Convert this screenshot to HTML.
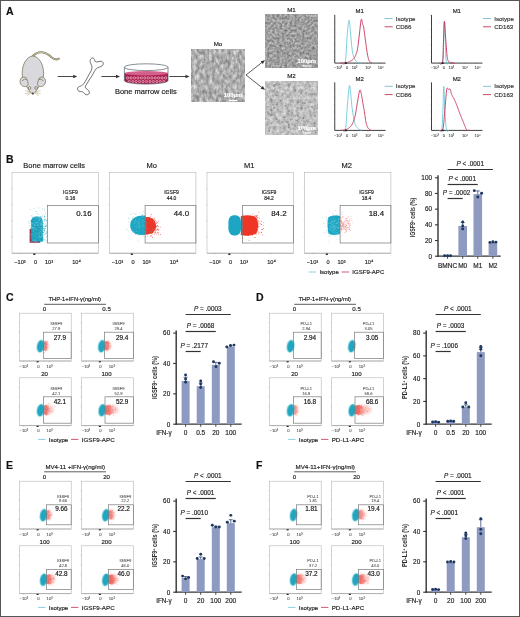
<!DOCTYPE html>
<html><head><meta charset="utf-8"><style>
html,body{margin:0;padding:0;background:#fff;width:520px;height:617px;overflow:hidden}
svg{display:block;will-change:transform}
text{font-family:"Liberation Sans", sans-serif}
</style></head><body>
<svg width="520" height="617" viewBox="0 0 520 617" font-family='"Liberation Sans", sans-serif'>
<defs>
<linearGradient id="rg" x1="0" x2="1" y1="0" y2="0"><stop offset="0" stop-color="#c02a34"/><stop offset="0.25" stop-color="#ec3c36"/><stop offset="0.6" stop-color="#f05a50" stop-opacity="0.8"/><stop offset="1" stop-color="#f5a098" stop-opacity="0.2"/></linearGradient>
<filter id="bl3" x="-50%" y="-50%" width="200%" height="200%"><feGaussianBlur stdDeviation="0.3"/></filter>
<filter id="bl4" x="-50%" y="-50%" width="200%" height="200%"><feGaussianBlur stdDeviation="0.4"/></filter>
<filter id="bl5" x="-50%" y="-50%" width="200%" height="200%"><feGaussianBlur stdDeviation="0.5"/></filter>
<filter id="bl8" x="-50%" y="-50%" width="200%" height="200%"><feGaussianBlur stdDeviation="0.8"/></filter>
<filter id="bl12" x="-50%" y="-50%" width="200%" height="200%"><feGaussianBlur stdDeviation="1.2"/></filter>
</defs>
<rect x="0" y="0" width="520" height="617" fill="#fff"/>
<text x="6.00" y="14.60" font-size="10.5" text-anchor="start" fill="#111" stroke="#111" stroke-width="0.16" font-weight="bold" font-style="normal" >A</text>
<g stroke="#857f66" stroke-width="0.85" fill="#d8d8dd">
<path d="M32.6,56.5 C35,53.5 38,52 42,52.3 C46,52.6 48.5,54.5 51.5,57.2 C54,59.3 56.5,60 58.8,58.6" fill="none" stroke="#857f66" stroke-width="2.1" stroke-linecap="round"/>
<path d="M32.6,56.5 C35,53.5 38,52 42,52.3 C46,52.6 48.5,54.5 51.5,57.2 C54,59.3 56.5,60 58.8,58.6" fill="none" stroke="#c9c3a6" stroke-width="1.0" stroke-linecap="round"/>
<path d="M32.8,56 C26.5,56.5 22.2,64.5 22.2,73.5 C22.2,79 23.5,82.5 25.5,85 L29.5,91 C30.8,93 31.8,93.8 32.8,93.8 C33.8,93.8 34.8,93 36.1,91 L40.1,85 C42.1,82.5 43.6,79 43.6,73.5 C43.6,64.5 39.1,56.5 32.8,56 Z"/>
<path d="M26.5,78.2 C23.5,75.8 19.8,77.5 20.1,81.8 C20.4,85.5 23.5,87.3 26.4,86.3 C27.8,85.8 28.3,84.5 28.2,83.2 Z"/>
<path d="M39.1,78.2 C42.1,75.8 45.8,77.5 45.5,81.8 C45.2,85.5 42.1,87.3 39.2,86.3 C37.8,85.8 37.3,84.5 37.4,83.2 Z"/>
<path d="M22.4,81 C23.2,79.2 25.2,78.7 26.8,79.6" fill="none" stroke="#857f66" stroke-width="0.9"/>
<path d="M43.2,81 C42.4,79.2 40.4,78.7 38.8,79.6" fill="none" stroke="#857f66" stroke-width="0.9"/>
<circle cx="29.5" cy="88" r="1.35" fill="#ececef" stroke="#6e6852" stroke-width="0.75"/>
<circle cx="36.1" cy="88" r="1.35" fill="#ececef" stroke="#6e6852" stroke-width="0.75"/>
<path d="M30.2,92 L25.2,90.6 M30.2,92.6 L25,93.6 M30.6,93.2 L26.8,95.6 M35.4,92 L40.4,90.6 M35.4,92.6 L40.6,93.6 M35,93.2 L38.8,95.6" fill="none" stroke="#b5aa7a" stroke-width="0.6"/>
<circle cx="32.8" cy="93.6" r="1.0" fill="#4a3c28" stroke="none"/>
</g>
<line x1="57.70" y1="76.50" x2="73.70" y2="76.50" stroke="#333" stroke-width="0.9" />
<path d="M77.20,76.50 L73.20,74.80 L73.20,78.20 Z" fill="#333"/>
<path d="M90.5,59.5 C91.5,57 94,57.5 94.5,60 C95,62 96.5,62.5 99,61.5 C102,60.5 104,62.5 103,64.8 C102,66.8 99.5,66.8 97.5,67.8 C95.5,69 94.5,71 93,74 L85.5,86 C84.8,87.3 85.6,88.4 87.2,89.3 C89.5,90.6 90,93 88.6,94.2 C87,95.4 84.8,94.6 84,93.2 C83.2,91.8 81.8,91.5 80.3,91.5 C78.3,91.6 77,89.8 77.6,88.1 C78.3,86.4 80.4,86.2 81.7,85.6 C83,85 84,83.5 85,81.8 L91.3,70.5 C92.4,68.4 92,66 91,64 C90,62.2 89.8,61 90.5,59.5 Z" fill="#fff" stroke="#3a3a3a" stroke-width="0.7"/>
<line x1="101.40" y1="76.50" x2="116.50" y2="76.50" stroke="#333" stroke-width="0.9" />
<path d="M120.00,76.50 L116.00,74.80 L116.00,78.20 Z" fill="#333"/>
<g>
<path d="M124.4,73 L124.4,80.5 A21.8,3.6 0 0 0 168,80.5 L168,73 Z" fill="#a81d4c"/>
<ellipse cx="146.2" cy="73.2" rx="21.8" ry="2.2" fill="#d4608c"/>
<g fill="#b82a5a" stroke="#f6dce6" stroke-width="0.55"><circle cx="127.60" cy="77.90" r="1.2"/><circle cx="131.05" cy="77.90" r="1.2"/><circle cx="134.50" cy="77.90" r="1.2"/><circle cx="137.95" cy="77.90" r="1.2"/><circle cx="141.40" cy="77.90" r="1.2"/><circle cx="144.85" cy="77.90" r="1.2"/><circle cx="148.30" cy="77.90" r="1.2"/><circle cx="151.75" cy="77.90" r="1.2"/><circle cx="155.20" cy="77.90" r="1.2"/><circle cx="158.65" cy="77.90" r="1.2"/><circle cx="162.10" cy="77.90" r="1.2"/><circle cx="165.55" cy="77.90" r="1.2"/><circle cx="129.30" cy="81.50" r="1.1"/><circle cx="132.75" cy="81.50" r="1.1"/><circle cx="136.20" cy="81.50" r="1.1"/><circle cx="139.65" cy="81.50" r="1.1"/><circle cx="143.10" cy="81.50" r="1.1"/><circle cx="146.55" cy="81.50" r="1.1"/><circle cx="150.00" cy="81.50" r="1.1"/><circle cx="153.45" cy="81.50" r="1.1"/><circle cx="156.90" cy="81.50" r="1.1"/><circle cx="160.35" cy="81.50" r="1.1"/><circle cx="163.80" cy="81.50" r="1.1"/></g>
<ellipse cx="146.2" cy="67.2" rx="21.8" ry="3.4" fill="none" stroke="#55606a" stroke-width="0.7"/>
<path d="M124.4,67.2 L124.4,80.5 A21.8,3.6 0 0 0 168,80.5 L168,67.2" fill="none" stroke="#55606a" stroke-width="0.7"/>
</g>
<text x="145.80" y="94.00" font-size="7.5" text-anchor="middle" fill="#1a1a1a" stroke="#1a1a1a" stroke-width="0.16" font-weight="normal" font-style="normal" >Bone marrow cells</text>
<line x1="169.30" y1="76.50" x2="186.00" y2="76.50" stroke="#333" stroke-width="0.9" />
<path d="M189.50,76.50 L185.50,74.80 L185.50,78.20 Z" fill="#333"/>
<filter id="tex3" x="0" y="0" width="100%" height="100%" filterUnits="objectBoundingBox" color-interpolation-filters="sRGB">
<feTurbulence type="fractalNoise" baseFrequency="0.32 0.2" numOctaves="3" seed="3" result="n"/>
<feColorMatrix in="n" type="matrix" values="0.55 0 0 0 0.405  0.55 0 0 0 0.405  0.55 0 0 0 0.405  0 0 0 0 1"/>
</filter>
<rect x="191.3" y="49.5" width="53" height="52.5" filter="url(#tex3)" fill="#888"/>
<text x="242.30" y="97.40" font-size="5.9" text-anchor="end" fill="#fff" stroke="#fff" stroke-width="0.16" font-weight="bold" font-style="normal" textLength="18.5" lengthAdjust="spacingAndGlyphs">100μm</text>
<line x1="229.30" y1="100.50" x2="237.30" y2="100.50" stroke="#fff" stroke-width="1.1" />
<text x="218.00" y="46.00" font-size="6.2" text-anchor="middle" fill="#222" stroke="#222" stroke-width="0.16" font-weight="normal" font-style="normal" >Mo</text>
<filter id="tex5" x="0" y="0" width="100%" height="100%" filterUnits="objectBoundingBox" color-interpolation-filters="sRGB">
<feTurbulence type="fractalNoise" baseFrequency="0.4" numOctaves="3" seed="5" result="n"/>
<feColorMatrix in="n" type="matrix" values="0.5 0 0 0 0.37  0.5 0 0 0 0.37  0.5 0 0 0 0.37  0 0 0 0 1"/>
</filter>
<rect x="265.3" y="14.8" width="52.7" height="52.7" filter="url(#tex5)" fill="#888"/>
<text x="316.00" y="62.90" font-size="5.9" text-anchor="end" fill="#fff" stroke="#fff" stroke-width="0.16" font-weight="bold" font-style="normal" textLength="18.5" lengthAdjust="spacingAndGlyphs">100μm</text>
<line x1="303.00" y1="66.00" x2="311.00" y2="66.00" stroke="#fff" stroke-width="1.1" />
<text x="291.50" y="11.50" font-size="6.2" text-anchor="middle" fill="#222" stroke="#222" stroke-width="0.16" font-weight="normal" font-style="normal" >M1</text>
<filter id="tex9" x="0" y="0" width="100%" height="100%" filterUnits="objectBoundingBox" color-interpolation-filters="sRGB">
<feTurbulence type="fractalNoise" baseFrequency="0.3" numOctaves="3" seed="9" result="n"/>
<feColorMatrix in="n" type="matrix" values="0.4 0 0 0 0.55  0.4 0 0 0 0.55  0.4 0 0 0 0.55  0 0 0 0 1"/>
</filter>
<rect x="265.3" y="81.8" width="52.7" height="52.7" filter="url(#tex9)" fill="#888"/>
<text x="316.00" y="129.90" font-size="5.9" text-anchor="end" fill="#fff" stroke="#fff" stroke-width="0.16" font-weight="bold" font-style="normal" textLength="18.5" lengthAdjust="spacingAndGlyphs">100μm</text>
<line x1="303.00" y1="133.00" x2="311.00" y2="133.00" stroke="#fff" stroke-width="1.1" />
<g fill="#6a6a6a" opacity="0.55"><ellipse cx="289.3" cy="111.1" rx="1.2" ry="0.8"/><ellipse cx="292.0" cy="112.4" rx="0.8" ry="0.8"/><ellipse cx="298.0" cy="122.4" rx="0.7" ry="0.7"/><ellipse cx="271.7" cy="123.2" rx="1.0" ry="0.6"/><ellipse cx="315.1" cy="130.8" rx="1.0" ry="0.8"/><ellipse cx="275.0" cy="84.5" rx="1.0" ry="0.6"/><ellipse cx="276.6" cy="95.6" rx="0.7" ry="0.8"/><ellipse cx="288.8" cy="124.8" rx="1.0" ry="0.9"/><ellipse cx="291.6" cy="116.1" rx="0.9" ry="0.7"/><ellipse cx="315.9" cy="132.3" rx="1.1" ry="0.9"/><ellipse cx="282.7" cy="95.0" rx="0.8" ry="0.6"/><ellipse cx="304.6" cy="103.3" rx="1.1" ry="0.8"/><ellipse cx="314.0" cy="125.1" rx="0.7" ry="0.7"/><ellipse cx="311.6" cy="106.7" rx="1.2" ry="0.8"/><ellipse cx="270.9" cy="114.5" rx="1.1" ry="0.7"/><ellipse cx="271.5" cy="100.0" rx="1.2" ry="0.9"/><ellipse cx="273.0" cy="95.8" rx="0.8" ry="0.6"/><ellipse cx="306.1" cy="92.5" rx="1.0" ry="0.8"/><ellipse cx="276.6" cy="119.4" rx="0.8" ry="0.9"/><ellipse cx="273.0" cy="104.3" rx="0.8" ry="0.7"/><ellipse cx="314.6" cy="122.9" rx="0.9" ry="1.0"/><ellipse cx="277.6" cy="103.0" rx="1.1" ry="0.9"/><ellipse cx="272.2" cy="132.0" rx="0.8" ry="0.7"/><ellipse cx="304.9" cy="99.8" rx="0.8" ry="0.6"/><ellipse cx="271.7" cy="112.2" rx="0.8" ry="0.8"/><ellipse cx="285.4" cy="105.9" rx="1.2" ry="0.8"/><ellipse cx="295.3" cy="126.0" rx="0.8" ry="0.7"/><ellipse cx="311.5" cy="123.6" rx="0.8" ry="0.7"/><ellipse cx="303.3" cy="129.6" rx="0.8" ry="1.0"/><ellipse cx="310.3" cy="113.2" rx="0.9" ry="0.6"/><ellipse cx="269.2" cy="130.7" rx="0.8" ry="0.9"/><ellipse cx="279.8" cy="123.9" rx="1.0" ry="0.7"/><ellipse cx="275.8" cy="118.9" rx="0.7" ry="0.7"/><ellipse cx="294.5" cy="125.3" rx="1.0" ry="0.7"/><ellipse cx="312.0" cy="93.7" rx="0.7" ry="0.7"/><ellipse cx="289.0" cy="86.7" rx="0.8" ry="0.7"/><ellipse cx="295.2" cy="90.2" rx="0.9" ry="1.0"/><ellipse cx="315.1" cy="115.8" rx="1.0" ry="0.8"/><ellipse cx="274.1" cy="85.5" rx="0.7" ry="1.0"/><ellipse cx="301.4" cy="130.7" rx="0.7" ry="0.9"/><ellipse cx="290.8" cy="119.4" rx="0.9" ry="1.0"/><ellipse cx="271.0" cy="110.4" rx="1.1" ry="1.0"/><ellipse cx="303.2" cy="118.1" rx="1.1" ry="1.0"/><ellipse cx="284.4" cy="117.2" rx="1.2" ry="0.9"/><ellipse cx="287.6" cy="122.3" rx="1.1" ry="0.8"/><ellipse cx="297.7" cy="102.4" rx="1.0" ry="0.8"/><ellipse cx="271.2" cy="114.9" rx="1.2" ry="1.0"/><ellipse cx="302.8" cy="102.7" rx="1.1" ry="0.8"/><ellipse cx="288.8" cy="124.6" rx="0.7" ry="0.9"/><ellipse cx="268.8" cy="113.1" rx="0.9" ry="0.7"/><ellipse cx="301.3" cy="108.0" rx="1.0" ry="1.0"/><ellipse cx="279.8" cy="84.4" rx="0.9" ry="0.9"/><ellipse cx="277.2" cy="92.1" rx="1.2" ry="0.9"/><ellipse cx="288.8" cy="127.2" rx="0.9" ry="0.9"/><ellipse cx="277.0" cy="104.8" rx="1.1" ry="1.0"/><ellipse cx="310.2" cy="102.5" rx="1.0" ry="0.7"/><ellipse cx="273.9" cy="108.0" rx="1.1" ry="0.9"/><ellipse cx="301.9" cy="130.1" rx="0.8" ry="0.7"/><ellipse cx="289.2" cy="97.2" rx="0.8" ry="0.8"/><ellipse cx="297.8" cy="107.9" rx="0.9" ry="0.9"/><ellipse cx="315.1" cy="105.8" rx="0.7" ry="0.6"/><ellipse cx="309.8" cy="85.8" rx="1.1" ry="0.8"/><ellipse cx="282.3" cy="122.3" rx="0.7" ry="0.7"/><ellipse cx="289.5" cy="85.0" rx="1.1" ry="0.7"/><ellipse cx="274.2" cy="86.1" rx="1.0" ry="0.8"/><ellipse cx="298.0" cy="115.7" rx="1.1" ry="1.0"/><ellipse cx="300.6" cy="93.5" rx="0.9" ry="0.7"/><ellipse cx="267.8" cy="106.8" rx="1.1" ry="0.7"/><ellipse cx="280.6" cy="100.6" rx="1.0" ry="0.8"/><ellipse cx="297.2" cy="120.6" rx="0.9" ry="0.9"/></g>
<text x="291.50" y="77.50" font-size="6.2" text-anchor="middle" fill="#222" stroke="#222" stroke-width="0.16" font-weight="normal" font-style="normal" >M2</text>
<line x1="246.00" y1="75.00" x2="262.50" y2="62.00" stroke="#333" stroke-width="0.8" />
<path d="M265,60.2 L260.6,61.2 L262.8,64 Z" fill="#333"/>
<line x1="246.00" y1="75.00" x2="262.50" y2="88.00" stroke="#333" stroke-width="0.8" />
<path d="M265,89.8 L262.8,86 L260.6,88.8 Z" fill="#333"/>
<line x1="334.75" y1="15.00" x2="334.75" y2="63.10" stroke="#2a2a2a" stroke-width="0.9" />
<line x1="334.75" y1="63.10" x2="385.60" y2="63.10" stroke="#2a2a2a" stroke-width="0.9" />
<line x1="333.75" y1="15.00" x2="334.75" y2="15.00" stroke="#555" stroke-width="0.4" />
<line x1="333.75" y1="22.40" x2="334.75" y2="22.40" stroke="#555" stroke-width="0.4" />
<line x1="333.75" y1="29.80" x2="334.75" y2="29.80" stroke="#555" stroke-width="0.4" />
<line x1="333.75" y1="37.20" x2="334.75" y2="37.20" stroke="#555" stroke-width="0.4" />
<line x1="333.75" y1="44.60" x2="334.75" y2="44.60" stroke="#555" stroke-width="0.4" />
<line x1="333.75" y1="52.00" x2="334.75" y2="52.00" stroke="#555" stroke-width="0.4" />
<line x1="333.75" y1="59.40" x2="334.75" y2="59.40" stroke="#555" stroke-width="0.4" />
<text x="359.70" y="13.10" font-size="6.0" text-anchor="middle" fill="#222" stroke="#222" stroke-width="0.16" font-weight="normal" font-style="normal" >M1</text>
<text x="337.95" y="69.40" font-size="4.0" text-anchor="middle" fill="#333" stroke="#333" stroke-width="0.05" font-weight="normal" font-style="normal" >−10³</text>
<text x="347.05" y="69.40" font-size="4.0" text-anchor="middle" fill="#333" stroke="#333" stroke-width="0.05" font-weight="normal" font-style="normal" >0</text>
<text x="354.55" y="69.40" font-size="4.0" text-anchor="middle" fill="#333" stroke="#333" stroke-width="0.05" font-weight="normal" font-style="normal" >10³</text>
<text x="368.25" y="69.40" font-size="4.0" text-anchor="middle" fill="#333" stroke="#333" stroke-width="0.05" font-weight="normal" font-style="normal" >10⁴</text>
<text x="380.75" y="69.40" font-size="4.0" text-anchor="middle" fill="#333" stroke="#333" stroke-width="0.05" font-weight="normal" font-style="normal" >10⁵</text>
<line x1="346.35" y1="63.10" x2="346.35" y2="63.90" stroke="#444" stroke-width="0.4" />
<line x1="354.45" y1="63.10" x2="354.45" y2="63.90" stroke="#444" stroke-width="0.4" />
<line x1="367.45" y1="63.10" x2="367.45" y2="63.90" stroke="#444" stroke-width="0.4" />
<line x1="380.05" y1="63.10" x2="380.05" y2="63.90" stroke="#444" stroke-width="0.4" />
<path d="M342.00,63.10 L342.26,63.20 L342.63,63.53 L343.06,63.95 L343.53,64.29 L344.02,64.43 L344.50,64.21 L344.93,63.48 L345.30,62.10 L345.61,59.88 L345.88,56.87 L346.12,53.31 L346.34,49.41 L346.56,45.41 L346.76,41.52 L346.98,37.98 L347.20,35.00 L347.43,32.37 L347.66,29.79 L347.90,27.34 L348.12,25.11 L348.35,23.19 L348.57,21.67 L348.79,20.65 L349.00,20.20 L349.20,20.44 L349.38,21.31 L349.56,22.71 L349.74,24.49 L349.91,26.53 L350.10,28.72 L350.29,30.91 L350.50,33.00 L350.72,35.16 L350.95,37.58 L351.19,40.18 L351.44,42.83 L351.69,45.44 L351.95,47.91 L352.22,50.13 L352.50,52.00 L352.79,53.52 L353.08,54.78 L353.38,55.84 L353.69,56.74 L354.00,57.51 L354.33,58.20 L354.66,58.85 L355.00,59.50 L355.34,60.12 L355.69,60.67 L356.04,61.14 L356.41,61.54 L356.78,61.89 L357.17,62.20 L357.57,62.46 L358.00,62.70 L358.48,62.89 L359.02,63.01 L359.60,63.07 L360.19,63.10 L360.75,63.10 L361.26,63.09 L361.68,63.09 L362.00,63.10" fill="none" stroke="#5cc4d6" stroke-width="0.8" stroke-linejoin="round"/>
<path d="M340.00,63.10 L340.47,63.09 L341.10,63.08 L341.85,63.08 L342.69,63.07 L343.56,63.04 L344.43,62.99 L345.26,62.92 L346.00,62.80 L346.68,62.65 L347.36,62.47 L348.01,62.27 L348.66,62.04 L349.28,61.79 L349.88,61.52 L350.45,61.22 L351.00,60.90 L351.51,60.57 L352.00,60.25 L352.45,59.92 L352.89,59.55 L353.30,59.14 L353.71,58.67 L354.11,58.13 L354.50,57.50 L354.89,56.81 L355.27,56.09 L355.64,55.32 L355.99,54.48 L356.34,53.54 L356.67,52.50 L356.99,51.32 L357.30,50.00 L357.59,48.49 L357.86,46.79 L358.11,44.95 L358.36,43.00 L358.59,40.99 L358.83,38.96 L359.06,36.95 L359.30,35.00 L359.55,32.95 L359.79,30.69 L360.04,28.35 L360.29,26.03 L360.53,23.87 L360.76,21.98 L360.99,20.48 L361.20,19.50 L361.40,19.12 L361.59,19.25 L361.78,19.79 L361.96,20.59 L362.13,21.54 L362.29,22.51 L362.45,23.37 L362.60,24.00 L362.74,24.38 L362.86,24.62 L362.97,24.80 L363.08,24.97 L363.18,25.21 L363.30,25.58 L363.44,26.16 L363.60,27.00 L363.79,28.14 L363.99,29.52 L364.21,31.10 L364.44,32.81 L364.68,34.61 L364.92,36.45 L365.16,38.26 L365.40,40.00 L365.64,41.75 L365.89,43.59 L366.14,45.48 L366.39,47.38 L366.65,49.22 L366.90,50.97 L367.15,52.58 L367.40,54.00 L367.64,55.24 L367.86,56.36 L368.08,57.35 L368.31,58.24 L368.53,59.04 L368.77,59.76 L369.02,60.41 L369.30,61.00 L369.62,61.51 L369.98,61.92 L370.37,62.24 L370.77,62.49 L371.15,62.68 L371.50,62.84 L371.79,62.97 L372.00,63.10" fill="none" stroke="#c8325a" stroke-width="0.9" stroke-linejoin="round"/>
<rect x="344.75" y="62.300000000000004" width="2.2" height="1.6" fill="#222"/>
<line x1="334.75" y1="82.50" x2="334.75" y2="130.40" stroke="#2a2a2a" stroke-width="0.9" />
<line x1="334.75" y1="130.40" x2="385.60" y2="130.40" stroke="#2a2a2a" stroke-width="0.9" />
<line x1="333.75" y1="82.50" x2="334.75" y2="82.50" stroke="#555" stroke-width="0.4" />
<line x1="333.75" y1="89.87" x2="334.75" y2="89.87" stroke="#555" stroke-width="0.4" />
<line x1="333.75" y1="97.24" x2="334.75" y2="97.24" stroke="#555" stroke-width="0.4" />
<line x1="333.75" y1="104.61" x2="334.75" y2="104.61" stroke="#555" stroke-width="0.4" />
<line x1="333.75" y1="111.98" x2="334.75" y2="111.98" stroke="#555" stroke-width="0.4" />
<line x1="333.75" y1="119.35" x2="334.75" y2="119.35" stroke="#555" stroke-width="0.4" />
<line x1="333.75" y1="126.72" x2="334.75" y2="126.72" stroke="#555" stroke-width="0.4" />
<text x="359.70" y="80.60" font-size="6.0" text-anchor="middle" fill="#222" stroke="#222" stroke-width="0.16" font-weight="normal" font-style="normal" >M2</text>
<text x="337.95" y="136.70" font-size="4.0" text-anchor="middle" fill="#333" stroke="#333" stroke-width="0.05" font-weight="normal" font-style="normal" >−10³</text>
<text x="347.05" y="136.70" font-size="4.0" text-anchor="middle" fill="#333" stroke="#333" stroke-width="0.05" font-weight="normal" font-style="normal" >0</text>
<text x="354.55" y="136.70" font-size="4.0" text-anchor="middle" fill="#333" stroke="#333" stroke-width="0.05" font-weight="normal" font-style="normal" >10³</text>
<text x="368.25" y="136.70" font-size="4.0" text-anchor="middle" fill="#333" stroke="#333" stroke-width="0.05" font-weight="normal" font-style="normal" >10⁴</text>
<text x="380.75" y="136.70" font-size="4.0" text-anchor="middle" fill="#333" stroke="#333" stroke-width="0.05" font-weight="normal" font-style="normal" >10⁵</text>
<line x1="346.35" y1="130.40" x2="346.35" y2="131.20" stroke="#444" stroke-width="0.4" />
<line x1="354.45" y1="130.40" x2="354.45" y2="131.20" stroke="#444" stroke-width="0.4" />
<line x1="367.45" y1="130.40" x2="367.45" y2="131.20" stroke="#444" stroke-width="0.4" />
<line x1="380.05" y1="130.40" x2="380.05" y2="131.20" stroke="#444" stroke-width="0.4" />
<path d="M342.00,130.40 L342.27,130.49 L342.64,130.79 L343.08,131.17 L343.57,131.49 L344.07,131.61 L344.56,131.39 L345.01,130.70 L345.40,129.40 L345.73,127.34 L346.02,124.60 L346.29,121.35 L346.54,117.79 L346.78,114.08 L347.02,110.43 L347.26,107.01 L347.50,104.00 L347.75,101.18 L348.00,98.26 L348.25,95.37 L348.49,92.62 L348.73,90.16 L348.96,88.08 L349.19,86.52 L349.40,85.60 L349.60,85.40 L349.78,85.84 L349.95,86.80 L350.11,88.15 L350.27,89.77 L350.44,91.53 L350.61,93.32 L350.80,95.00 L350.99,96.71 L351.19,98.61 L351.38,100.66 L351.58,102.79 L351.79,104.95 L352.01,107.08 L352.25,109.11 L352.50,111.00 L352.77,112.80 L353.06,114.59 L353.36,116.35 L353.67,118.05 L353.99,119.66 L354.32,121.16 L354.66,122.51 L355.00,123.70 L355.34,124.70 L355.69,125.52 L356.04,126.21 L356.41,126.77 L356.78,127.26 L357.17,127.69 L357.57,128.09 L358.00,128.50 L358.48,128.89 L359.02,129.22 L359.60,129.51 L360.19,129.75 L360.75,129.95 L361.26,130.13 L361.68,130.27 L362.00,130.40" fill="none" stroke="#5cc4d6" stroke-width="0.8" stroke-linejoin="round"/>
<path d="M340.00,130.40 L340.48,130.35 L341.12,130.30 L341.90,130.24 L342.75,130.16 L343.63,130.07 L344.50,129.95 L345.30,129.79 L346.00,129.60 L346.60,129.37 L347.16,129.12 L347.69,128.84 L348.19,128.53 L348.66,128.19 L349.12,127.83 L349.56,127.43 L350.00,127.00 L350.43,126.56 L350.83,126.10 L351.22,125.63 L351.59,125.12 L351.96,124.56 L352.31,123.95 L352.66,123.27 L353.00,122.50 L353.34,121.65 L353.67,120.74 L354.00,119.76 L354.31,118.72 L354.62,117.62 L354.92,116.46 L355.21,115.26 L355.50,114.00 L355.77,112.66 L356.03,111.24 L356.28,109.74 L356.52,108.19 L356.76,106.62 L357.00,105.05 L357.24,103.50 L357.50,102.00 L357.77,100.43 L358.05,98.73 L358.34,96.97 L358.63,95.26 L358.92,93.66 L359.19,92.26 L359.46,91.14 L359.70,90.40 L359.92,90.04 L360.12,89.98 L360.30,90.17 L360.48,90.59 L360.65,91.17 L360.82,91.88 L361.00,92.67 L361.20,93.50 L361.41,94.44 L361.63,95.57 L361.86,96.84 L362.09,98.21 L362.33,99.63 L362.56,101.05 L362.78,102.42 L363.00,103.70 L363.21,104.90 L363.42,106.08 L363.62,107.24 L363.83,108.39 L364.02,109.54 L364.22,110.68 L364.41,111.83 L364.60,113.00 L364.78,114.21 L364.95,115.45 L365.11,116.72 L365.28,117.99 L365.44,119.22 L365.61,120.40 L365.80,121.50 L366.00,122.50 L366.21,123.40 L366.43,124.23 L366.66,124.99 L366.90,125.69 L367.15,126.34 L367.42,126.94 L367.70,127.49 L368.00,128.00 L368.35,128.46 L368.75,128.87 L369.18,129.23 L369.62,129.54 L370.05,129.81 L370.44,130.04 L370.76,130.24 L371.00,130.40" fill="none" stroke="#c8325a" stroke-width="0.9" stroke-linejoin="round"/>
<rect x="344.75" y="129.6" width="2.2" height="1.6" fill="#222"/>
<line x1="431.50" y1="15.00" x2="431.50" y2="63.10" stroke="#2a2a2a" stroke-width="0.9" />
<line x1="431.50" y1="63.10" x2="482.50" y2="63.10" stroke="#2a2a2a" stroke-width="0.9" />
<line x1="430.50" y1="15.00" x2="431.50" y2="15.00" stroke="#555" stroke-width="0.4" />
<line x1="430.50" y1="22.40" x2="431.50" y2="22.40" stroke="#555" stroke-width="0.4" />
<line x1="430.50" y1="29.80" x2="431.50" y2="29.80" stroke="#555" stroke-width="0.4" />
<line x1="430.50" y1="37.20" x2="431.50" y2="37.20" stroke="#555" stroke-width="0.4" />
<line x1="430.50" y1="44.60" x2="431.50" y2="44.60" stroke="#555" stroke-width="0.4" />
<line x1="430.50" y1="52.00" x2="431.50" y2="52.00" stroke="#555" stroke-width="0.4" />
<line x1="430.50" y1="59.40" x2="431.50" y2="59.40" stroke="#555" stroke-width="0.4" />
<text x="456.80" y="13.10" font-size="6.0" text-anchor="middle" fill="#222" stroke="#222" stroke-width="0.16" font-weight="normal" font-style="normal" >M1</text>
<text x="434.70" y="69.40" font-size="4.0" text-anchor="middle" fill="#333" stroke="#333" stroke-width="0.05" font-weight="normal" font-style="normal" >−10³</text>
<text x="443.80" y="69.40" font-size="4.0" text-anchor="middle" fill="#333" stroke="#333" stroke-width="0.05" font-weight="normal" font-style="normal" >0</text>
<text x="451.30" y="69.40" font-size="4.0" text-anchor="middle" fill="#333" stroke="#333" stroke-width="0.05" font-weight="normal" font-style="normal" >10³</text>
<text x="465.00" y="69.40" font-size="4.0" text-anchor="middle" fill="#333" stroke="#333" stroke-width="0.05" font-weight="normal" font-style="normal" >10⁴</text>
<text x="477.50" y="69.40" font-size="4.0" text-anchor="middle" fill="#333" stroke="#333" stroke-width="0.05" font-weight="normal" font-style="normal" >10⁵</text>
<line x1="443.10" y1="63.10" x2="443.10" y2="63.90" stroke="#444" stroke-width="0.4" />
<line x1="451.20" y1="63.10" x2="451.20" y2="63.90" stroke="#444" stroke-width="0.4" />
<line x1="464.20" y1="63.10" x2="464.20" y2="63.90" stroke="#444" stroke-width="0.4" />
<line x1="476.80" y1="63.10" x2="476.80" y2="63.90" stroke="#444" stroke-width="0.4" />
<path d="M439.00,63.10 L439.29,63.15 L439.69,63.37 L440.17,63.64 L440.69,63.86 L441.22,63.92 L441.72,63.72 L442.16,63.15 L442.50,62.10 L442.75,60.50 L442.93,58.43 L443.07,55.98 L443.17,53.27 L443.25,50.41 L443.32,47.50 L443.40,44.66 L443.50,42.00 L443.61,39.18 L443.71,35.94 L443.81,32.54 L443.90,29.21 L443.99,26.20 L444.09,23.75 L444.19,22.10 L444.30,21.50 L444.42,22.10 L444.54,23.75 L444.66,26.20 L444.79,29.21 L444.92,32.54 L445.05,35.94 L445.17,39.18 L445.30,42.00 L445.41,44.66 L445.51,47.50 L445.60,50.41 L445.69,53.27 L445.80,55.98 L445.93,58.43 L446.09,60.50 L446.30,62.10 L446.57,63.15 L446.92,63.72 L447.31,63.92 L447.71,63.86 L448.11,63.64 L448.48,63.37 L448.78,63.15 L449.00,63.10" fill="none" stroke="#5cc4d6" stroke-width="0.8" stroke-linejoin="round"/>
<path d="M439.00,63.10 L439.30,63.15 L439.71,63.37 L440.20,63.64 L440.74,63.86 L441.29,63.92 L441.81,63.72 L442.25,63.15 L442.60,62.10 L442.84,60.51 L443.01,58.43 L443.14,55.99 L443.22,53.29 L443.28,50.43 L443.34,47.52 L443.41,44.68 L443.50,42.00 L443.61,39.18 L443.72,35.99 L443.82,32.64 L443.93,29.36 L444.04,26.35 L444.15,23.84 L444.27,22.05 L444.40,21.20 L444.53,21.41 L444.67,22.52 L444.82,24.35 L444.97,26.67 L445.12,29.31 L445.28,32.04 L445.44,34.67 L445.60,37.00 L445.76,39.22 L445.93,41.61 L446.11,44.09 L446.28,46.58 L446.46,49.00 L446.64,51.26 L446.82,53.29 L447.00,55.00 L447.17,56.40 L447.32,57.56 L447.47,58.51 L447.62,59.29 L447.79,59.95 L447.98,60.51 L448.22,61.01 L448.50,61.50 L448.85,61.92 L449.25,62.21 L449.69,62.41 L450.16,62.54 L450.64,62.61 L451.11,62.67 L451.57,62.72 L452.00,62.80 L452.42,62.89 L452.86,62.95 L453.29,63.00 L453.72,63.03 L454.12,63.05 L454.47,63.07 L454.77,63.08 L455.00,63.10" fill="none" stroke="#c8325a" stroke-width="0.9" stroke-linejoin="round"/>
<rect x="441.5" y="62.300000000000004" width="2.2" height="1.6" fill="#222"/>
<line x1="431.50" y1="82.50" x2="431.50" y2="130.40" stroke="#2a2a2a" stroke-width="0.9" />
<line x1="431.50" y1="130.40" x2="482.50" y2="130.40" stroke="#2a2a2a" stroke-width="0.9" />
<line x1="430.50" y1="82.50" x2="431.50" y2="82.50" stroke="#555" stroke-width="0.4" />
<line x1="430.50" y1="89.87" x2="431.50" y2="89.87" stroke="#555" stroke-width="0.4" />
<line x1="430.50" y1="97.24" x2="431.50" y2="97.24" stroke="#555" stroke-width="0.4" />
<line x1="430.50" y1="104.61" x2="431.50" y2="104.61" stroke="#555" stroke-width="0.4" />
<line x1="430.50" y1="111.98" x2="431.50" y2="111.98" stroke="#555" stroke-width="0.4" />
<line x1="430.50" y1="119.35" x2="431.50" y2="119.35" stroke="#555" stroke-width="0.4" />
<line x1="430.50" y1="126.72" x2="431.50" y2="126.72" stroke="#555" stroke-width="0.4" />
<text x="456.80" y="80.60" font-size="6.0" text-anchor="middle" fill="#222" stroke="#222" stroke-width="0.16" font-weight="normal" font-style="normal" >M2</text>
<text x="434.70" y="136.70" font-size="4.0" text-anchor="middle" fill="#333" stroke="#333" stroke-width="0.05" font-weight="normal" font-style="normal" >−10³</text>
<text x="443.80" y="136.70" font-size="4.0" text-anchor="middle" fill="#333" stroke="#333" stroke-width="0.05" font-weight="normal" font-style="normal" >0</text>
<text x="451.30" y="136.70" font-size="4.0" text-anchor="middle" fill="#333" stroke="#333" stroke-width="0.05" font-weight="normal" font-style="normal" >10³</text>
<text x="465.00" y="136.70" font-size="4.0" text-anchor="middle" fill="#333" stroke="#333" stroke-width="0.05" font-weight="normal" font-style="normal" >10⁴</text>
<text x="477.50" y="136.70" font-size="4.0" text-anchor="middle" fill="#333" stroke="#333" stroke-width="0.05" font-weight="normal" font-style="normal" >10⁵</text>
<line x1="443.10" y1="130.40" x2="443.10" y2="131.20" stroke="#444" stroke-width="0.4" />
<line x1="451.20" y1="130.40" x2="451.20" y2="131.20" stroke="#444" stroke-width="0.4" />
<line x1="464.20" y1="130.40" x2="464.20" y2="131.20" stroke="#444" stroke-width="0.4" />
<line x1="476.80" y1="130.40" x2="476.80" y2="131.20" stroke="#444" stroke-width="0.4" />
<path d="M439.00,130.40 L439.23,130.46 L439.54,130.70 L439.92,130.99 L440.33,131.24 L440.74,131.31 L441.15,131.11 L441.51,130.51 L441.80,129.40 L442.03,127.70 L442.22,125.49 L442.38,122.88 L442.52,119.99 L442.65,116.94 L442.77,113.85 L442.88,110.83 L443.00,108.00 L443.12,105.01 L443.22,101.58 L443.32,97.98 L443.41,94.46 L443.50,91.27 L443.60,88.68 L443.69,86.94 L443.80,86.30 L443.91,86.94 L444.02,88.68 L444.13,91.27 L444.25,94.46 L444.37,97.98 L444.50,101.58 L444.64,105.01 L444.80,108.00 L444.96,110.83 L445.13,113.85 L445.31,116.94 L445.50,119.99 L445.70,122.88 L445.92,125.49 L446.15,127.70 L446.40,129.40 L446.69,130.51 L447.04,131.11 L447.42,131.31 L447.80,131.24 L448.17,130.99 L448.51,130.70 L448.79,130.46 L449.00,130.40" fill="none" stroke="#5cc4d6" stroke-width="0.8" stroke-linejoin="round"/>
<path d="M440.00,130.40 L440.24,130.42 L440.56,130.59 L440.95,130.80 L441.38,130.96 L441.82,130.95 L442.25,130.67 L442.65,130.03 L443.00,128.90 L443.30,127.19 L443.58,124.95 L443.85,122.31 L444.09,119.42 L444.33,116.40 L444.56,113.41 L444.78,110.56 L445.00,108.00 L445.22,105.59 L445.43,103.15 L445.63,100.72 L445.82,98.38 L446.01,96.17 L446.19,94.17 L446.35,92.42 L446.50,91.00 L446.63,89.93 L446.74,89.18 L446.83,88.69 L446.91,88.40 L446.99,88.25 L447.08,88.19 L447.18,88.16 L447.30,88.10 L447.44,88.08 L447.58,88.19 L447.73,88.38 L447.89,88.64 L448.06,88.91 L448.24,89.17 L448.41,89.38 L448.60,89.50 L448.80,89.51 L449.01,89.44 L449.24,89.31 L449.47,89.17 L449.70,89.05 L449.91,88.99 L450.12,89.03 L450.30,89.20 L450.46,89.53 L450.60,90.00 L450.73,90.56 L450.84,91.19 L450.96,91.83 L451.07,92.46 L451.18,93.03 L451.30,93.50 L451.43,93.89 L451.55,94.23 L451.68,94.54 L451.80,94.81 L451.93,95.07 L452.05,95.31 L452.18,95.55 L452.30,95.80 L452.42,96.04 L452.55,96.26 L452.67,96.47 L452.79,96.67 L452.92,96.87 L453.04,97.07 L453.17,97.28 L453.30,97.50 L453.43,97.72 L453.54,97.91 L453.66,98.10 L453.78,98.29 L453.91,98.52 L454.05,98.78 L454.21,99.10 L454.40,99.50 L454.61,99.97 L454.85,100.52 L455.11,101.11 L455.38,101.75 L455.66,102.42 L455.94,103.11 L456.23,103.81 L456.50,104.50 L456.77,105.20 L457.04,105.93 L457.31,106.68 L457.59,107.44 L457.86,108.21 L458.14,108.98 L458.42,109.74 L458.70,110.50 L458.98,111.25 L459.26,112.00 L459.55,112.75 L459.83,113.50 L460.12,114.25 L460.41,115.00 L460.70,115.75 L461.00,116.50 L461.31,117.26 L461.62,118.02 L461.94,118.79 L462.27,119.56 L462.59,120.32 L462.91,121.07 L463.21,121.80 L463.50,122.50 L463.78,123.19 L464.05,123.88 L464.31,124.55 L464.56,125.21 L464.81,125.84 L465.05,126.44 L465.28,127.00 L465.50,127.50 L465.71,127.96 L465.90,128.37 L466.08,128.75 L466.25,129.09 L466.42,129.40 L466.60,129.67 L466.79,129.90 L467.00,130.10 L467.24,130.25 L467.51,130.34 L467.80,130.39 L468.09,130.41 L468.37,130.41 L468.63,130.40 L468.84,130.39 L469.00,130.40" fill="none" stroke="#c8325a" stroke-width="0.9" stroke-linejoin="round"/>
<rect x="441.5" y="129.6" width="2.2" height="1.6" fill="#222"/>
<line x1="384.60" y1="18.50" x2="392.60" y2="18.50" stroke="#80c6dc" stroke-width="1.0" />
<text x="395.80" y="20.60" font-size="6.1" text-anchor="start" fill="#333" stroke="#333" stroke-width="0.16" font-weight="normal" font-style="normal" >Isotype</text>
<line x1="384.60" y1="26.80" x2="392.60" y2="26.80" stroke="#cc4a62" stroke-width="1.0" />
<text x="395.80" y="28.90" font-size="6.1" text-anchor="start" fill="#333" stroke="#333" stroke-width="0.16" font-weight="normal" font-style="normal" >CD86</text>
<line x1="483.00" y1="18.50" x2="491.00" y2="18.50" stroke="#80c6dc" stroke-width="1.0" />
<text x="494.20" y="20.60" font-size="6.1" text-anchor="start" fill="#333" stroke="#333" stroke-width="0.16" font-weight="normal" font-style="normal" >Isotype</text>
<line x1="483.00" y1="26.80" x2="491.00" y2="26.80" stroke="#cc4a62" stroke-width="1.0" />
<text x="494.20" y="28.90" font-size="6.1" text-anchor="start" fill="#333" stroke="#333" stroke-width="0.16" font-weight="normal" font-style="normal" >CD163</text>
<line x1="384.60" y1="86.30" x2="392.60" y2="86.30" stroke="#80c6dc" stroke-width="1.0" />
<text x="395.80" y="88.40" font-size="6.1" text-anchor="start" fill="#333" stroke="#333" stroke-width="0.16" font-weight="normal" font-style="normal" >Isotype</text>
<line x1="384.60" y1="94.60" x2="392.60" y2="94.60" stroke="#cc4a62" stroke-width="1.0" />
<text x="395.80" y="96.70" font-size="6.1" text-anchor="start" fill="#333" stroke="#333" stroke-width="0.16" font-weight="normal" font-style="normal" >CD86</text>
<line x1="483.00" y1="86.30" x2="491.00" y2="86.30" stroke="#80c6dc" stroke-width="1.0" />
<text x="494.20" y="88.40" font-size="6.1" text-anchor="start" fill="#333" stroke="#333" stroke-width="0.16" font-weight="normal" font-style="normal" >Isotype</text>
<line x1="483.00" y1="94.60" x2="491.00" y2="94.60" stroke="#cc4a62" stroke-width="1.0" />
<text x="494.20" y="96.70" font-size="6.1" text-anchor="start" fill="#333" stroke="#333" stroke-width="0.16" font-weight="normal" font-style="normal" >CD163</text>
<text x="6.00" y="162.50" font-size="10.5" text-anchor="start" fill="#111" stroke="#111" stroke-width="0.16" font-weight="bold" font-style="normal" >B</text>
<text x="54.20" y="167.60" font-size="7.5" text-anchor="middle" fill="#222" stroke="#222" stroke-width="0.16" font-weight="normal" font-style="normal" >Bone marrow cells</text>
<path d="M29.6,229 h2.4 v11.6 h8 v2.2 h-10.4 z" fill="#9a3448" filter="url(#bl4)"/>
<path d="M31.0,222 C31.0,217.5 34,216.3 37,216.5 C40.5,216.5 42.8,218 42.8,222 L43.2,241.6 L31.5,241.6 Z" fill="#1ba6c4" filter="url(#bl5)"/>
<path d="M37.8,231.8h0.7v0.7h-0.7zM37.9,225.6h0.7v0.7h-0.7zM34.5,226.4h0.7v0.7h-0.7zM44.3,231.2h0.7v0.7h-0.7zM44.0,229.9h0.7v0.7h-0.7zM40.9,229.4h0.7v0.7h-0.7zM31.0,234.4h0.7v0.7h-0.7zM41.4,231.7h0.7v0.7h-0.7zM30.9,214.9h0.7v0.7h-0.7zM34.7,224.5h0.7v0.7h-0.7zM40.5,227.7h0.7v0.7h-0.7zM41.5,223.2h0.7v0.7h-0.7zM40.5,231.0h0.7v0.7h-0.7zM35.8,240.9h0.7v0.7h-0.7zM41.7,237.0h0.7v0.7h-0.7zM36.0,222.5h0.7v0.7h-0.7zM37.3,227.2h0.7v0.7h-0.7zM42.0,229.9h0.7v0.7h-0.7zM36.9,220.8h0.7v0.7h-0.7zM36.5,237.2h0.7v0.7h-0.7zM35.1,229.8h0.7v0.7h-0.7zM41.0,216.8h0.7v0.7h-0.7zM39.2,237.8h0.7v0.7h-0.7zM29.3,225.6h0.7v0.7h-0.7zM38.5,221.9h0.7v0.7h-0.7zM41.4,227.5h0.7v0.7h-0.7zM32.0,234.2h0.7v0.7h-0.7zM42.2,235.1h0.7v0.7h-0.7zM45.9,230.7h0.7v0.7h-0.7zM39.6,218.3h0.7v0.7h-0.7zM42.0,223.4h0.7v0.7h-0.7zM36.8,218.5h0.7v0.7h-0.7zM34.4,224.0h0.7v0.7h-0.7zM45.2,212.8h0.7v0.7h-0.7zM32.0,229.8h0.7v0.7h-0.7zM45.9,232.3h0.7v0.7h-0.7zM29.9,209.1h0.7v0.7h-0.7zM40.7,222.5h0.7v0.7h-0.7zM33.6,235.3h0.7v0.7h-0.7zM44.3,229.2h0.7v0.7h-0.7zM40.2,231.3h0.7v0.7h-0.7zM46.7,232.6h0.7v0.7h-0.7zM41.5,232.1h0.7v0.7h-0.7zM31.5,237.6h0.7v0.7h-0.7zM43.6,232.0h0.7v0.7h-0.7zM29.5,223.2h0.7v0.7h-0.7zM43.0,214.4h0.7v0.7h-0.7zM38.1,235.6h0.7v0.7h-0.7zM32.7,240.1h0.7v0.7h-0.7zM41.6,226.9h0.7v0.7h-0.7zM40.6,232.9h0.7v0.7h-0.7zM39.6,236.6h0.7v0.7h-0.7zM35.8,224.9h0.7v0.7h-0.7zM44.0,228.2h0.7v0.7h-0.7zM34.8,235.1h0.7v0.7h-0.7zM46.0,224.7h0.7v0.7h-0.7zM32.4,227.0h0.7v0.7h-0.7zM38.3,225.8h0.7v0.7h-0.7zM45.7,220.3h0.7v0.7h-0.7zM45.1,218.5h0.7v0.7h-0.7zM35.2,232.7h0.7v0.7h-0.7zM44.4,234.4h0.7v0.7h-0.7zM40.7,229.1h0.7v0.7h-0.7zM39.7,232.3h0.7v0.7h-0.7zM38.2,230.1h0.7v0.7h-0.7zM41.7,228.0h0.7v0.7h-0.7zM42.7,232.2h0.7v0.7h-0.7zM36.9,225.2h0.7v0.7h-0.7zM38.9,234.9h0.7v0.7h-0.7zM37.4,230.9h0.7v0.7h-0.7zM33.6,229.8h0.7v0.7h-0.7zM40.9,229.8h0.7v0.7h-0.7zM36.9,232.9h0.7v0.7h-0.7zM40.4,224.1h0.7v0.7h-0.7zM36.3,227.3h0.7v0.7h-0.7zM37.9,227.5h0.7v0.7h-0.7zM43.8,219.2h0.7v0.7h-0.7zM38.7,235.2h0.7v0.7h-0.7zM43.1,239.2h0.7v0.7h-0.7zM30.8,225.3h0.7v0.7h-0.7zM37.4,232.7h0.7v0.7h-0.7zM44.2,207.9h0.7v0.7h-0.7zM44.2,217.1h0.7v0.7h-0.7zM42.3,216.8h0.7v0.7h-0.7zM39.8,237.0h0.7v0.7h-0.7zM38.3,229.4h0.7v0.7h-0.7zM42.8,229.1h0.7v0.7h-0.7zM38.6,239.5h0.7v0.7h-0.7zM44.0,225.8h0.7v0.7h-0.7zM43.4,226.0h0.7v0.7h-0.7zM39.6,233.3h0.7v0.7h-0.7zM40.1,232.8h0.7v0.7h-0.7zM31.7,216.7h0.7v0.7h-0.7zM42.0,220.8h0.7v0.7h-0.7zM34.1,217.0h0.7v0.7h-0.7zM45.1,233.6h0.7v0.7h-0.7zM46.1,221.0h0.7v0.7h-0.7zM39.0,219.4h0.7v0.7h-0.7zM42.7,239.9h0.7v0.7h-0.7zM34.7,239.7h0.7v0.7h-0.7zM43.7,226.7h0.7v0.7h-0.7zM29.5,238.5h0.7v0.7h-0.7zM38.5,223.5h0.7v0.7h-0.7zM40.9,231.1h0.7v0.7h-0.7zM46.2,220.3h0.7v0.7h-0.7zM44.5,239.2h0.7v0.7h-0.7zM46.0,226.6h0.7v0.7h-0.7zM35.4,235.6h0.7v0.7h-0.7zM39.6,228.9h0.7v0.7h-0.7zM45.8,226.0h0.7v0.7h-0.7zM30.1,234.1h0.7v0.7h-0.7zM40.5,223.4h0.7v0.7h-0.7zM39.0,234.2h0.7v0.7h-0.7zM39.4,237.9h0.7v0.7h-0.7zM38.7,235.8h0.7v0.7h-0.7zM46.2,240.1h0.7v0.7h-0.7zM35.8,234.6h0.7v0.7h-0.7zM30.0,219.9h0.7v0.7h-0.7zM29.6,236.0h0.7v0.7h-0.7zM33.1,227.9h0.7v0.7h-0.7zM38.1,227.8h0.7v0.7h-0.7zM36.2,229.8h0.7v0.7h-0.7zM41.5,235.5h0.7v0.7h-0.7zM38.0,218.6h0.7v0.7h-0.7zM36.3,236.1h0.7v0.7h-0.7zM31.1,223.5h0.7v0.7h-0.7zM43.8,233.9h0.7v0.7h-0.7zM39.0,234.0h0.7v0.7h-0.7zM39.8,219.2h0.7v0.7h-0.7zM31.5,223.2h0.7v0.7h-0.7zM43.4,223.8h0.7v0.7h-0.7zM34.7,222.2h0.7v0.7h-0.7zM31.6,227.1h0.7v0.7h-0.7zM33.3,230.7h0.7v0.7h-0.7zM35.9,213.4h0.7v0.7h-0.7zM42.5,225.9h0.7v0.7h-0.7zM28.3,221.4h0.7v0.7h-0.7zM40.4,224.6h0.7v0.7h-0.7zM42.7,233.6h0.7v0.7h-0.7zM42.2,230.4h0.7v0.7h-0.7zM45.4,232.9h0.7v0.7h-0.7zM41.2,212.4h0.7v0.7h-0.7zM43.3,237.8h0.7v0.7h-0.7zM37.6,224.5h0.7v0.7h-0.7zM41.3,246.2h0.7v0.7h-0.7zM34.5,233.2h0.7v0.7h-0.7zM41.7,234.8h0.7v0.7h-0.7zM34.7,227.3h0.7v0.7h-0.7zM40.4,234.2h0.7v0.7h-0.7zM38.8,226.5h0.7v0.7h-0.7zM34.1,225.3h0.7v0.7h-0.7zM43.3,228.8h0.7v0.7h-0.7zM34.9,221.7h0.7v0.7h-0.7zM42.1,208.6h0.7v0.7h-0.7zM42.0,231.6h0.7v0.7h-0.7zM47.1,231.2h0.7v0.7h-0.7zM38.7,231.9h0.7v0.7h-0.7zM29.7,235.7h0.7v0.7h-0.7zM40.6,222.7h0.7v0.7h-0.7zM45.4,241.6h0.7v0.7h-0.7zM32.3,223.0h0.7v0.7h-0.7zM40.4,229.4h0.7v0.7h-0.7zM37.1,220.7h0.7v0.7h-0.7zM33.3,217.9h0.7v0.7h-0.7zM47.2,235.4h0.7v0.7h-0.7zM34.8,230.0h0.7v0.7h-0.7zM28.6,222.4h0.7v0.7h-0.7zM38.7,231.9h0.7v0.7h-0.7zM35.5,227.1h0.7v0.7h-0.7zM41.2,230.8h0.7v0.7h-0.7zM42.1,229.6h0.7v0.7h-0.7zM37.4,233.9h0.7v0.7h-0.7zM39.2,221.8h0.7v0.7h-0.7zM36.0,228.0h0.7v0.7h-0.7zM38.5,229.2h0.7v0.7h-0.7zM39.0,229.3h0.7v0.7h-0.7zM38.4,218.6h0.7v0.7h-0.7zM41.0,235.9h0.7v0.7h-0.7zM41.1,226.6h0.7v0.7h-0.7zM41.1,220.8h0.7v0.7h-0.7zM29.9,228.4h0.7v0.7h-0.7zM34.5,233.5h0.7v0.7h-0.7zM33.8,208.3h0.7v0.7h-0.7zM34.0,239.8h0.7v0.7h-0.7zM37.2,217.7h0.7v0.7h-0.7zM35.3,231.9h0.7v0.7h-0.7zM41.4,229.3h0.7v0.7h-0.7zM46.1,233.3h0.7v0.7h-0.7zM38.9,232.5h0.7v0.7h-0.7zM46.9,235.3h0.7v0.7h-0.7zM43.9,219.9h0.7v0.7h-0.7zM38.3,233.5h0.7v0.7h-0.7zM37.6,236.0h0.7v0.7h-0.7zM41.9,234.8h0.7v0.7h-0.7zM38.0,247.1h0.7v0.7h-0.7zM45.0,226.4h0.7v0.7h-0.7zM39.4,247.5h0.7v0.7h-0.7zM37.4,234.6h0.7v0.7h-0.7zM43.7,228.0h0.7v0.7h-0.7zM33.4,229.4h0.7v0.7h-0.7zM40.7,236.5h0.7v0.7h-0.7zM42.8,228.2h0.7v0.7h-0.7zM43.1,232.0h0.7v0.7h-0.7zM40.0,228.4h0.7v0.7h-0.7zM37.8,233.1h0.7v0.7h-0.7zM33.9,223.3h0.7v0.7h-0.7zM39.0,217.0h0.7v0.7h-0.7zM36.9,212.9h0.7v0.7h-0.7zM35.7,232.3h0.7v0.7h-0.7zM41.7,227.6h0.7v0.7h-0.7zM37.9,217.4h0.7v0.7h-0.7zM44.2,221.4h0.7v0.7h-0.7zM38.1,214.4h0.7v0.7h-0.7zM42.7,235.0h0.7v0.7h-0.7zM29.9,227.6h0.7v0.7h-0.7zM42.0,214.8h0.7v0.7h-0.7zM30.2,220.0h0.7v0.7h-0.7zM36.0,217.5h0.7v0.7h-0.7zM39.2,229.9h0.7v0.7h-0.7zM42.0,233.3h0.7v0.7h-0.7zM46.2,236.7h0.7v0.7h-0.7zM32.7,224.2h0.7v0.7h-0.7zM33.9,219.9h0.7v0.7h-0.7zM38.6,228.0h0.7v0.7h-0.7zM41.4,216.1h0.7v0.7h-0.7zM33.1,227.8h0.7v0.7h-0.7zM38.0,225.7h0.7v0.7h-0.7zM38.7,222.3h0.7v0.7h-0.7zM42.4,230.7h0.7v0.7h-0.7zM38.6,223.0h0.7v0.7h-0.7zM38.2,207.6h0.7v0.7h-0.7zM34.3,228.3h0.7v0.7h-0.7zM31.8,229.5h0.7v0.7h-0.7zM39.7,217.7h0.7v0.7h-0.7zM37.8,225.6h0.7v0.7h-0.7zM41.2,232.6h0.7v0.7h-0.7zM38.8,221.6h0.7v0.7h-0.7zM38.3,227.5h0.7v0.7h-0.7zM42.5,230.2h0.7v0.7h-0.7zM35.5,217.8h0.7v0.7h-0.7zM37.2,222.4h0.7v0.7h-0.7zM33.7,227.1h0.7v0.7h-0.7zM36.6,228.8h0.7v0.7h-0.7zM41.5,224.9h0.7v0.7h-0.7zM44.3,228.9h0.7v0.7h-0.7zM44.4,210.2h0.7v0.7h-0.7zM35.4,229.9h0.7v0.7h-0.7zM41.9,245.5h0.7v0.7h-0.7zM40.5,237.6h0.7v0.7h-0.7zM42.7,235.1h0.7v0.7h-0.7zM41.4,226.8h0.7v0.7h-0.7zM41.4,219.9h0.7v0.7h-0.7zM44.7,220.4h0.7v0.7h-0.7zM40.2,243.9h0.7v0.7h-0.7zM37.9,228.1h0.7v0.7h-0.7zM44.6,228.2h0.7v0.7h-0.7zM35.1,229.9h0.7v0.7h-0.7zM41.8,233.3h0.7v0.7h-0.7zM35.3,241.1h0.7v0.7h-0.7zM47.0,228.1h0.7v0.7h-0.7zM40.3,224.8h0.7v0.7h-0.7zM45.8,222.7h0.7v0.7h-0.7zM42.2,224.4h0.7v0.7h-0.7zM35.7,233.4h0.7v0.7h-0.7zM45.4,227.9h0.7v0.7h-0.7zM35.7,234.1h0.7v0.7h-0.7zM38.8,230.3h0.7v0.7h-0.7zM46.3,236.5h0.7v0.7h-0.7zM36.5,245.1h0.7v0.7h-0.7zM39.0,233.9h0.7v0.7h-0.7zM35.9,227.7h0.7v0.7h-0.7zM30.6,241.4h0.7v0.7h-0.7zM45.6,218.9h0.7v0.7h-0.7zM31.8,215.8h0.7v0.7h-0.7zM44.6,224.6h0.7v0.7h-0.7zM38.7,225.7h0.7v0.7h-0.7zM38.4,219.8h0.7v0.7h-0.7zM39.1,217.2h0.7v0.7h-0.7zM38.7,230.3h0.7v0.7h-0.7zM41.2,226.3h0.7v0.7h-0.7zM34.7,229.2h0.7v0.7h-0.7zM36.7,239.7h0.7v0.7h-0.7zM42.7,227.1h0.7v0.7h-0.7zM36.7,222.7h0.7v0.7h-0.7zM34.5,225.4h0.7v0.7h-0.7zM40.4,231.9h0.7v0.7h-0.7zM41.7,243.7h0.7v0.7h-0.7zM35.6,228.1h0.7v0.7h-0.7zM36.5,229.3h0.7v0.7h-0.7zM39.7,231.1h0.7v0.7h-0.7zM37.9,230.7h0.7v0.7h-0.7zM39.3,233.8h0.7v0.7h-0.7zM29.9,221.4h0.7v0.7h-0.7zM39.0,220.3h0.7v0.7h-0.7zM34.0,232.7h0.7v0.7h-0.7zM35.9,232.8h0.7v0.7h-0.7zM42.6,230.3h0.7v0.7h-0.7zM41.4,227.2h0.7v0.7h-0.7zM32.2,227.8h0.7v0.7h-0.7zM41.2,224.0h0.7v0.7h-0.7zM38.5,233.6h0.7v0.7h-0.7zM34.8,232.8h0.7v0.7h-0.7zM39.7,226.9h0.7v0.7h-0.7z" fill="#6fc8d8" opacity="1.0"/>
<path d="M42.2,231.7h0.7v0.7h-0.7zM40.1,226.2h0.7v0.7h-0.7zM36.9,229.9h0.7v0.7h-0.7zM40.1,220.4h0.7v0.7h-0.7zM39.5,229.3h0.7v0.7h-0.7zM38.5,232.0h0.7v0.7h-0.7zM31.9,228.8h0.7v0.7h-0.7zM42.1,226.8h0.7v0.7h-0.7zM33.5,222.5h0.7v0.7h-0.7zM32.8,231.8h0.7v0.7h-0.7zM42.8,232.4h0.7v0.7h-0.7zM37.8,242.3h0.7v0.7h-0.7zM35.2,226.3h0.7v0.7h-0.7zM38.8,233.0h0.7v0.7h-0.7zM33.5,223.6h0.7v0.7h-0.7zM38.0,231.4h0.7v0.7h-0.7zM32.6,228.9h0.7v0.7h-0.7zM35.2,232.5h0.7v0.7h-0.7zM36.6,229.5h0.7v0.7h-0.7zM35.8,235.8h0.7v0.7h-0.7zM41.7,228.0h0.7v0.7h-0.7zM39.9,225.8h0.7v0.7h-0.7zM37.2,234.1h0.7v0.7h-0.7zM42.1,227.9h0.7v0.7h-0.7zM36.7,231.1h0.7v0.7h-0.7zM31.9,230.1h0.7v0.7h-0.7zM34.7,232.0h0.7v0.7h-0.7zM33.2,219.1h0.7v0.7h-0.7zM37.1,231.4h0.7v0.7h-0.7zM35.1,234.9h0.7v0.7h-0.7zM36.1,226.7h0.7v0.7h-0.7zM38.6,221.4h0.7v0.7h-0.7zM34.7,229.9h0.7v0.7h-0.7zM39.9,229.1h0.7v0.7h-0.7zM38.0,226.4h0.7v0.7h-0.7zM38.0,239.1h0.7v0.7h-0.7zM34.7,243.0h0.7v0.7h-0.7zM34.8,230.1h0.7v0.7h-0.7zM37.6,235.6h0.7v0.7h-0.7zM32.8,218.4h0.7v0.7h-0.7zM39.1,234.4h0.7v0.7h-0.7zM39.1,244.5h0.7v0.7h-0.7zM37.7,231.4h0.7v0.7h-0.7zM40.2,232.0h0.7v0.7h-0.7zM42.7,223.2h0.7v0.7h-0.7zM35.7,211.1h0.7v0.7h-0.7zM39.8,228.0h0.7v0.7h-0.7zM40.1,241.8h0.7v0.7h-0.7zM37.0,228.6h0.7v0.7h-0.7zM35.3,225.4h0.7v0.7h-0.7zM34.9,233.5h0.7v0.7h-0.7zM37.1,230.4h0.7v0.7h-0.7zM36.4,235.0h0.7v0.7h-0.7zM38.7,229.2h0.7v0.7h-0.7zM39.3,229.2h0.7v0.7h-0.7zM33.1,238.0h0.7v0.7h-0.7zM38.6,224.7h0.7v0.7h-0.7zM40.7,231.9h0.7v0.7h-0.7zM31.7,238.9h0.7v0.7h-0.7zM38.1,234.9h0.7v0.7h-0.7zM37.7,229.2h0.7v0.7h-0.7zM31.7,235.3h0.7v0.7h-0.7zM37.1,228.4h0.7v0.7h-0.7zM38.2,230.4h0.7v0.7h-0.7zM39.3,228.0h0.7v0.7h-0.7zM36.9,218.2h0.7v0.7h-0.7zM35.6,233.7h0.7v0.7h-0.7zM41.5,228.0h0.7v0.7h-0.7zM36.6,238.7h0.7v0.7h-0.7zM35.9,234.0h0.7v0.7h-0.7zM42.7,230.2h0.7v0.7h-0.7zM41.2,226.1h0.7v0.7h-0.7zM37.7,229.6h0.7v0.7h-0.7zM37.4,236.2h0.7v0.7h-0.7zM45.1,226.3h0.7v0.7h-0.7zM35.0,232.7h0.7v0.7h-0.7zM33.4,232.7h0.7v0.7h-0.7zM38.9,228.5h0.7v0.7h-0.7zM38.8,221.5h0.7v0.7h-0.7zM39.6,221.5h0.7v0.7h-0.7zM34.6,226.9h0.7v0.7h-0.7zM35.6,234.7h0.7v0.7h-0.7zM37.3,227.8h0.7v0.7h-0.7zM38.8,238.7h0.7v0.7h-0.7zM37.0,232.0h0.7v0.7h-0.7zM41.2,231.5h0.7v0.7h-0.7zM32.6,243.7h0.7v0.7h-0.7zM44.5,219.1h0.7v0.7h-0.7zM36.9,232.3h0.7v0.7h-0.7zM40.3,233.7h0.7v0.7h-0.7zM36.1,224.2h0.7v0.7h-0.7zM37.4,235.7h0.7v0.7h-0.7zM33.3,224.4h0.7v0.7h-0.7zM36.9,219.3h0.7v0.7h-0.7zM36.1,227.6h0.7v0.7h-0.7zM38.5,226.1h0.7v0.7h-0.7zM34.0,227.8h0.7v0.7h-0.7zM36.8,226.3h0.7v0.7h-0.7zM37.0,234.1h0.7v0.7h-0.7zM41.0,239.4h0.7v0.7h-0.7zM34.3,227.7h0.7v0.7h-0.7zM34.5,229.8h0.7v0.7h-0.7zM38.8,222.5h0.7v0.7h-0.7zM38.6,229.9h0.7v0.7h-0.7zM41.1,219.7h0.7v0.7h-0.7zM39.7,231.2h0.7v0.7h-0.7zM38.6,232.4h0.7v0.7h-0.7zM41.4,228.8h0.7v0.7h-0.7zM40.0,227.7h0.7v0.7h-0.7zM39.5,225.5h0.7v0.7h-0.7zM36.6,239.5h0.7v0.7h-0.7zM38.5,229.1h0.7v0.7h-0.7zM33.1,225.7h0.7v0.7h-0.7zM37.7,235.2h0.7v0.7h-0.7zM38.4,232.9h0.7v0.7h-0.7zM36.9,237.4h0.7v0.7h-0.7zM35.7,227.0h0.7v0.7h-0.7zM40.0,230.3h0.7v0.7h-0.7zM36.1,226.8h0.7v0.7h-0.7zM36.1,233.4h0.7v0.7h-0.7zM38.2,223.3h0.7v0.7h-0.7zM38.4,231.0h0.7v0.7h-0.7zM33.6,234.3h0.7v0.7h-0.7zM36.0,228.2h0.7v0.7h-0.7zM39.7,237.3h0.7v0.7h-0.7zM34.7,232.4h0.7v0.7h-0.7zM34.0,242.7h0.7v0.7h-0.7zM35.3,236.6h0.7v0.7h-0.7zM34.8,234.5h0.7v0.7h-0.7zM44.5,216.0h0.7v0.7h-0.7zM35.5,232.8h0.7v0.7h-0.7zM36.7,226.3h0.7v0.7h-0.7zM44.3,230.4h0.7v0.7h-0.7zM31.4,234.7h0.7v0.7h-0.7zM31.1,236.3h0.7v0.7h-0.7zM35.0,230.8h0.7v0.7h-0.7zM41.3,230.6h0.7v0.7h-0.7zM32.3,220.7h0.7v0.7h-0.7zM41.0,234.1h0.7v0.7h-0.7zM34.2,234.7h0.7v0.7h-0.7zM38.7,233.6h0.7v0.7h-0.7zM40.1,234.0h0.7v0.7h-0.7zM40.0,216.5h0.7v0.7h-0.7zM37.6,232.7h0.7v0.7h-0.7zM45.7,224.8h0.7v0.7h-0.7zM35.9,230.2h0.7v0.7h-0.7zM40.0,227.6h0.7v0.7h-0.7zM40.9,225.7h0.7v0.7h-0.7zM37.9,227.1h0.7v0.7h-0.7zM37.5,226.2h0.7v0.7h-0.7zM31.6,236.0h0.7v0.7h-0.7zM38.0,226.9h0.7v0.7h-0.7zM37.7,235.4h0.7v0.7h-0.7zM33.7,229.4h0.7v0.7h-0.7zM38.8,232.9h0.7v0.7h-0.7zM35.9,218.4h0.7v0.7h-0.7zM41.2,231.8h0.7v0.7h-0.7zM37.0,228.5h0.7v0.7h-0.7zM37.9,227.7h0.7v0.7h-0.7zM33.5,225.9h0.7v0.7h-0.7zM35.0,226.6h0.7v0.7h-0.7zM33.1,233.5h0.7v0.7h-0.7zM32.5,233.6h0.7v0.7h-0.7zM33.6,231.9h0.7v0.7h-0.7zM41.7,231.1h0.7v0.7h-0.7zM34.5,230.3h0.7v0.7h-0.7zM37.5,220.5h0.7v0.7h-0.7zM34.9,230.9h0.7v0.7h-0.7zM35.4,230.4h0.7v0.7h-0.7zM39.5,234.2h0.7v0.7h-0.7zM40.1,233.2h0.7v0.7h-0.7zM36.0,229.9h0.7v0.7h-0.7zM36.1,228.3h0.7v0.7h-0.7zM36.4,220.5h0.7v0.7h-0.7zM35.9,229.9h0.7v0.7h-0.7zM33.7,229.9h0.7v0.7h-0.7zM38.8,229.1h0.7v0.7h-0.7zM44.1,215.7h0.7v0.7h-0.7zM36.3,220.0h0.7v0.7h-0.7zM40.3,244.6h0.7v0.7h-0.7zM38.8,228.3h0.7v0.7h-0.7zM38.9,217.7h0.7v0.7h-0.7zM39.9,232.0h0.7v0.7h-0.7zM37.1,226.8h0.7v0.7h-0.7zM39.2,227.3h0.7v0.7h-0.7zM37.8,227.2h0.7v0.7h-0.7zM37.7,234.1h0.7v0.7h-0.7zM34.0,229.8h0.7v0.7h-0.7zM39.1,230.8h0.7v0.7h-0.7zM41.2,241.0h0.7v0.7h-0.7zM33.9,219.4h0.7v0.7h-0.7zM39.9,238.4h0.7v0.7h-0.7zM40.1,234.5h0.7v0.7h-0.7zM34.9,226.1h0.7v0.7h-0.7z" fill="#1598b4" opacity="1.0"/>
<rect x="26" y="243.2" width="24" height="5" fill="#fff"/>
<rect x="12.00" y="172.60" width="86.40" height="80.60" fill="none" stroke="#b5b5b5" stroke-width="0.6"/>
<line x1="12.00" y1="253.20" x2="98.40" y2="253.20" stroke="#999" stroke-width="0.6" />
<line x1="11.00" y1="188.72" x2="12.00" y2="188.72" stroke="#aaa" stroke-width="0.5" />
<line x1="11.00" y1="204.84" x2="12.00" y2="204.84" stroke="#aaa" stroke-width="0.5" />
<line x1="11.00" y1="220.96" x2="12.00" y2="220.96" stroke="#aaa" stroke-width="0.5" />
<line x1="11.00" y1="237.08" x2="12.00" y2="237.08" stroke="#aaa" stroke-width="0.5" />
<rect x="47.60" y="205.50" width="50.80" height="37.50" fill="none" stroke="#777" stroke-width="0.7"/>
<text x="20.00" y="263.90" font-size="5.6" text-anchor="middle" fill="#2a2a2a" stroke="#2a2a2a" stroke-width="0.16" font-weight="normal" font-style="normal" >−10³</text>
<line x1="20.00" y1="253.20" x2="20.00" y2="254.10" stroke="#888" stroke-width="0.4" />
<text x="35.50" y="263.90" font-size="5.6" text-anchor="middle" fill="#2a2a2a" stroke="#2a2a2a" stroke-width="0.16" font-weight="normal" font-style="normal" >0</text>
<line x1="35.50" y1="253.20" x2="35.50" y2="254.10" stroke="#888" stroke-width="0.4" />
<text x="49.00" y="263.90" font-size="5.6" text-anchor="middle" fill="#2a2a2a" stroke="#2a2a2a" stroke-width="0.16" font-weight="normal" font-style="normal" >10³</text>
<line x1="49.00" y1="253.20" x2="49.00" y2="254.10" stroke="#888" stroke-width="0.4" />
<text x="76.50" y="263.90" font-size="5.6" text-anchor="middle" fill="#2a2a2a" stroke="#2a2a2a" stroke-width="0.16" font-weight="normal" font-style="normal" >10⁴</text>
<line x1="76.50" y1="253.20" x2="76.50" y2="254.10" stroke="#888" stroke-width="0.4" />
<line x1="15.00" y1="253.20" x2="15.00" y2="253.70" stroke="#bbb" stroke-width="0.3" />
<line x1="22.31" y1="253.20" x2="22.31" y2="253.70" stroke="#bbb" stroke-width="0.3" />
<line x1="29.62" y1="253.20" x2="29.62" y2="253.70" stroke="#bbb" stroke-width="0.3" />
<line x1="36.93" y1="253.20" x2="36.93" y2="253.70" stroke="#bbb" stroke-width="0.3" />
<line x1="44.24" y1="253.20" x2="44.24" y2="253.70" stroke="#bbb" stroke-width="0.3" />
<line x1="51.55" y1="253.20" x2="51.55" y2="253.70" stroke="#bbb" stroke-width="0.3" />
<line x1="58.85" y1="253.20" x2="58.85" y2="253.70" stroke="#bbb" stroke-width="0.3" />
<line x1="66.16" y1="253.20" x2="66.16" y2="253.70" stroke="#bbb" stroke-width="0.3" />
<line x1="73.47" y1="253.20" x2="73.47" y2="253.70" stroke="#bbb" stroke-width="0.3" />
<line x1="80.78" y1="253.20" x2="80.78" y2="253.70" stroke="#bbb" stroke-width="0.3" />
<line x1="88.09" y1="253.20" x2="88.09" y2="253.70" stroke="#bbb" stroke-width="0.3" />
<line x1="95.40" y1="253.20" x2="95.40" y2="253.70" stroke="#bbb" stroke-width="0.3" />
<rect x="33.30" y="253.50" width="2" height="1.5" fill="#222"/>
<text x="91.60" y="215.80" font-size="7.9" text-anchor="end" fill="#111" stroke="#111" stroke-width="0.16" font-weight="normal" font-style="normal" >0.16</text>
<text x="70.40" y="193.70" font-size="5.0" text-anchor="middle" fill="#222" stroke="#222" stroke-width="0.16" font-weight="normal" font-style="normal" textLength="14.6" lengthAdjust="spacingAndGlyphs">IGSF9</text>
<text x="70.40" y="199.70" font-size="5.0" text-anchor="middle" fill="#222" stroke="#222" stroke-width="0.16" font-weight="normal" font-style="normal" >0.16</text>
<text x="151.70" y="167.60" font-size="7.5" text-anchor="middle" fill="#222" stroke="#222" stroke-width="0.16" font-weight="normal" font-style="normal" >Mo</text>
<path d="M153.9,222.1h0.7v0.7h-0.7zM143.6,221.7h0.7v0.7h-0.7zM160.0,234.3h0.7v0.7h-0.7zM147.9,222.9h0.7v0.7h-0.7zM151.4,222.8h0.7v0.7h-0.7zM155.5,225.7h0.7v0.7h-0.7zM146.4,231.6h0.7v0.7h-0.7zM148.3,227.0h0.7v0.7h-0.7zM150.5,224.6h0.7v0.7h-0.7zM151.7,223.0h0.7v0.7h-0.7zM143.5,216.5h0.7v0.7h-0.7zM145.7,222.7h0.7v0.7h-0.7zM150.4,226.2h0.7v0.7h-0.7zM152.6,226.5h0.7v0.7h-0.7zM147.5,223.0h0.7v0.7h-0.7zM142.4,225.3h0.7v0.7h-0.7zM152.3,228.3h0.7v0.7h-0.7zM150.0,225.3h0.7v0.7h-0.7zM154.1,226.1h0.7v0.7h-0.7zM153.3,228.5h0.7v0.7h-0.7zM151.3,231.6h0.7v0.7h-0.7zM148.3,224.5h0.7v0.7h-0.7zM147.4,222.6h0.7v0.7h-0.7zM156.4,233.6h0.7v0.7h-0.7zM150.6,228.4h0.7v0.7h-0.7zM155.0,229.5h0.7v0.7h-0.7zM155.1,220.6h0.7v0.7h-0.7zM148.1,227.9h0.7v0.7h-0.7zM156.0,226.4h0.7v0.7h-0.7zM147.2,224.5h0.7v0.7h-0.7zM148.0,222.3h0.7v0.7h-0.7zM156.2,223.3h0.7v0.7h-0.7zM150.6,235.3h0.7v0.7h-0.7zM155.0,227.4h0.7v0.7h-0.7zM148.2,227.8h0.7v0.7h-0.7zM156.7,228.7h0.7v0.7h-0.7zM155.3,226.4h0.7v0.7h-0.7zM152.5,225.1h0.7v0.7h-0.7zM152.1,231.6h0.7v0.7h-0.7zM145.1,225.7h0.7v0.7h-0.7zM151.4,223.5h0.7v0.7h-0.7zM149.3,229.4h0.7v0.7h-0.7zM158.1,228.7h0.7v0.7h-0.7zM151.7,219.3h0.7v0.7h-0.7zM157.8,226.3h0.7v0.7h-0.7zM150.4,221.2h0.7v0.7h-0.7zM150.3,221.3h0.7v0.7h-0.7zM150.8,228.0h0.7v0.7h-0.7zM150.6,227.2h0.7v0.7h-0.7zM147.3,232.1h0.7v0.7h-0.7zM148.0,218.2h0.7v0.7h-0.7zM149.8,222.7h0.7v0.7h-0.7zM146.7,224.5h0.7v0.7h-0.7zM151.6,220.9h0.7v0.7h-0.7zM150.0,232.1h0.7v0.7h-0.7zM153.1,225.3h0.7v0.7h-0.7zM151.0,225.5h0.7v0.7h-0.7zM150.3,229.1h0.7v0.7h-0.7zM150.1,215.7h0.7v0.7h-0.7zM150.4,222.2h0.7v0.7h-0.7zM153.0,223.4h0.7v0.7h-0.7zM151.1,235.4h0.7v0.7h-0.7zM146.5,221.2h0.7v0.7h-0.7zM145.1,215.7h0.7v0.7h-0.7zM143.4,227.6h0.7v0.7h-0.7zM148.1,218.0h0.7v0.7h-0.7zM144.9,228.7h0.7v0.7h-0.7zM147.6,224.4h0.7v0.7h-0.7zM151.8,231.8h0.7v0.7h-0.7zM157.9,230.4h0.7v0.7h-0.7zM151.0,226.8h0.7v0.7h-0.7zM157.3,232.1h0.7v0.7h-0.7zM149.3,228.0h0.7v0.7h-0.7zM151.6,226.2h0.7v0.7h-0.7zM148.6,220.3h0.7v0.7h-0.7zM148.5,219.4h0.7v0.7h-0.7zM155.2,228.3h0.7v0.7h-0.7zM145.9,232.0h0.7v0.7h-0.7zM153.9,217.8h0.7v0.7h-0.7zM157.5,229.5h0.7v0.7h-0.7zM158.3,220.7h0.7v0.7h-0.7zM152.5,227.8h0.7v0.7h-0.7zM151.3,226.7h0.7v0.7h-0.7zM154.5,219.6h0.7v0.7h-0.7zM145.8,220.0h0.7v0.7h-0.7zM148.4,223.4h0.7v0.7h-0.7zM151.9,227.1h0.7v0.7h-0.7zM150.6,223.1h0.7v0.7h-0.7zM148.8,230.1h0.7v0.7h-0.7zM153.4,226.4h0.7v0.7h-0.7zM149.3,232.7h0.7v0.7h-0.7zM148.2,228.8h0.7v0.7h-0.7zM154.9,224.9h0.7v0.7h-0.7zM153.6,221.2h0.7v0.7h-0.7zM154.3,226.9h0.7v0.7h-0.7zM144.5,228.9h0.7v0.7h-0.7zM147.1,231.5h0.7v0.7h-0.7zM147.9,225.3h0.7v0.7h-0.7zM151.6,224.6h0.7v0.7h-0.7zM151.5,223.6h0.7v0.7h-0.7zM153.1,226.0h0.7v0.7h-0.7zM151.3,214.2h0.7v0.7h-0.7zM154.9,226.1h0.7v0.7h-0.7zM143.7,226.4h0.7v0.7h-0.7zM152.3,230.6h0.7v0.7h-0.7zM146.4,232.7h0.7v0.7h-0.7zM149.9,236.3h0.7v0.7h-0.7zM149.9,228.9h0.7v0.7h-0.7zM149.1,221.2h0.7v0.7h-0.7zM154.7,229.9h0.7v0.7h-0.7zM156.3,229.7h0.7v0.7h-0.7zM148.3,218.9h0.7v0.7h-0.7zM148.0,223.1h0.7v0.7h-0.7zM147.4,228.5h0.7v0.7h-0.7zM151.7,224.8h0.7v0.7h-0.7zM151.2,225.4h0.7v0.7h-0.7zM151.3,229.2h0.7v0.7h-0.7zM154.1,223.1h0.7v0.7h-0.7zM144.8,232.1h0.7v0.7h-0.7zM150.9,230.8h0.7v0.7h-0.7zM144.3,224.6h0.7v0.7h-0.7zM150.6,219.8h0.7v0.7h-0.7zM148.5,229.1h0.7v0.7h-0.7zM154.6,232.9h0.7v0.7h-0.7zM147.2,220.0h0.7v0.7h-0.7zM152.5,230.0h0.7v0.7h-0.7zM151.2,220.4h0.7v0.7h-0.7zM153.5,229.4h0.7v0.7h-0.7zM152.6,223.9h0.7v0.7h-0.7zM151.7,229.4h0.7v0.7h-0.7zM148.4,218.1h0.7v0.7h-0.7zM151.7,228.1h0.7v0.7h-0.7zM150.6,229.8h0.7v0.7h-0.7zM148.3,225.6h0.7v0.7h-0.7zM149.3,228.5h0.7v0.7h-0.7zM156.6,224.9h0.7v0.7h-0.7zM158.3,232.6h0.7v0.7h-0.7zM153.5,228.5h0.7v0.7h-0.7zM157.2,225.2h0.7v0.7h-0.7zM150.1,221.4h0.7v0.7h-0.7zM152.3,231.8h0.7v0.7h-0.7zM152.5,227.8h0.7v0.7h-0.7zM149.7,226.7h0.7v0.7h-0.7zM145.1,230.5h0.7v0.7h-0.7zM148.9,221.3h0.7v0.7h-0.7zM147.6,222.5h0.7v0.7h-0.7zM153.8,230.6h0.7v0.7h-0.7zM145.3,230.0h0.7v0.7h-0.7zM153.9,223.5h0.7v0.7h-0.7zM144.9,222.8h0.7v0.7h-0.7zM148.1,227.5h0.7v0.7h-0.7zM149.1,217.3h0.7v0.7h-0.7zM151.4,219.4h0.7v0.7h-0.7zM153.9,220.8h0.7v0.7h-0.7zM147.9,222.3h0.7v0.7h-0.7zM148.4,231.6h0.7v0.7h-0.7zM153.7,228.6h0.7v0.7h-0.7zM151.7,219.3h0.7v0.7h-0.7zM148.5,223.6h0.7v0.7h-0.7zM146.8,228.2h0.7v0.7h-0.7zM147.7,222.9h0.7v0.7h-0.7zM146.5,217.2h0.7v0.7h-0.7zM152.8,231.7h0.7v0.7h-0.7zM151.2,221.8h0.7v0.7h-0.7zM140.2,226.7h0.7v0.7h-0.7zM155.1,227.3h0.7v0.7h-0.7zM154.0,232.4h0.7v0.7h-0.7zM154.8,224.1h0.7v0.7h-0.7zM154.5,229.3h0.7v0.7h-0.7zM144.7,224.3h0.7v0.7h-0.7zM145.1,225.5h0.7v0.7h-0.7zM152.7,221.4h0.7v0.7h-0.7zM142.7,231.6h0.7v0.7h-0.7zM151.9,232.3h0.7v0.7h-0.7zM145.5,230.6h0.7v0.7h-0.7zM158.4,234.6h0.7v0.7h-0.7zM149.7,227.2h0.7v0.7h-0.7zM149.9,230.3h0.7v0.7h-0.7zM154.4,226.4h0.7v0.7h-0.7zM145.3,229.2h0.7v0.7h-0.7zM148.7,228.7h0.7v0.7h-0.7zM151.5,233.0h0.7v0.7h-0.7zM154.8,224.1h0.7v0.7h-0.7zM151.8,233.6h0.7v0.7h-0.7zM148.5,227.9h0.7v0.7h-0.7zM155.0,231.4h0.7v0.7h-0.7zM152.5,220.3h0.7v0.7h-0.7zM145.7,227.1h0.7v0.7h-0.7zM152.0,237.0h0.7v0.7h-0.7zM147.2,230.9h0.7v0.7h-0.7zM153.4,218.8h0.7v0.7h-0.7zM147.4,226.7h0.7v0.7h-0.7zM148.6,225.3h0.7v0.7h-0.7zM152.3,222.5h0.7v0.7h-0.7zM152.3,223.3h0.7v0.7h-0.7zM148.4,228.3h0.7v0.7h-0.7zM148.3,227.2h0.7v0.7h-0.7zM156.6,226.1h0.7v0.7h-0.7zM149.9,229.2h0.7v0.7h-0.7zM149.1,230.7h0.7v0.7h-0.7zM145.6,228.7h0.7v0.7h-0.7zM148.6,222.6h0.7v0.7h-0.7zM157.2,222.3h0.7v0.7h-0.7zM157.2,228.8h0.7v0.7h-0.7zM156.0,221.8h0.7v0.7h-0.7zM155.1,232.3h0.7v0.7h-0.7zM150.1,225.4h0.7v0.7h-0.7zM159.8,226.8h0.7v0.7h-0.7zM148.9,223.3h0.7v0.7h-0.7zM152.2,227.4h0.7v0.7h-0.7zM151.2,233.4h0.7v0.7h-0.7zM149.3,228.0h0.7v0.7h-0.7zM156.0,221.7h0.7v0.7h-0.7zM154.4,233.9h0.7v0.7h-0.7zM145.4,221.3h0.7v0.7h-0.7zM146.6,218.1h0.7v0.7h-0.7zM152.2,218.0h0.7v0.7h-0.7zM152.4,232.2h0.7v0.7h-0.7zM144.4,224.6h0.7v0.7h-0.7zM143.2,229.4h0.7v0.7h-0.7zM147.7,224.9h0.7v0.7h-0.7zM150.7,228.3h0.7v0.7h-0.7zM149.2,226.1h0.7v0.7h-0.7zM148.4,226.5h0.7v0.7h-0.7zM146.0,226.3h0.7v0.7h-0.7zM143.2,223.9h0.7v0.7h-0.7zM157.8,226.3h0.7v0.7h-0.7zM145.7,227.1h0.7v0.7h-0.7zM146.8,218.9h0.7v0.7h-0.7zM147.7,229.2h0.7v0.7h-0.7zM152.0,225.6h0.7v0.7h-0.7zM147.0,221.4h0.7v0.7h-0.7zM155.6,227.1h0.7v0.7h-0.7zM146.9,216.9h0.7v0.7h-0.7zM145.3,236.6h0.7v0.7h-0.7zM146.1,225.7h0.7v0.7h-0.7zM151.3,225.3h0.7v0.7h-0.7zM149.4,220.1h0.7v0.7h-0.7zM146.5,233.3h0.7v0.7h-0.7zM147.6,229.6h0.7v0.7h-0.7zM144.1,224.8h0.7v0.7h-0.7zM151.5,230.5h0.7v0.7h-0.7zM146.2,228.6h0.7v0.7h-0.7zM152.0,222.8h0.7v0.7h-0.7zM152.3,222.1h0.7v0.7h-0.7zM147.5,225.9h0.7v0.7h-0.7zM140.2,225.5h0.7v0.7h-0.7zM146.7,219.7h0.7v0.7h-0.7zM148.9,229.3h0.7v0.7h-0.7zM149.0,231.4h0.7v0.7h-0.7z" fill="#e8392c" opacity="1.0"/>
<path d="M145.1,217.2 C149.5,216.5 155.5,218.5 156.0,225.5 C156.0,232 150.5,234.8 145.1,234.6 Z" fill="#e8392c" filter="url(#bl5)"/>
<path d="M145.3,215.8 C139.5,214.8 130.2,217 130.2,225.4 C130.2,233.5 138.5,235.8 145.3,234.8 Z" fill="#1ba6c4" filter="url(#bl4)"/>
<path d="M132.2,217.4h0.6v0.6h-0.6zM145.8,227.7h0.6v0.6h-0.6zM142.7,220.3h0.6v0.6h-0.6zM142.0,226.9h0.6v0.6h-0.6zM141.2,225.5h0.6v0.6h-0.6zM144.0,221.4h0.6v0.6h-0.6zM133.2,216.4h0.6v0.6h-0.6zM143.8,220.9h0.6v0.6h-0.6zM132.8,219.7h0.6v0.6h-0.6zM135.8,217.7h0.6v0.6h-0.6zM136.5,221.5h0.6v0.6h-0.6zM135.2,219.5h0.6v0.6h-0.6zM138.2,222.5h0.6v0.6h-0.6zM138.6,226.8h0.6v0.6h-0.6zM139.7,212.2h0.6v0.6h-0.6zM135.3,220.5h0.6v0.6h-0.6zM141.9,215.8h0.6v0.6h-0.6zM134.4,223.5h0.6v0.6h-0.6zM136.3,231.2h0.6v0.6h-0.6zM135.8,231.1h0.6v0.6h-0.6zM130.7,214.4h0.6v0.6h-0.6zM144.1,227.9h0.6v0.6h-0.6zM140.4,226.0h0.6v0.6h-0.6zM140.4,218.0h0.6v0.6h-0.6zM142.7,222.1h0.6v0.6h-0.6zM142.9,225.8h0.6v0.6h-0.6zM128.1,217.6h0.6v0.6h-0.6zM143.6,224.5h0.6v0.6h-0.6zM136.0,226.8h0.6v0.6h-0.6zM135.9,222.0h0.6v0.6h-0.6zM138.5,226.2h0.6v0.6h-0.6zM145.6,225.6h0.6v0.6h-0.6zM147.4,236.1h0.6v0.6h-0.6zM146.6,231.7h0.6v0.6h-0.6zM138.7,226.1h0.6v0.6h-0.6zM137.3,220.9h0.6v0.6h-0.6zM137.7,221.5h0.6v0.6h-0.6zM146.2,228.5h0.6v0.6h-0.6zM135.8,213.8h0.6v0.6h-0.6zM137.7,222.8h0.6v0.6h-0.6zM132.6,218.5h0.6v0.6h-0.6zM126.7,228.7h0.6v0.6h-0.6zM137.7,240.8h0.6v0.6h-0.6zM137.8,224.4h0.6v0.6h-0.6zM145.2,226.1h0.6v0.6h-0.6zM138.8,223.1h0.6v0.6h-0.6zM135.0,234.3h0.6v0.6h-0.6zM143.0,235.6h0.6v0.6h-0.6zM136.3,225.5h0.6v0.6h-0.6zM133.6,231.1h0.6v0.6h-0.6zM131.0,228.7h0.6v0.6h-0.6zM143.5,233.8h0.6v0.6h-0.6zM133.3,231.8h0.6v0.6h-0.6zM134.4,220.8h0.6v0.6h-0.6zM131.4,232.2h0.6v0.6h-0.6zM146.2,221.7h0.6v0.6h-0.6zM134.2,223.3h0.6v0.6h-0.6zM150.5,231.3h0.6v0.6h-0.6zM135.3,214.5h0.6v0.6h-0.6zM134.6,232.4h0.6v0.6h-0.6zM147.3,223.7h0.6v0.6h-0.6zM134.5,222.2h0.6v0.6h-0.6zM128.6,230.7h0.6v0.6h-0.6zM132.6,231.7h0.6v0.6h-0.6zM129.5,217.7h0.6v0.6h-0.6zM139.4,220.7h0.6v0.6h-0.6zM141.9,225.3h0.6v0.6h-0.6zM132.1,229.0h0.6v0.6h-0.6zM142.2,213.8h0.6v0.6h-0.6zM147.1,228.3h0.6v0.6h-0.6zM141.8,214.1h0.6v0.6h-0.6zM134.4,223.2h0.6v0.6h-0.6zM143.4,216.5h0.6v0.6h-0.6zM133.6,213.1h0.6v0.6h-0.6zM136.8,227.4h0.6v0.6h-0.6zM129.6,221.8h0.6v0.6h-0.6zM140.6,234.8h0.6v0.6h-0.6zM141.3,223.5h0.6v0.6h-0.6zM132.1,219.7h0.6v0.6h-0.6zM134.7,226.2h0.6v0.6h-0.6zM137.8,235.3h0.6v0.6h-0.6zM139.4,218.9h0.6v0.6h-0.6zM145.7,231.0h0.6v0.6h-0.6zM138.5,221.0h0.6v0.6h-0.6zM128.6,219.2h0.6v0.6h-0.6zM142.6,220.5h0.6v0.6h-0.6zM131.4,226.5h0.6v0.6h-0.6zM139.2,228.9h0.6v0.6h-0.6zM141.3,233.8h0.6v0.6h-0.6zM133.8,231.2h0.6v0.6h-0.6zM133.1,229.5h0.6v0.6h-0.6zM138.9,226.8h0.6v0.6h-0.6zM142.8,225.2h0.6v0.6h-0.6zM143.6,230.6h0.6v0.6h-0.6zM138.7,221.9h0.6v0.6h-0.6zM134.2,222.1h0.6v0.6h-0.6zM137.0,225.2h0.6v0.6h-0.6zM152.9,229.1h0.6v0.6h-0.6zM141.8,220.1h0.6v0.6h-0.6zM134.4,223.4h0.6v0.6h-0.6zM139.0,219.1h0.6v0.6h-0.6zM146.1,221.9h0.6v0.6h-0.6zM143.4,211.3h0.6v0.6h-0.6zM138.0,227.0h0.6v0.6h-0.6zM139.0,228.9h0.6v0.6h-0.6zM139.4,226.3h0.6v0.6h-0.6zM128.5,221.0h0.6v0.6h-0.6zM126.3,229.1h0.6v0.6h-0.6zM139.5,224.1h0.6v0.6h-0.6zM133.9,221.8h0.6v0.6h-0.6zM147.2,235.7h0.6v0.6h-0.6zM137.7,233.0h0.6v0.6h-0.6zM130.1,213.7h0.6v0.6h-0.6zM135.6,220.1h0.6v0.6h-0.6zM135.2,226.4h0.6v0.6h-0.6zM153.1,221.3h0.6v0.6h-0.6zM138.2,227.0h0.6v0.6h-0.6zM137.8,230.9h0.6v0.6h-0.6zM146.9,217.8h0.6v0.6h-0.6zM138.8,223.7h0.6v0.6h-0.6z" fill="#5ec3d4" opacity="1.0"/>
<rect x="109.50" y="172.60" width="86.40" height="80.60" fill="none" stroke="#b5b5b5" stroke-width="0.6"/>
<line x1="109.50" y1="253.20" x2="195.90" y2="253.20" stroke="#999" stroke-width="0.6" />
<line x1="108.50" y1="188.72" x2="109.50" y2="188.72" stroke="#aaa" stroke-width="0.5" />
<line x1="108.50" y1="204.84" x2="109.50" y2="204.84" stroke="#aaa" stroke-width="0.5" />
<line x1="108.50" y1="220.96" x2="109.50" y2="220.96" stroke="#aaa" stroke-width="0.5" />
<line x1="108.50" y1="237.08" x2="109.50" y2="237.08" stroke="#aaa" stroke-width="0.5" />
<rect x="145.10" y="205.50" width="50.80" height="37.50" fill="none" stroke="#777" stroke-width="0.7"/>
<text x="117.50" y="263.90" font-size="5.6" text-anchor="middle" fill="#2a2a2a" stroke="#2a2a2a" stroke-width="0.16" font-weight="normal" font-style="normal" >−10³</text>
<line x1="117.50" y1="253.20" x2="117.50" y2="254.10" stroke="#888" stroke-width="0.4" />
<text x="133.00" y="263.90" font-size="5.6" text-anchor="middle" fill="#2a2a2a" stroke="#2a2a2a" stroke-width="0.16" font-weight="normal" font-style="normal" >0</text>
<line x1="133.00" y1="253.20" x2="133.00" y2="254.10" stroke="#888" stroke-width="0.4" />
<text x="146.50" y="263.90" font-size="5.6" text-anchor="middle" fill="#2a2a2a" stroke="#2a2a2a" stroke-width="0.16" font-weight="normal" font-style="normal" >10³</text>
<line x1="146.50" y1="253.20" x2="146.50" y2="254.10" stroke="#888" stroke-width="0.4" />
<text x="174.00" y="263.90" font-size="5.6" text-anchor="middle" fill="#2a2a2a" stroke="#2a2a2a" stroke-width="0.16" font-weight="normal" font-style="normal" >10⁴</text>
<line x1="174.00" y1="253.20" x2="174.00" y2="254.10" stroke="#888" stroke-width="0.4" />
<line x1="112.50" y1="253.20" x2="112.50" y2="253.70" stroke="#bbb" stroke-width="0.3" />
<line x1="119.81" y1="253.20" x2="119.81" y2="253.70" stroke="#bbb" stroke-width="0.3" />
<line x1="127.12" y1="253.20" x2="127.12" y2="253.70" stroke="#bbb" stroke-width="0.3" />
<line x1="134.43" y1="253.20" x2="134.43" y2="253.70" stroke="#bbb" stroke-width="0.3" />
<line x1="141.74" y1="253.20" x2="141.74" y2="253.70" stroke="#bbb" stroke-width="0.3" />
<line x1="149.05" y1="253.20" x2="149.05" y2="253.70" stroke="#bbb" stroke-width="0.3" />
<line x1="156.35" y1="253.20" x2="156.35" y2="253.70" stroke="#bbb" stroke-width="0.3" />
<line x1="163.66" y1="253.20" x2="163.66" y2="253.70" stroke="#bbb" stroke-width="0.3" />
<line x1="170.97" y1="253.20" x2="170.97" y2="253.70" stroke="#bbb" stroke-width="0.3" />
<line x1="178.28" y1="253.20" x2="178.28" y2="253.70" stroke="#bbb" stroke-width="0.3" />
<line x1="185.59" y1="253.20" x2="185.59" y2="253.70" stroke="#bbb" stroke-width="0.3" />
<line x1="192.90" y1="253.20" x2="192.90" y2="253.70" stroke="#bbb" stroke-width="0.3" />
<rect x="130.80" y="253.50" width="2" height="1.5" fill="#222"/>
<text x="189.10" y="215.80" font-size="7.9" text-anchor="end" fill="#111" stroke="#111" stroke-width="0.16" font-weight="normal" font-style="normal" >44.0</text>
<text x="171.50" y="193.70" font-size="5.0" text-anchor="middle" fill="#222" stroke="#222" stroke-width="0.16" font-weight="normal" font-style="normal" textLength="14.6" lengthAdjust="spacingAndGlyphs">IGSF9</text>
<text x="171.50" y="199.70" font-size="5.0" text-anchor="middle" fill="#222" stroke="#222" stroke-width="0.16" font-weight="normal" font-style="normal" >44.0</text>
<text x="249.20" y="167.60" font-size="7.5" text-anchor="middle" fill="#222" stroke="#222" stroke-width="0.16" font-weight="normal" font-style="normal" >M1</text>
<path d="M253.8,217.8h0.7v0.7h-0.7zM243.2,213.9h0.7v0.7h-0.7zM254.6,226.5h0.7v0.7h-0.7zM252.4,213.7h0.7v0.7h-0.7zM250.1,221.7h0.7v0.7h-0.7zM244.9,220.9h0.7v0.7h-0.7zM255.5,228.2h0.7v0.7h-0.7zM251.9,228.1h0.7v0.7h-0.7zM249.0,225.9h0.7v0.7h-0.7zM252.2,228.3h0.7v0.7h-0.7zM251.7,224.8h0.7v0.7h-0.7zM251.3,222.3h0.7v0.7h-0.7zM263.2,228.1h0.7v0.7h-0.7zM254.1,237.0h0.7v0.7h-0.7zM259.0,217.7h0.7v0.7h-0.7zM255.5,229.7h0.7v0.7h-0.7zM261.4,232.1h0.7v0.7h-0.7zM255.9,219.6h0.7v0.7h-0.7zM247.6,226.8h0.7v0.7h-0.7zM254.5,220.4h0.7v0.7h-0.7zM250.1,223.5h0.7v0.7h-0.7zM252.3,227.2h0.7v0.7h-0.7zM250.6,219.3h0.7v0.7h-0.7zM258.2,233.5h0.7v0.7h-0.7zM251.5,230.6h0.7v0.7h-0.7zM254.2,228.8h0.7v0.7h-0.7zM254.4,221.7h0.7v0.7h-0.7zM254.9,230.6h0.7v0.7h-0.7zM247.5,235.3h0.7v0.7h-0.7zM262.4,234.6h0.7v0.7h-0.7zM261.9,229.2h0.7v0.7h-0.7zM250.3,222.5h0.7v0.7h-0.7zM247.9,226.1h0.7v0.7h-0.7zM251.8,228.9h0.7v0.7h-0.7zM241.9,237.1h0.7v0.7h-0.7zM263.4,225.4h0.7v0.7h-0.7zM255.4,227.9h0.7v0.7h-0.7zM253.4,224.5h0.7v0.7h-0.7zM251.4,221.4h0.7v0.7h-0.7zM252.9,225.4h0.7v0.7h-0.7zM253.6,221.2h0.7v0.7h-0.7zM252.2,225.7h0.7v0.7h-0.7zM255.0,220.2h0.7v0.7h-0.7zM254.1,230.4h0.7v0.7h-0.7zM255.0,223.7h0.7v0.7h-0.7zM249.5,224.3h0.7v0.7h-0.7zM255.6,233.3h0.7v0.7h-0.7zM251.2,222.3h0.7v0.7h-0.7zM253.9,226.5h0.7v0.7h-0.7zM247.5,221.8h0.7v0.7h-0.7zM251.5,228.9h0.7v0.7h-0.7zM246.0,220.4h0.7v0.7h-0.7zM254.5,219.4h0.7v0.7h-0.7zM252.5,227.3h0.7v0.7h-0.7zM251.4,220.4h0.7v0.7h-0.7zM251.7,223.8h0.7v0.7h-0.7zM253.7,221.3h0.7v0.7h-0.7zM257.5,217.1h0.7v0.7h-0.7zM251.1,225.5h0.7v0.7h-0.7zM256.8,222.5h0.7v0.7h-0.7zM254.7,222.7h0.7v0.7h-0.7zM255.7,234.2h0.7v0.7h-0.7zM250.0,227.7h0.7v0.7h-0.7zM247.4,230.4h0.7v0.7h-0.7zM258.1,225.7h0.7v0.7h-0.7zM246.3,227.5h0.7v0.7h-0.7zM257.7,230.9h0.7v0.7h-0.7zM256.1,216.3h0.7v0.7h-0.7zM248.6,232.6h0.7v0.7h-0.7zM245.9,231.2h0.7v0.7h-0.7zM261.4,229.3h0.7v0.7h-0.7zM257.6,223.8h0.7v0.7h-0.7zM245.9,225.0h0.7v0.7h-0.7zM251.0,225.3h0.7v0.7h-0.7zM255.5,224.8h0.7v0.7h-0.7zM253.0,227.6h0.7v0.7h-0.7zM252.0,234.7h0.7v0.7h-0.7zM254.2,225.9h0.7v0.7h-0.7zM251.0,222.4h0.7v0.7h-0.7zM258.7,226.3h0.7v0.7h-0.7zM246.6,222.7h0.7v0.7h-0.7zM251.3,223.3h0.7v0.7h-0.7zM257.4,219.7h0.7v0.7h-0.7zM254.5,226.2h0.7v0.7h-0.7zM246.1,225.7h0.7v0.7h-0.7zM251.5,228.0h0.7v0.7h-0.7zM249.7,227.0h0.7v0.7h-0.7zM243.7,220.1h0.7v0.7h-0.7zM255.9,230.7h0.7v0.7h-0.7zM251.9,222.5h0.7v0.7h-0.7zM257.4,215.0h0.7v0.7h-0.7zM248.0,228.9h0.7v0.7h-0.7zM255.3,220.3h0.7v0.7h-0.7zM242.6,232.8h0.7v0.7h-0.7zM252.8,221.0h0.7v0.7h-0.7zM252.3,230.0h0.7v0.7h-0.7zM239.0,231.1h0.7v0.7h-0.7zM255.7,215.1h0.7v0.7h-0.7zM255.9,216.6h0.7v0.7h-0.7zM257.7,227.5h0.7v0.7h-0.7zM263.3,222.4h0.7v0.7h-0.7zM252.0,230.7h0.7v0.7h-0.7zM248.8,222.0h0.7v0.7h-0.7zM250.1,225.1h0.7v0.7h-0.7zM246.6,227.9h0.7v0.7h-0.7zM254.7,225.9h0.7v0.7h-0.7zM260.5,223.9h0.7v0.7h-0.7zM258.5,222.8h0.7v0.7h-0.7zM255.8,215.8h0.7v0.7h-0.7zM253.0,224.6h0.7v0.7h-0.7zM249.5,222.4h0.7v0.7h-0.7zM250.3,221.9h0.7v0.7h-0.7zM241.0,222.5h0.7v0.7h-0.7zM249.3,222.9h0.7v0.7h-0.7zM246.7,224.8h0.7v0.7h-0.7zM255.9,224.2h0.7v0.7h-0.7zM249.5,232.3h0.7v0.7h-0.7zM256.9,230.1h0.7v0.7h-0.7zM257.8,223.9h0.7v0.7h-0.7zM251.4,231.1h0.7v0.7h-0.7zM249.2,224.9h0.7v0.7h-0.7zM253.9,227.4h0.7v0.7h-0.7zM250.6,230.4h0.7v0.7h-0.7zM251.1,229.1h0.7v0.7h-0.7zM257.4,228.8h0.7v0.7h-0.7zM255.7,219.7h0.7v0.7h-0.7zM245.4,222.4h0.7v0.7h-0.7zM254.4,233.0h0.7v0.7h-0.7zM245.9,227.0h0.7v0.7h-0.7zM247.7,221.8h0.7v0.7h-0.7zM250.6,229.0h0.7v0.7h-0.7zM253.1,231.4h0.7v0.7h-0.7zM247.1,229.9h0.7v0.7h-0.7zM256.7,225.8h0.7v0.7h-0.7zM254.4,222.7h0.7v0.7h-0.7zM246.6,223.5h0.7v0.7h-0.7zM248.8,240.0h0.7v0.7h-0.7zM249.6,233.8h0.7v0.7h-0.7zM253.0,227.1h0.7v0.7h-0.7zM255.7,221.6h0.7v0.7h-0.7zM256.6,227.4h0.7v0.7h-0.7zM244.4,228.5h0.7v0.7h-0.7zM254.8,227.8h0.7v0.7h-0.7zM259.9,223.4h0.7v0.7h-0.7zM254.6,229.2h0.7v0.7h-0.7zM247.5,231.5h0.7v0.7h-0.7zM244.7,219.0h0.7v0.7h-0.7zM254.6,220.1h0.7v0.7h-0.7zM251.4,217.3h0.7v0.7h-0.7zM252.3,219.8h0.7v0.7h-0.7zM253.7,217.8h0.7v0.7h-0.7zM254.2,224.2h0.7v0.7h-0.7zM252.3,225.2h0.7v0.7h-0.7zM252.7,218.9h0.7v0.7h-0.7zM239.2,225.7h0.7v0.7h-0.7zM247.3,223.2h0.7v0.7h-0.7zM254.1,215.6h0.7v0.7h-0.7zM248.2,222.4h0.7v0.7h-0.7zM246.7,227.1h0.7v0.7h-0.7zM251.3,221.4h0.7v0.7h-0.7zM247.1,229.5h0.7v0.7h-0.7zM248.7,228.4h0.7v0.7h-0.7zM254.2,216.0h0.7v0.7h-0.7zM246.6,225.5h0.7v0.7h-0.7zM253.7,229.4h0.7v0.7h-0.7zM256.0,230.7h0.7v0.7h-0.7zM250.1,224.4h0.7v0.7h-0.7zM255.9,223.4h0.7v0.7h-0.7zM257.3,217.6h0.7v0.7h-0.7zM255.3,224.6h0.7v0.7h-0.7zM242.2,230.4h0.7v0.7h-0.7zM253.6,225.6h0.7v0.7h-0.7zM246.6,223.2h0.7v0.7h-0.7zM259.6,221.4h0.7v0.7h-0.7zM234.6,221.2h0.7v0.7h-0.7zM246.0,224.8h0.7v0.7h-0.7zM250.0,220.9h0.7v0.7h-0.7zM247.8,230.7h0.7v0.7h-0.7zM244.8,235.3h0.7v0.7h-0.7zM249.3,220.0h0.7v0.7h-0.7zM255.9,228.3h0.7v0.7h-0.7zM246.8,229.2h0.7v0.7h-0.7zM242.8,220.9h0.7v0.7h-0.7zM257.6,224.2h0.7v0.7h-0.7zM245.5,228.1h0.7v0.7h-0.7zM256.6,225.4h0.7v0.7h-0.7zM243.0,223.8h0.7v0.7h-0.7zM254.1,229.3h0.7v0.7h-0.7zM261.3,224.2h0.7v0.7h-0.7zM249.6,225.3h0.7v0.7h-0.7zM258.0,220.8h0.7v0.7h-0.7zM258.5,211.8h0.7v0.7h-0.7zM256.0,222.1h0.7v0.7h-0.7zM254.3,228.9h0.7v0.7h-0.7zM246.1,225.1h0.7v0.7h-0.7zM253.2,228.4h0.7v0.7h-0.7zM247.3,220.5h0.7v0.7h-0.7zM242.4,238.2h0.7v0.7h-0.7zM251.0,224.4h0.7v0.7h-0.7zM244.5,230.1h0.7v0.7h-0.7zM249.3,232.7h0.7v0.7h-0.7zM256.3,225.6h0.7v0.7h-0.7zM255.6,219.9h0.7v0.7h-0.7zM250.4,222.6h0.7v0.7h-0.7zM245.7,225.6h0.7v0.7h-0.7zM251.3,232.7h0.7v0.7h-0.7zM235.2,222.1h0.7v0.7h-0.7zM247.4,223.2h0.7v0.7h-0.7zM254.1,227.5h0.7v0.7h-0.7zM252.1,223.1h0.7v0.7h-0.7zM254.5,227.3h0.7v0.7h-0.7zM242.8,224.2h0.7v0.7h-0.7zM245.1,219.6h0.7v0.7h-0.7zM252.7,225.8h0.7v0.7h-0.7zM252.6,221.1h0.7v0.7h-0.7zM251.0,220.9h0.7v0.7h-0.7zM253.9,228.9h0.7v0.7h-0.7zM260.8,231.8h0.7v0.7h-0.7zM248.0,223.2h0.7v0.7h-0.7zM247.3,227.0h0.7v0.7h-0.7zM261.9,229.0h0.7v0.7h-0.7zM241.0,219.2h0.7v0.7h-0.7zM245.5,228.1h0.7v0.7h-0.7zM252.0,227.0h0.7v0.7h-0.7zM260.9,221.4h0.7v0.7h-0.7zM247.8,235.3h0.7v0.7h-0.7zM253.7,221.6h0.7v0.7h-0.7zM241.9,217.9h0.7v0.7h-0.7zM239.8,225.8h0.7v0.7h-0.7zM252.2,230.5h0.7v0.7h-0.7zM251.3,222.0h0.7v0.7h-0.7zM248.3,235.0h0.7v0.7h-0.7zM243.2,226.4h0.7v0.7h-0.7zM252.1,228.6h0.7v0.7h-0.7zM250.0,228.0h0.7v0.7h-0.7zM256.1,224.8h0.7v0.7h-0.7zM249.7,224.6h0.7v0.7h-0.7zM247.2,224.5h0.7v0.7h-0.7zM250.5,226.6h0.7v0.7h-0.7zM258.7,232.0h0.7v0.7h-0.7zM249.8,228.5h0.7v0.7h-0.7zM253.5,229.3h0.7v0.7h-0.7zM252.1,226.8h0.7v0.7h-0.7zM249.7,221.6h0.7v0.7h-0.7zM256.4,232.0h0.7v0.7h-0.7zM255.3,227.7h0.7v0.7h-0.7zM253.3,223.2h0.7v0.7h-0.7zM243.1,228.8h0.7v0.7h-0.7zM253.0,222.7h0.7v0.7h-0.7zM247.2,231.9h0.7v0.7h-0.7zM243.0,234.3h0.7v0.7h-0.7zM255.2,237.4h0.7v0.7h-0.7zM248.4,225.4h0.7v0.7h-0.7zM249.5,226.3h0.7v0.7h-0.7zM251.0,221.8h0.7v0.7h-0.7zM257.4,221.6h0.7v0.7h-0.7zM249.5,228.3h0.7v0.7h-0.7zM249.3,223.3h0.7v0.7h-0.7zM253.8,223.7h0.7v0.7h-0.7zM245.8,225.0h0.7v0.7h-0.7z" fill="#ee3426" opacity="1.0"/>
<path d="M240.8,216 C247,214.8 254,215 256.5,218 C258.5,222 258.5,229 256.5,233 C253.5,236.2 245,236 240.8,235 Z" fill="#ee3426" filter="url(#bl5)"/>
<rect x="228.4" y="215.2" width="12.6" height="20.3" rx="5.2" ry="6.5" fill="#1ba6c4" filter="url(#bl4)"/>
<rect x="207.00" y="172.60" width="86.40" height="80.60" fill="none" stroke="#b5b5b5" stroke-width="0.6"/>
<line x1="207.00" y1="253.20" x2="293.40" y2="253.20" stroke="#999" stroke-width="0.6" />
<line x1="206.00" y1="188.72" x2="207.00" y2="188.72" stroke="#aaa" stroke-width="0.5" />
<line x1="206.00" y1="204.84" x2="207.00" y2="204.84" stroke="#aaa" stroke-width="0.5" />
<line x1="206.00" y1="220.96" x2="207.00" y2="220.96" stroke="#aaa" stroke-width="0.5" />
<line x1="206.00" y1="237.08" x2="207.00" y2="237.08" stroke="#aaa" stroke-width="0.5" />
<rect x="242.60" y="205.50" width="50.80" height="37.50" fill="none" stroke="#777" stroke-width="0.7"/>
<text x="215.00" y="263.90" font-size="5.6" text-anchor="middle" fill="#2a2a2a" stroke="#2a2a2a" stroke-width="0.16" font-weight="normal" font-style="normal" >−10³</text>
<line x1="215.00" y1="253.20" x2="215.00" y2="254.10" stroke="#888" stroke-width="0.4" />
<text x="230.50" y="263.90" font-size="5.6" text-anchor="middle" fill="#2a2a2a" stroke="#2a2a2a" stroke-width="0.16" font-weight="normal" font-style="normal" >0</text>
<line x1="230.50" y1="253.20" x2="230.50" y2="254.10" stroke="#888" stroke-width="0.4" />
<text x="244.00" y="263.90" font-size="5.6" text-anchor="middle" fill="#2a2a2a" stroke="#2a2a2a" stroke-width="0.16" font-weight="normal" font-style="normal" >10³</text>
<line x1="244.00" y1="253.20" x2="244.00" y2="254.10" stroke="#888" stroke-width="0.4" />
<text x="271.50" y="263.90" font-size="5.6" text-anchor="middle" fill="#2a2a2a" stroke="#2a2a2a" stroke-width="0.16" font-weight="normal" font-style="normal" >10⁴</text>
<line x1="271.50" y1="253.20" x2="271.50" y2="254.10" stroke="#888" stroke-width="0.4" />
<line x1="210.00" y1="253.20" x2="210.00" y2="253.70" stroke="#bbb" stroke-width="0.3" />
<line x1="217.31" y1="253.20" x2="217.31" y2="253.70" stroke="#bbb" stroke-width="0.3" />
<line x1="224.62" y1="253.20" x2="224.62" y2="253.70" stroke="#bbb" stroke-width="0.3" />
<line x1="231.93" y1="253.20" x2="231.93" y2="253.70" stroke="#bbb" stroke-width="0.3" />
<line x1="239.24" y1="253.20" x2="239.24" y2="253.70" stroke="#bbb" stroke-width="0.3" />
<line x1="246.55" y1="253.20" x2="246.55" y2="253.70" stroke="#bbb" stroke-width="0.3" />
<line x1="253.85" y1="253.20" x2="253.85" y2="253.70" stroke="#bbb" stroke-width="0.3" />
<line x1="261.16" y1="253.20" x2="261.16" y2="253.70" stroke="#bbb" stroke-width="0.3" />
<line x1="268.47" y1="253.20" x2="268.47" y2="253.70" stroke="#bbb" stroke-width="0.3" />
<line x1="275.78" y1="253.20" x2="275.78" y2="253.70" stroke="#bbb" stroke-width="0.3" />
<line x1="283.09" y1="253.20" x2="283.09" y2="253.70" stroke="#bbb" stroke-width="0.3" />
<line x1="290.40" y1="253.20" x2="290.40" y2="253.70" stroke="#bbb" stroke-width="0.3" />
<rect x="228.30" y="253.50" width="2" height="1.5" fill="#222"/>
<text x="286.60" y="215.80" font-size="7.9" text-anchor="end" fill="#111" stroke="#111" stroke-width="0.16" font-weight="normal" font-style="normal" >84.2</text>
<text x="269.00" y="193.70" font-size="5.0" text-anchor="middle" fill="#222" stroke="#222" stroke-width="0.16" font-weight="normal" font-style="normal" textLength="14.6" lengthAdjust="spacingAndGlyphs">IGSF9</text>
<text x="269.00" y="199.70" font-size="5.0" text-anchor="middle" fill="#222" stroke="#222" stroke-width="0.16" font-weight="normal" font-style="normal" >84.2</text>
<text x="346.70" y="167.60" font-size="7.5" text-anchor="middle" fill="#222" stroke="#222" stroke-width="0.16" font-weight="normal" font-style="normal" >M2</text>
<path d="M341.5,230.8h0.7v0.7h-0.7zM337.6,227.9h0.7v0.7h-0.7zM339.0,222.6h0.7v0.7h-0.7zM341.0,225.1h0.7v0.7h-0.7zM346.4,231.0h0.7v0.7h-0.7zM339.6,229.3h0.7v0.7h-0.7zM347.0,227.3h0.7v0.7h-0.7zM339.1,227.6h0.7v0.7h-0.7zM342.0,225.4h0.7v0.7h-0.7zM341.3,226.7h0.7v0.7h-0.7zM347.5,228.5h0.7v0.7h-0.7zM341.6,228.0h0.7v0.7h-0.7zM349.0,220.3h0.7v0.7h-0.7zM349.1,218.7h0.7v0.7h-0.7zM344.9,226.4h0.7v0.7h-0.7zM349.2,225.1h0.7v0.7h-0.7zM340.3,220.8h0.7v0.7h-0.7zM336.9,227.1h0.7v0.7h-0.7zM341.4,221.1h0.7v0.7h-0.7zM344.9,220.9h0.7v0.7h-0.7zM340.5,222.2h0.7v0.7h-0.7zM349.9,229.9h0.7v0.7h-0.7zM341.8,217.7h0.7v0.7h-0.7zM343.7,224.3h0.7v0.7h-0.7zM344.1,226.3h0.7v0.7h-0.7zM341.1,227.7h0.7v0.7h-0.7zM346.3,224.8h0.7v0.7h-0.7zM340.7,222.1h0.7v0.7h-0.7zM345.6,219.6h0.7v0.7h-0.7zM341.8,221.0h0.7v0.7h-0.7zM336.2,226.4h0.7v0.7h-0.7zM342.4,224.1h0.7v0.7h-0.7zM346.4,218.0h0.7v0.7h-0.7zM342.2,225.2h0.7v0.7h-0.7zM346.2,219.7h0.7v0.7h-0.7zM345.7,224.9h0.7v0.7h-0.7zM348.6,228.6h0.7v0.7h-0.7zM345.0,232.6h0.7v0.7h-0.7zM342.5,222.3h0.7v0.7h-0.7zM341.0,220.2h0.7v0.7h-0.7zM342.4,216.5h0.7v0.7h-0.7zM342.1,225.7h0.7v0.7h-0.7zM347.0,222.6h0.7v0.7h-0.7zM348.7,221.4h0.7v0.7h-0.7zM341.9,216.5h0.7v0.7h-0.7zM339.1,220.8h0.7v0.7h-0.7zM349.1,226.1h0.7v0.7h-0.7zM337.6,226.1h0.7v0.7h-0.7zM344.6,223.1h0.7v0.7h-0.7zM342.6,222.8h0.7v0.7h-0.7zM340.1,217.1h0.7v0.7h-0.7zM342.1,229.0h0.7v0.7h-0.7zM348.8,222.9h0.7v0.7h-0.7zM339.2,223.2h0.7v0.7h-0.7zM346.4,225.4h0.7v0.7h-0.7zM339.9,225.4h0.7v0.7h-0.7zM341.6,226.0h0.7v0.7h-0.7zM340.7,218.3h0.7v0.7h-0.7zM342.8,227.0h0.7v0.7h-0.7zM337.6,223.6h0.7v0.7h-0.7zM346.4,222.5h0.7v0.7h-0.7zM339.6,231.9h0.7v0.7h-0.7zM346.1,228.0h0.7v0.7h-0.7zM338.4,230.4h0.7v0.7h-0.7zM335.2,222.0h0.7v0.7h-0.7zM345.7,229.2h0.7v0.7h-0.7zM338.4,221.4h0.7v0.7h-0.7zM343.4,216.5h0.7v0.7h-0.7zM345.3,226.2h0.7v0.7h-0.7zM340.5,226.1h0.7v0.7h-0.7zM345.9,225.2h0.7v0.7h-0.7zM344.8,229.9h0.7v0.7h-0.7zM340.4,224.6h0.7v0.7h-0.7zM340.2,228.0h0.7v0.7h-0.7zM340.7,225.8h0.7v0.7h-0.7zM343.1,224.3h0.7v0.7h-0.7zM350.0,223.7h0.7v0.7h-0.7zM348.7,227.2h0.7v0.7h-0.7zM348.3,223.4h0.7v0.7h-0.7zM346.5,226.9h0.7v0.7h-0.7zM339.8,225.0h0.7v0.7h-0.7zM341.9,223.9h0.7v0.7h-0.7zM348.2,221.2h0.7v0.7h-0.7zM335.2,217.3h0.7v0.7h-0.7zM340.5,221.5h0.7v0.7h-0.7zM342.6,226.2h0.7v0.7h-0.7zM350.1,225.2h0.7v0.7h-0.7zM344.5,221.2h0.7v0.7h-0.7zM345.0,229.2h0.7v0.7h-0.7zM348.3,216.5h0.7v0.7h-0.7zM346.4,230.1h0.7v0.7h-0.7zM346.1,218.2h0.7v0.7h-0.7zM341.2,226.3h0.7v0.7h-0.7zM344.3,220.9h0.7v0.7h-0.7zM338.6,227.7h0.7v0.7h-0.7zM336.7,229.5h0.7v0.7h-0.7zM342.6,225.2h0.7v0.7h-0.7zM336.7,221.7h0.7v0.7h-0.7zM345.5,218.3h0.7v0.7h-0.7zM351.5,218.6h0.7v0.7h-0.7zM337.2,224.2h0.7v0.7h-0.7zM344.6,226.8h0.7v0.7h-0.7zM340.9,223.2h0.7v0.7h-0.7zM341.5,221.8h0.7v0.7h-0.7zM331.3,227.7h0.7v0.7h-0.7zM343.6,224.6h0.7v0.7h-0.7zM339.8,225.0h0.7v0.7h-0.7zM342.4,223.7h0.7v0.7h-0.7zM347.3,217.4h0.7v0.7h-0.7zM343.6,219.9h0.7v0.7h-0.7zM341.1,229.8h0.7v0.7h-0.7zM337.8,223.6h0.7v0.7h-0.7zM339.9,227.6h0.7v0.7h-0.7zM338.3,217.5h0.7v0.7h-0.7zM344.7,222.6h0.7v0.7h-0.7zM341.1,228.2h0.7v0.7h-0.7zM338.7,222.6h0.7v0.7h-0.7zM343.1,225.6h0.7v0.7h-0.7zM340.3,228.0h0.7v0.7h-0.7zM352.2,222.4h0.7v0.7h-0.7zM350.6,215.9h0.7v0.7h-0.7zM348.6,222.7h0.7v0.7h-0.7zM343.1,222.7h0.7v0.7h-0.7zM339.7,219.1h0.7v0.7h-0.7zM340.8,229.0h0.7v0.7h-0.7zM347.4,222.7h0.7v0.7h-0.7zM340.2,221.3h0.7v0.7h-0.7zM337.3,230.9h0.7v0.7h-0.7zM345.4,224.5h0.7v0.7h-0.7zM340.4,220.1h0.7v0.7h-0.7zM348.2,227.0h0.7v0.7h-0.7zM338.4,227.8h0.7v0.7h-0.7zM337.7,226.5h0.7v0.7h-0.7zM338.3,222.4h0.7v0.7h-0.7zM344.6,225.7h0.7v0.7h-0.7zM346.9,220.8h0.7v0.7h-0.7zM349.3,229.2h0.7v0.7h-0.7zM342.5,225.8h0.7v0.7h-0.7zM339.1,223.4h0.7v0.7h-0.7zM336.8,224.3h0.7v0.7h-0.7zM343.4,229.2h0.7v0.7h-0.7zM346.6,227.1h0.7v0.7h-0.7zM340.9,223.1h0.7v0.7h-0.7zM341.0,224.9h0.7v0.7h-0.7zM334.2,227.0h0.7v0.7h-0.7zM335.7,222.0h0.7v0.7h-0.7zM342.6,222.0h0.7v0.7h-0.7zM349.7,223.6h0.7v0.7h-0.7zM349.3,228.5h0.7v0.7h-0.7zM340.4,225.5h0.7v0.7h-0.7zM348.1,222.7h0.7v0.7h-0.7zM342.9,221.9h0.7v0.7h-0.7zM342.8,222.6h0.7v0.7h-0.7zM342.9,227.8h0.7v0.7h-0.7zM348.5,224.5h0.7v0.7h-0.7zM343.4,227.3h0.7v0.7h-0.7zM341.2,219.9h0.7v0.7h-0.7zM347.3,220.4h0.7v0.7h-0.7zM346.5,220.3h0.7v0.7h-0.7zM350.4,220.0h0.7v0.7h-0.7zM346.2,229.8h0.7v0.7h-0.7zM338.3,229.7h0.7v0.7h-0.7zM338.9,217.2h0.7v0.7h-0.7zM345.6,226.7h0.7v0.7h-0.7zM341.6,214.3h0.7v0.7h-0.7zM342.3,222.8h0.7v0.7h-0.7zM340.9,222.9h0.7v0.7h-0.7zM334.8,221.8h0.7v0.7h-0.7zM350.3,229.9h0.7v0.7h-0.7zM340.9,221.3h0.7v0.7h-0.7zM344.2,228.1h0.7v0.7h-0.7zM345.6,219.5h0.7v0.7h-0.7zM343.2,224.5h0.7v0.7h-0.7zM348.7,228.6h0.7v0.7h-0.7zM344.8,228.7h0.7v0.7h-0.7zM340.8,229.9h0.7v0.7h-0.7zM340.7,225.5h0.7v0.7h-0.7zM346.5,220.5h0.7v0.7h-0.7zM339.5,217.2h0.7v0.7h-0.7zM343.2,223.8h0.7v0.7h-0.7zM341.1,225.9h0.7v0.7h-0.7zM333.4,223.9h0.7v0.7h-0.7zM342.9,223.0h0.7v0.7h-0.7zM345.9,230.7h0.7v0.7h-0.7zM340.6,220.4h0.7v0.7h-0.7zM339.9,224.4h0.7v0.7h-0.7zM345.0,220.7h0.7v0.7h-0.7zM346.8,220.1h0.7v0.7h-0.7zM346.1,225.6h0.7v0.7h-0.7zM344.5,232.3h0.7v0.7h-0.7zM341.4,223.4h0.7v0.7h-0.7zM344.6,227.3h0.7v0.7h-0.7zM336.7,225.1h0.7v0.7h-0.7zM339.3,226.4h0.7v0.7h-0.7zM348.4,224.2h0.7v0.7h-0.7zM342.0,224.7h0.7v0.7h-0.7zM329.7,227.0h0.7v0.7h-0.7zM344.9,224.6h0.7v0.7h-0.7zM340.8,221.2h0.7v0.7h-0.7zM341.7,228.7h0.7v0.7h-0.7z" fill="#ee7a70" opacity="0.75"/>
<path d="M340.0,216 C334.5,215 328.5,215.5 327.8,219 C327.3,224 327.5,230 328.5,233.5 C330.5,235.5 336.5,235 340.0,234 Z" fill="#1ba6c4" filter="url(#bl5)"/>
<path d="M333.1,232.4h0.6v0.6h-0.6zM323.1,222.9h0.6v0.6h-0.6zM334.6,225.2h0.6v0.6h-0.6zM326.8,221.8h0.6v0.6h-0.6zM338.5,218.5h0.6v0.6h-0.6zM329.5,219.5h0.6v0.6h-0.6zM331.3,228.7h0.6v0.6h-0.6zM335.9,214.6h0.6v0.6h-0.6zM339.4,222.2h0.6v0.6h-0.6zM331.1,234.1h0.6v0.6h-0.6zM333.2,218.8h0.6v0.6h-0.6zM330.9,221.5h0.6v0.6h-0.6zM329.4,223.5h0.6v0.6h-0.6zM337.0,227.1h0.6v0.6h-0.6zM327.9,240.0h0.6v0.6h-0.6zM329.5,225.9h0.6v0.6h-0.6zM333.6,229.3h0.6v0.6h-0.6zM332.2,227.7h0.6v0.6h-0.6zM342.0,225.8h0.6v0.6h-0.6zM329.1,227.0h0.6v0.6h-0.6zM330.3,223.3h0.6v0.6h-0.6zM334.3,227.1h0.6v0.6h-0.6zM332.4,229.8h0.6v0.6h-0.6zM332.7,218.4h0.6v0.6h-0.6zM337.0,223.4h0.6v0.6h-0.6zM338.4,221.8h0.6v0.6h-0.6zM335.8,227.0h0.6v0.6h-0.6zM322.6,217.4h0.6v0.6h-0.6zM329.0,232.7h0.6v0.6h-0.6zM325.9,230.1h0.6v0.6h-0.6zM337.9,227.9h0.6v0.6h-0.6zM336.2,222.7h0.6v0.6h-0.6zM333.5,226.5h0.6v0.6h-0.6zM335.2,229.0h0.6v0.6h-0.6zM332.7,221.6h0.6v0.6h-0.6zM331.2,227.5h0.6v0.6h-0.6zM326.8,218.7h0.6v0.6h-0.6zM331.8,222.4h0.6v0.6h-0.6zM332.4,211.2h0.6v0.6h-0.6zM332.1,224.0h0.6v0.6h-0.6zM336.6,214.8h0.6v0.6h-0.6zM332.3,227.8h0.6v0.6h-0.6zM335.5,231.6h0.6v0.6h-0.6zM337.8,219.8h0.6v0.6h-0.6zM336.1,223.5h0.6v0.6h-0.6zM330.3,233.4h0.6v0.6h-0.6zM331.0,220.8h0.6v0.6h-0.6zM331.9,220.8h0.6v0.6h-0.6zM337.6,227.3h0.6v0.6h-0.6zM339.2,227.5h0.6v0.6h-0.6zM331.0,230.8h0.6v0.6h-0.6zM330.9,222.9h0.6v0.6h-0.6zM332.8,225.5h0.6v0.6h-0.6zM338.3,222.1h0.6v0.6h-0.6zM334.9,225.2h0.6v0.6h-0.6zM328.4,219.5h0.6v0.6h-0.6zM332.6,227.4h0.6v0.6h-0.6zM334.8,227.8h0.6v0.6h-0.6zM333.7,222.9h0.6v0.6h-0.6zM335.2,220.0h0.6v0.6h-0.6zM328.1,223.5h0.6v0.6h-0.6zM327.7,222.6h0.6v0.6h-0.6zM330.5,222.4h0.6v0.6h-0.6zM333.3,221.1h0.6v0.6h-0.6zM331.8,216.2h0.6v0.6h-0.6zM334.1,220.6h0.6v0.6h-0.6zM335.1,210.3h0.6v0.6h-0.6zM330.3,226.6h0.6v0.6h-0.6zM323.6,223.4h0.6v0.6h-0.6zM333.9,225.8h0.6v0.6h-0.6zM327.4,226.5h0.6v0.6h-0.6zM334.1,220.1h0.6v0.6h-0.6zM336.5,225.0h0.6v0.6h-0.6zM333.6,222.9h0.6v0.6h-0.6zM335.7,225.8h0.6v0.6h-0.6zM338.1,227.7h0.6v0.6h-0.6zM331.0,224.1h0.6v0.6h-0.6zM337.2,223.4h0.6v0.6h-0.6zM335.1,228.1h0.6v0.6h-0.6zM332.8,212.9h0.6v0.6h-0.6zM334.0,226.4h0.6v0.6h-0.6zM334.1,221.3h0.6v0.6h-0.6zM338.4,224.6h0.6v0.6h-0.6zM331.0,221.5h0.6v0.6h-0.6zM335.0,219.5h0.6v0.6h-0.6zM329.4,235.9h0.6v0.6h-0.6zM338.8,230.9h0.6v0.6h-0.6zM339.0,228.5h0.6v0.6h-0.6zM326.7,231.7h0.6v0.6h-0.6zM338.5,227.9h0.6v0.6h-0.6zM325.5,231.9h0.6v0.6h-0.6zM339.1,222.7h0.6v0.6h-0.6zM334.0,229.4h0.6v0.6h-0.6zM333.2,231.1h0.6v0.6h-0.6zM333.8,229.0h0.6v0.6h-0.6zM333.8,217.4h0.6v0.6h-0.6zM329.5,242.2h0.6v0.6h-0.6zM334.6,232.3h0.6v0.6h-0.6zM338.1,234.4h0.6v0.6h-0.6zM335.8,222.1h0.6v0.6h-0.6zM333.6,215.1h0.6v0.6h-0.6zM332.7,230.1h0.6v0.6h-0.6zM324.7,226.3h0.6v0.6h-0.6zM336.9,232.4h0.6v0.6h-0.6zM329.7,221.8h0.6v0.6h-0.6zM325.9,219.9h0.6v0.6h-0.6zM335.7,236.3h0.6v0.6h-0.6zM328.8,232.7h0.6v0.6h-0.6zM335.2,222.7h0.6v0.6h-0.6zM342.4,211.8h0.6v0.6h-0.6zM333.2,226.5h0.6v0.6h-0.6zM342.2,234.9h0.6v0.6h-0.6zM342.7,226.0h0.6v0.6h-0.6zM337.5,232.6h0.6v0.6h-0.6zM335.6,227.2h0.6v0.6h-0.6zM332.8,223.1h0.6v0.6h-0.6zM328.5,235.7h0.6v0.6h-0.6zM331.7,214.2h0.6v0.6h-0.6zM334.6,225.1h0.6v0.6h-0.6zM334.2,235.0h0.6v0.6h-0.6zM333.1,223.9h0.6v0.6h-0.6zM330.5,225.2h0.6v0.6h-0.6zM331.7,226.4h0.6v0.6h-0.6zM346.3,227.4h0.6v0.6h-0.6zM330.0,235.6h0.6v0.6h-0.6zM337.0,229.7h0.6v0.6h-0.6zM336.4,229.7h0.6v0.6h-0.6zM336.3,232.8h0.6v0.6h-0.6zM337.6,232.5h0.6v0.6h-0.6zM331.4,225.3h0.6v0.6h-0.6zM330.5,230.4h0.6v0.6h-0.6zM336.9,222.8h0.6v0.6h-0.6zM335.9,239.4h0.6v0.6h-0.6zM338.6,219.3h0.6v0.6h-0.6zM333.1,228.7h0.6v0.6h-0.6zM333.4,227.4h0.6v0.6h-0.6zM338.3,227.1h0.6v0.6h-0.6zM329.0,229.1h0.6v0.6h-0.6zM333.1,225.9h0.6v0.6h-0.6zM331.2,217.9h0.6v0.6h-0.6zM328.4,223.4h0.6v0.6h-0.6zM329.1,210.8h0.6v0.6h-0.6zM338.2,219.1h0.6v0.6h-0.6zM330.5,228.1h0.6v0.6h-0.6zM323.6,232.5h0.6v0.6h-0.6zM330.4,228.8h0.6v0.6h-0.6zM331.5,226.9h0.6v0.6h-0.6zM333.9,225.3h0.6v0.6h-0.6zM326.0,217.4h0.6v0.6h-0.6zM333.3,232.9h0.6v0.6h-0.6z" fill="#6fc8d8" opacity="1.0"/>
<rect x="304.50" y="172.60" width="86.40" height="80.60" fill="none" stroke="#b5b5b5" stroke-width="0.6"/>
<line x1="304.50" y1="253.20" x2="390.90" y2="253.20" stroke="#999" stroke-width="0.6" />
<line x1="303.50" y1="188.72" x2="304.50" y2="188.72" stroke="#aaa" stroke-width="0.5" />
<line x1="303.50" y1="204.84" x2="304.50" y2="204.84" stroke="#aaa" stroke-width="0.5" />
<line x1="303.50" y1="220.96" x2="304.50" y2="220.96" stroke="#aaa" stroke-width="0.5" />
<line x1="303.50" y1="237.08" x2="304.50" y2="237.08" stroke="#aaa" stroke-width="0.5" />
<rect x="340.10" y="205.50" width="50.80" height="37.50" fill="none" stroke="#777" stroke-width="0.7"/>
<text x="312.50" y="263.90" font-size="5.6" text-anchor="middle" fill="#2a2a2a" stroke="#2a2a2a" stroke-width="0.16" font-weight="normal" font-style="normal" >−10³</text>
<line x1="312.50" y1="253.20" x2="312.50" y2="254.10" stroke="#888" stroke-width="0.4" />
<text x="328.00" y="263.90" font-size="5.6" text-anchor="middle" fill="#2a2a2a" stroke="#2a2a2a" stroke-width="0.16" font-weight="normal" font-style="normal" >0</text>
<line x1="328.00" y1="253.20" x2="328.00" y2="254.10" stroke="#888" stroke-width="0.4" />
<text x="341.50" y="263.90" font-size="5.6" text-anchor="middle" fill="#2a2a2a" stroke="#2a2a2a" stroke-width="0.16" font-weight="normal" font-style="normal" >10³</text>
<line x1="341.50" y1="253.20" x2="341.50" y2="254.10" stroke="#888" stroke-width="0.4" />
<text x="369.00" y="263.90" font-size="5.6" text-anchor="middle" fill="#2a2a2a" stroke="#2a2a2a" stroke-width="0.16" font-weight="normal" font-style="normal" >10⁴</text>
<line x1="369.00" y1="253.20" x2="369.00" y2="254.10" stroke="#888" stroke-width="0.4" />
<line x1="307.50" y1="253.20" x2="307.50" y2="253.70" stroke="#bbb" stroke-width="0.3" />
<line x1="314.81" y1="253.20" x2="314.81" y2="253.70" stroke="#bbb" stroke-width="0.3" />
<line x1="322.12" y1="253.20" x2="322.12" y2="253.70" stroke="#bbb" stroke-width="0.3" />
<line x1="329.43" y1="253.20" x2="329.43" y2="253.70" stroke="#bbb" stroke-width="0.3" />
<line x1="336.74" y1="253.20" x2="336.74" y2="253.70" stroke="#bbb" stroke-width="0.3" />
<line x1="344.05" y1="253.20" x2="344.05" y2="253.70" stroke="#bbb" stroke-width="0.3" />
<line x1="351.35" y1="253.20" x2="351.35" y2="253.70" stroke="#bbb" stroke-width="0.3" />
<line x1="358.66" y1="253.20" x2="358.66" y2="253.70" stroke="#bbb" stroke-width="0.3" />
<line x1="365.97" y1="253.20" x2="365.97" y2="253.70" stroke="#bbb" stroke-width="0.3" />
<line x1="373.28" y1="253.20" x2="373.28" y2="253.70" stroke="#bbb" stroke-width="0.3" />
<line x1="380.59" y1="253.20" x2="380.59" y2="253.70" stroke="#bbb" stroke-width="0.3" />
<line x1="387.90" y1="253.20" x2="387.90" y2="253.70" stroke="#bbb" stroke-width="0.3" />
<rect x="325.80" y="253.50" width="2" height="1.5" fill="#222"/>
<text x="384.10" y="215.80" font-size="7.9" text-anchor="end" fill="#111" stroke="#111" stroke-width="0.16" font-weight="normal" font-style="normal" >18.4</text>
<text x="366.50" y="193.70" font-size="5.0" text-anchor="middle" fill="#222" stroke="#222" stroke-width="0.16" font-weight="normal" font-style="normal" textLength="14.6" lengthAdjust="spacingAndGlyphs">IGSF9</text>
<text x="366.50" y="199.70" font-size="5.0" text-anchor="middle" fill="#222" stroke="#222" stroke-width="0.16" font-weight="normal" font-style="normal" >18.4</text>
<line x1="308.70" y1="272.00" x2="316.10" y2="272.00" stroke="#80c6dc" stroke-width="0.9" />
<text x="319.40" y="274.10" font-size="6.0" text-anchor="start" fill="#222" stroke="#222" stroke-width="0.16" font-weight="normal" font-style="normal" >Isotype</text>
<line x1="341.60" y1="272.00" x2="349.00" y2="272.00" stroke="#cc4a62" stroke-width="0.9" />
<text x="352.30" y="274.10" font-size="6.0" text-anchor="start" fill="#222" stroke="#222" stroke-width="0.16" font-weight="normal" font-style="normal" textLength="32" lengthAdjust="spacingAndGlyphs">IGSF9-APC</text>
<line x1="438.00" y1="175.20" x2="438.00" y2="256.80" stroke="#333" stroke-width="1.4" />
<line x1="437.30" y1="256.20" x2="500.70" y2="256.20" stroke="#333" stroke-width="1.3" />
<line x1="435.00" y1="256.20" x2="438.00" y2="256.20" stroke="#333" stroke-width="1.1" />
<text x="432.00" y="258.50" font-size="6.4" text-anchor="end" fill="#222" stroke="#222" stroke-width="0.16" font-weight="normal" font-style="normal" >0</text>
<line x1="435.00" y1="240.52" x2="438.00" y2="240.52" stroke="#333" stroke-width="1.1" />
<text x="432.00" y="242.82" font-size="6.4" text-anchor="end" fill="#222" stroke="#222" stroke-width="0.16" font-weight="normal" font-style="normal" >20</text>
<line x1="435.00" y1="224.84" x2="438.00" y2="224.84" stroke="#333" stroke-width="1.1" />
<text x="432.00" y="227.14" font-size="6.4" text-anchor="end" fill="#222" stroke="#222" stroke-width="0.16" font-weight="normal" font-style="normal" >40</text>
<line x1="435.00" y1="209.16" x2="438.00" y2="209.16" stroke="#333" stroke-width="1.1" />
<text x="432.00" y="211.46" font-size="6.4" text-anchor="end" fill="#222" stroke="#222" stroke-width="0.16" font-weight="normal" font-style="normal" >60</text>
<line x1="435.00" y1="193.48" x2="438.00" y2="193.48" stroke="#333" stroke-width="1.1" />
<text x="432.00" y="195.78" font-size="6.4" text-anchor="end" fill="#222" stroke="#222" stroke-width="0.16" font-weight="normal" font-style="normal" >80</text>
<line x1="435.00" y1="177.80" x2="438.00" y2="177.80" stroke="#333" stroke-width="1.1" />
<text x="432.00" y="180.10" font-size="6.4" text-anchor="end" fill="#222" stroke="#222" stroke-width="0.16" font-weight="normal" font-style="normal" >100</text>
<rect x="443.30" y="255.89" width="8.60" height="0.31" fill="#8e9abf"/>
<line x1="447.60" y1="256.20" x2="447.60" y2="258.80" stroke="#333" stroke-width="0.9" />
<text x="447.60" y="267.50" font-size="6.5" text-anchor="middle" fill="#222" stroke="#222" stroke-width="0.16" font-weight="normal" font-style="normal" >BMNC</text>
<line x1="447.60" y1="255.89" x2="447.60" y2="255.89" stroke="#1d3660" stroke-width="0.7" />
<line x1="445.60" y1="255.89" x2="449.60" y2="255.89" stroke="#1d3660" stroke-width="0.7" />
<circle cx="444.60" cy="255.81" r="1.45" fill="#1d3660"/>
<circle cx="447.60" cy="255.81" r="1.45" fill="#1d3660"/>
<circle cx="450.60" cy="255.81" r="1.45" fill="#1d3660"/>
<rect x="458.40" y="226.02" width="8.60" height="30.18" fill="#8e9abf"/>
<line x1="462.70" y1="256.20" x2="462.70" y2="258.80" stroke="#333" stroke-width="0.9" />
<text x="462.70" y="267.50" font-size="6.5" text-anchor="middle" fill="#222" stroke="#222" stroke-width="0.16" font-weight="normal" font-style="normal" >M0</text>
<line x1="462.70" y1="222.53" x2="462.70" y2="226.02" stroke="#1d3660" stroke-width="0.7" />
<line x1="460.70" y1="222.53" x2="464.70" y2="222.53" stroke="#1d3660" stroke-width="0.7" />
<circle cx="462.70" cy="221.94" r="1.45" fill="#1d3660"/>
<circle cx="462.70" cy="225.94" r="1.45" fill="#1d3660"/>
<circle cx="462.70" cy="228.92" r="1.45" fill="#1d3660"/>
<rect x="473.50" y="194.11" width="8.60" height="62.09" fill="#8e9abf"/>
<line x1="477.80" y1="256.20" x2="477.80" y2="258.80" stroke="#333" stroke-width="0.9" />
<text x="477.80" y="267.50" font-size="6.5" text-anchor="middle" fill="#222" stroke="#222" stroke-width="0.16" font-weight="normal" font-style="normal" >M1</text>
<line x1="477.80" y1="190.93" x2="477.80" y2="194.11" stroke="#1d3660" stroke-width="0.7" />
<line x1="475.80" y1="190.93" x2="479.80" y2="190.93" stroke="#1d3660" stroke-width="0.7" />
<circle cx="474.30" cy="190.66" r="1.45" fill="#1d3660"/>
<circle cx="481.60" cy="193.24" r="1.45" fill="#1d3660"/>
<circle cx="477.80" cy="197.01" r="1.45" fill="#1d3660"/>
<rect x="488.60" y="243.19" width="8.60" height="13.01" fill="#8e9abf"/>
<line x1="492.90" y1="256.20" x2="492.90" y2="258.80" stroke="#333" stroke-width="0.9" />
<text x="492.90" y="267.50" font-size="6.5" text-anchor="middle" fill="#222" stroke="#222" stroke-width="0.16" font-weight="normal" font-style="normal" >M2</text>
<line x1="492.90" y1="242.87" x2="492.90" y2="243.19" stroke="#1d3660" stroke-width="0.7" />
<line x1="490.90" y1="242.87" x2="494.90" y2="242.87" stroke="#1d3660" stroke-width="0.7" />
<circle cx="489.90" cy="242.40" r="1.45" fill="#1d3660"/>
<circle cx="492.90" cy="241.77" r="1.45" fill="#1d3660"/>
<circle cx="495.90" cy="242.17" r="1.45" fill="#1d3660"/>
<line x1="447.60" y1="198.50" x2="462.70" y2="198.50" stroke="#333" stroke-width="1.2" />
<text x="456.50" y="194.70" font-size="6.4" text-anchor="middle" fill="#222" stroke="#222" stroke-width="0.16" font-weight="normal" font-style="normal" ><tspan font-style="italic">P</tspan> = .0002</text>
<line x1="447.60" y1="184.50" x2="477.80" y2="184.50" stroke="#333" stroke-width="1.2" />
<text x="462.20" y="180.70" font-size="6.4" text-anchor="middle" fill="#222" stroke="#222" stroke-width="0.16" font-weight="normal" font-style="normal" ><tspan font-style="italic">P</tspan> &lt; .0001</text>
<line x1="447.60" y1="169.50" x2="492.90" y2="169.50" stroke="#333" stroke-width="1.2" />
<text x="470.20" y="165.70" font-size="6.4" text-anchor="middle" fill="#222" stroke="#222" stroke-width="0.16" font-weight="normal" font-style="normal" ><tspan font-style="italic">P</tspan> &lt; .0001</text>
<text transform="translate(415.30,217.40) rotate(-90)" font-size="6.4" font-weight="bold" text-anchor="middle" fill="#2a2a2a" textLength="39.5" lengthAdjust="spacingAndGlyphs">IGSF9<tspan font-size="4" dy="-2">+</tspan><tspan dy="2"> cells (%)</tspan></text>
<text x="6.00" y="300.60" font-size="10.5" text-anchor="start" fill="#111" stroke="#111" stroke-width="0.16" font-weight="bold" font-style="normal" >C</text>
<text x="74.80" y="301.10" font-size="6.0" text-anchor="middle" fill="#1a1a1a" stroke="#1a1a1a" stroke-width="0.16" font-weight="normal" font-style="normal" textLength="52.5" lengthAdjust="spacingAndGlyphs">THP-1+IFN-γ(ng/ml)</text>
<line x1="44.20" y1="304.30" x2="106.00" y2="304.30" stroke="#333" stroke-width="0.8" />
<text x="44.50" y="311.10" font-size="6.1" text-anchor="middle" fill="#1a1a1a" stroke="#1a1a1a" stroke-width="0.16" font-weight="normal" font-style="normal" >0</text>
<text x="106.60" y="311.10" font-size="6.1" text-anchor="middle" fill="#1a1a1a" stroke="#1a1a1a" stroke-width="0.16" font-weight="normal" font-style="normal" >0.5</text>
<text x="44.60" y="375.80" font-size="6.1" text-anchor="middle" fill="#1a1a1a" stroke="#1a1a1a" stroke-width="0.16" font-weight="normal" font-style="normal" >20</text>
<text x="106.50" y="375.80" font-size="6.1" text-anchor="middle" fill="#1a1a1a" stroke="#1a1a1a" stroke-width="0.16" font-weight="normal" font-style="normal" >100</text>
<ellipse cx="45.90" cy="345.70" rx="3.10" ry="5.0" fill="#f59a92" opacity="0.45" filter="url(#bl8)"/>
<ellipse cx="45.40" cy="345.90" rx="3.00" ry="4.9" fill="url(#rg)" opacity="0.70" filter="url(#bl4)"/>
<path d="M44.9,347.0h0.6v0.6h-0.6zM45.9,346.9h0.6v0.6h-0.6zM47.1,341.9h0.6v0.6h-0.6zM46.1,345.2h0.6v0.6h-0.6zM45.2,343.5h0.6v0.6h-0.6zM44.5,343.1h0.6v0.6h-0.6zM44.0,352.1h0.6v0.6h-0.6zM48.1,345.7h0.6v0.6h-0.6zM46.7,343.2h0.6v0.6h-0.6zM45.9,349.3h0.6v0.6h-0.6zM45.6,343.2h0.6v0.6h-0.6zM45.3,343.2h0.6v0.6h-0.6zM43.6,345.1h0.6v0.6h-0.6zM45.1,343.6h0.6v0.6h-0.6zM44.4,343.3h0.6v0.6h-0.6zM46.0,349.2h0.6v0.6h-0.6zM45.3,351.4h0.6v0.6h-0.6zM43.3,346.4h0.6v0.6h-0.6zM44.0,345.3h0.6v0.6h-0.6zM45.8,347.1h0.6v0.6h-0.6zM47.3,344.3h0.6v0.6h-0.6zM43.8,345.2h0.6v0.6h-0.6zM46.1,343.9h0.6v0.6h-0.6zM47.0,350.0h0.6v0.6h-0.6zM43.6,346.6h0.6v0.6h-0.6zM47.1,340.8h0.6v0.6h-0.6zM46.0,345.1h0.6v0.6h-0.6zM43.6,349.0h0.6v0.6h-0.6zM46.0,344.5h0.6v0.6h-0.6zM46.3,347.3h0.6v0.6h-0.6zM46.8,347.2h0.6v0.6h-0.6zM46.2,342.7h0.6v0.6h-0.6zM45.0,346.0h0.6v0.6h-0.6zM45.1,343.0h0.6v0.6h-0.6zM43.0,346.3h0.6v0.6h-0.6zM45.7,344.2h0.6v0.6h-0.6zM45.0,343.4h0.6v0.6h-0.6zM44.6,345.5h0.6v0.6h-0.6zM44.7,347.4h0.6v0.6h-0.6zM45.4,346.0h0.6v0.6h-0.6z" fill="#e8403a" opacity="0.5"/>
<ellipse cx="40.60" cy="346.20" rx="4.1" ry="6.9" fill="#7fd6e6" opacity="0.55" filter="url(#bl5)" transform="rotate(9 40.60 346.20)"/>
<ellipse cx="40.60" cy="346.20" rx="3.4" ry="6.0" fill="#20a6bf" filter="url(#bl3)" transform="rotate(9 40.60 346.20)"/>
<rect x="19.40" y="313.20" width="51.80" height="47.80" fill="none" stroke="#b5b5b5" stroke-width="0.6"/>
<line x1="19.40" y1="361.00" x2="71.20" y2="361.00" stroke="#999" stroke-width="0.6" />
<line x1="18.40" y1="322.76" x2="19.40" y2="322.76" stroke="#aaa" stroke-width="0.5" />
<line x1="18.40" y1="332.32" x2="19.40" y2="332.32" stroke="#aaa" stroke-width="0.5" />
<line x1="18.40" y1="341.88" x2="19.40" y2="341.88" stroke="#aaa" stroke-width="0.5" />
<line x1="18.40" y1="351.44" x2="19.40" y2="351.44" stroke="#aaa" stroke-width="0.5" />
<rect x="43.40" y="332.20" width="27.80" height="26.40" fill="none" stroke="#7a7a7a" stroke-width="0.7"/>
<text x="23.80" y="367.80" font-size="4.2" text-anchor="middle" fill="#444" stroke="#444" stroke-width="0.05" font-weight="normal" font-style="normal" >−10³</text>
<line x1="23.80" y1="361.00" x2="23.80" y2="361.90" stroke="#888" stroke-width="0.4" />
<text x="38.30" y="367.80" font-size="4.2" text-anchor="middle" fill="#444" stroke="#444" stroke-width="0.05" font-weight="normal" font-style="normal" >0</text>
<line x1="38.30" y1="361.00" x2="38.30" y2="361.90" stroke="#888" stroke-width="0.4" />
<text x="49.60" y="367.80" font-size="4.2" text-anchor="middle" fill="#444" stroke="#444" stroke-width="0.05" font-weight="normal" font-style="normal" >10³</text>
<line x1="49.60" y1="361.00" x2="49.60" y2="361.90" stroke="#888" stroke-width="0.4" />
<line x1="22.40" y1="361.00" x2="22.40" y2="361.50" stroke="#bbb" stroke-width="0.3" />
<line x1="26.56" y1="361.00" x2="26.56" y2="361.50" stroke="#bbb" stroke-width="0.3" />
<line x1="30.73" y1="361.00" x2="30.73" y2="361.50" stroke="#bbb" stroke-width="0.3" />
<line x1="34.89" y1="361.00" x2="34.89" y2="361.50" stroke="#bbb" stroke-width="0.3" />
<line x1="39.05" y1="361.00" x2="39.05" y2="361.50" stroke="#bbb" stroke-width="0.3" />
<line x1="43.22" y1="361.00" x2="43.22" y2="361.50" stroke="#bbb" stroke-width="0.3" />
<line x1="47.38" y1="361.00" x2="47.38" y2="361.50" stroke="#bbb" stroke-width="0.3" />
<line x1="51.55" y1="361.00" x2="51.55" y2="361.50" stroke="#bbb" stroke-width="0.3" />
<line x1="55.71" y1="361.00" x2="55.71" y2="361.50" stroke="#bbb" stroke-width="0.3" />
<line x1="59.87" y1="361.00" x2="59.87" y2="361.50" stroke="#bbb" stroke-width="0.3" />
<line x1="64.04" y1="361.00" x2="64.04" y2="361.50" stroke="#bbb" stroke-width="0.3" />
<line x1="68.20" y1="361.00" x2="68.20" y2="361.50" stroke="#bbb" stroke-width="0.3" />
<rect x="36.60" y="361.20" width="2.0" height="1.2" fill="#222"/>
<text x="66.20" y="339.60" font-size="6.4" text-anchor="end" fill="#111" stroke="#111" stroke-width="0.16" font-weight="normal" font-style="normal" >27.9</text>
<text x="56.30" y="325.10" font-size="4.1" text-anchor="middle" fill="#4a4a4a" stroke="#4a4a4a" stroke-width="0.05" font-weight="normal" font-style="normal" >IGSF9</text>
<text x="56.30" y="329.90" font-size="4.1" text-anchor="middle" fill="#4a4a4a" stroke="#4a4a4a" stroke-width="0.05" font-weight="normal" font-style="normal" >27.9</text>
<ellipse cx="107.60" cy="345.70" rx="3.72" ry="5.0" fill="#f59a92" opacity="0.45" filter="url(#bl8)"/>
<ellipse cx="107.00" cy="345.90" rx="3.60" ry="4.9" fill="url(#rg)" opacity="0.70" filter="url(#bl4)"/>
<path d="M108.0,348.9h0.6v0.6h-0.6zM108.4,346.3h0.6v0.6h-0.6zM107.0,343.7h0.6v0.6h-0.6zM106.7,347.4h0.6v0.6h-0.6zM107.7,344.7h0.6v0.6h-0.6zM105.0,341.8h0.6v0.6h-0.6zM107.9,348.3h0.6v0.6h-0.6zM108.0,342.2h0.6v0.6h-0.6zM106.9,346.3h0.6v0.6h-0.6zM105.7,346.6h0.6v0.6h-0.6zM106.9,343.6h0.6v0.6h-0.6zM105.1,347.8h0.6v0.6h-0.6zM107.9,343.5h0.6v0.6h-0.6zM105.5,348.0h0.6v0.6h-0.6zM108.3,344.9h0.6v0.6h-0.6zM110.1,345.0h0.6v0.6h-0.6zM105.4,348.5h0.6v0.6h-0.6zM107.0,346.6h0.6v0.6h-0.6zM107.4,343.2h0.6v0.6h-0.6zM105.2,345.2h0.6v0.6h-0.6zM109.8,343.2h0.6v0.6h-0.6zM109.7,346.3h0.6v0.6h-0.6zM105.4,346.4h0.6v0.6h-0.6zM108.3,343.4h0.6v0.6h-0.6zM105.4,346.8h0.6v0.6h-0.6zM105.9,342.0h0.6v0.6h-0.6zM106.9,346.1h0.6v0.6h-0.6zM106.3,342.7h0.6v0.6h-0.6zM107.7,341.3h0.6v0.6h-0.6zM108.2,346.9h0.6v0.6h-0.6zM110.2,347.9h0.6v0.6h-0.6zM107.9,346.4h0.6v0.6h-0.6zM107.3,342.3h0.6v0.6h-0.6zM109.9,347.0h0.6v0.6h-0.6zM106.8,342.8h0.6v0.6h-0.6zM109.9,347.0h0.6v0.6h-0.6zM105.2,347.4h0.6v0.6h-0.6zM110.6,345.6h0.6v0.6h-0.6zM108.0,344.6h0.6v0.6h-0.6zM106.2,348.4h0.6v0.6h-0.6zM107.1,347.7h0.6v0.6h-0.6zM106.8,347.5h0.6v0.6h-0.6zM108.7,343.1h0.6v0.6h-0.6zM105.4,345.5h0.6v0.6h-0.6zM108.8,346.4h0.6v0.6h-0.6zM109.5,342.2h0.6v0.6h-0.6zM108.2,344.1h0.6v0.6h-0.6z" fill="#e8403a" opacity="0.5"/>
<ellipse cx="101.80" cy="346.20" rx="4.1" ry="6.9" fill="#7fd6e6" opacity="0.55" filter="url(#bl5)" transform="rotate(9 101.80 346.20)"/>
<ellipse cx="101.80" cy="346.20" rx="3.4" ry="6.0" fill="#20a6bf" filter="url(#bl3)" transform="rotate(9 101.80 346.20)"/>
<rect x="81.60" y="313.20" width="51.80" height="47.80" fill="none" stroke="#b5b5b5" stroke-width="0.6"/>
<line x1="81.60" y1="361.00" x2="133.40" y2="361.00" stroke="#999" stroke-width="0.6" />
<line x1="80.60" y1="322.76" x2="81.60" y2="322.76" stroke="#aaa" stroke-width="0.5" />
<line x1="80.60" y1="332.32" x2="81.60" y2="332.32" stroke="#aaa" stroke-width="0.5" />
<line x1="80.60" y1="341.88" x2="81.60" y2="341.88" stroke="#aaa" stroke-width="0.5" />
<line x1="80.60" y1="351.44" x2="81.60" y2="351.44" stroke="#aaa" stroke-width="0.5" />
<rect x="104.60" y="332.20" width="28.80" height="26.40" fill="none" stroke="#7a7a7a" stroke-width="0.7"/>
<text x="86.00" y="367.80" font-size="4.2" text-anchor="middle" fill="#444" stroke="#444" stroke-width="0.05" font-weight="normal" font-style="normal" >−10³</text>
<line x1="86.00" y1="361.00" x2="86.00" y2="361.90" stroke="#888" stroke-width="0.4" />
<text x="100.50" y="367.80" font-size="4.2" text-anchor="middle" fill="#444" stroke="#444" stroke-width="0.05" font-weight="normal" font-style="normal" >0</text>
<line x1="100.50" y1="361.00" x2="100.50" y2="361.90" stroke="#888" stroke-width="0.4" />
<text x="111.80" y="367.80" font-size="4.2" text-anchor="middle" fill="#444" stroke="#444" stroke-width="0.05" font-weight="normal" font-style="normal" >10³</text>
<line x1="111.80" y1="361.00" x2="111.80" y2="361.90" stroke="#888" stroke-width="0.4" />
<line x1="84.60" y1="361.00" x2="84.60" y2="361.50" stroke="#bbb" stroke-width="0.3" />
<line x1="88.76" y1="361.00" x2="88.76" y2="361.50" stroke="#bbb" stroke-width="0.3" />
<line x1="92.93" y1="361.00" x2="92.93" y2="361.50" stroke="#bbb" stroke-width="0.3" />
<line x1="97.09" y1="361.00" x2="97.09" y2="361.50" stroke="#bbb" stroke-width="0.3" />
<line x1="101.25" y1="361.00" x2="101.25" y2="361.50" stroke="#bbb" stroke-width="0.3" />
<line x1="105.42" y1="361.00" x2="105.42" y2="361.50" stroke="#bbb" stroke-width="0.3" />
<line x1="109.58" y1="361.00" x2="109.58" y2="361.50" stroke="#bbb" stroke-width="0.3" />
<line x1="113.75" y1="361.00" x2="113.75" y2="361.50" stroke="#bbb" stroke-width="0.3" />
<line x1="117.91" y1="361.00" x2="117.91" y2="361.50" stroke="#bbb" stroke-width="0.3" />
<line x1="122.07" y1="361.00" x2="122.07" y2="361.50" stroke="#bbb" stroke-width="0.3" />
<line x1="126.24" y1="361.00" x2="126.24" y2="361.50" stroke="#bbb" stroke-width="0.3" />
<line x1="130.40" y1="361.00" x2="130.40" y2="361.50" stroke="#bbb" stroke-width="0.3" />
<rect x="98.80" y="361.20" width="2.0" height="1.2" fill="#222"/>
<text x="128.40" y="339.60" font-size="6.4" text-anchor="end" fill="#111" stroke="#111" stroke-width="0.16" font-weight="normal" font-style="normal" >29.4</text>
<text x="118.50" y="325.10" font-size="4.1" text-anchor="middle" fill="#4a4a4a" stroke="#4a4a4a" stroke-width="0.05" font-weight="normal" font-style="normal" >IGSF9</text>
<text x="118.50" y="329.90" font-size="4.1" text-anchor="middle" fill="#4a4a4a" stroke="#4a4a4a" stroke-width="0.05" font-weight="normal" font-style="normal" >29.4</text>
<ellipse cx="48.10" cy="409.80" rx="5.94" ry="5.0" fill="#f59a92" opacity="0.45" filter="url(#bl8)"/>
<ellipse cx="46.20" cy="410.00" rx="4.20" ry="4.9" fill="url(#rg)" opacity="0.75" filter="url(#bl4)"/>
<path d="M46.8,410.6h0.6v0.6h-0.6zM44.0,409.2h0.6v0.6h-0.6zM43.5,410.5h0.6v0.6h-0.6zM44.3,408.6h0.6v0.6h-0.6zM47.1,408.2h0.6v0.6h-0.6zM49.6,408.2h0.6v0.6h-0.6zM48.8,410.5h0.6v0.6h-0.6zM43.8,409.2h0.6v0.6h-0.6zM44.4,408.9h0.6v0.6h-0.6zM45.8,414.4h0.6v0.6h-0.6zM45.5,413.8h0.6v0.6h-0.6zM47.7,406.5h0.6v0.6h-0.6zM49.2,410.8h0.6v0.6h-0.6zM46.0,409.2h0.6v0.6h-0.6zM47.2,409.0h0.6v0.6h-0.6zM45.2,408.9h0.6v0.6h-0.6zM49.6,408.2h0.6v0.6h-0.6zM47.5,406.9h0.6v0.6h-0.6zM44.7,406.3h0.6v0.6h-0.6zM46.0,411.5h0.6v0.6h-0.6zM47.3,408.6h0.6v0.6h-0.6zM48.1,408.9h0.6v0.6h-0.6zM47.5,410.5h0.6v0.6h-0.6zM48.0,403.6h0.6v0.6h-0.6zM43.1,411.7h0.6v0.6h-0.6zM46.3,415.4h0.6v0.6h-0.6zM45.9,408.4h0.6v0.6h-0.6zM50.5,411.2h0.6v0.6h-0.6zM51.5,411.1h0.6v0.6h-0.6zM46.0,411.6h0.6v0.6h-0.6zM44.5,408.7h0.6v0.6h-0.6zM45.1,409.2h0.6v0.6h-0.6zM48.6,408.6h0.6v0.6h-0.6zM47.4,408.5h0.6v0.6h-0.6zM48.9,402.9h0.6v0.6h-0.6zM46.0,410.2h0.6v0.6h-0.6zM43.7,412.3h0.6v0.6h-0.6zM47.1,413.0h0.6v0.6h-0.6zM49.1,411.4h0.6v0.6h-0.6zM46.2,407.1h0.6v0.6h-0.6zM46.0,408.6h0.6v0.6h-0.6zM47.2,408.6h0.6v0.6h-0.6zM54.5,405.8h0.6v0.6h-0.6zM49.6,408.6h0.6v0.6h-0.6zM45.9,412.1h0.6v0.6h-0.6zM46.6,406.8h0.6v0.6h-0.6zM47.6,409.3h0.6v0.6h-0.6zM43.8,407.9h0.6v0.6h-0.6zM47.8,410.6h0.6v0.6h-0.6zM45.8,415.2h0.6v0.6h-0.6zM47.6,408.3h0.6v0.6h-0.6zM47.2,409.5h0.6v0.6h-0.6zM42.9,415.0h0.6v0.6h-0.6zM46.1,409.1h0.6v0.6h-0.6zM45.1,412.3h0.6v0.6h-0.6zM46.6,414.1h0.6v0.6h-0.6zM48.6,413.9h0.6v0.6h-0.6zM46.2,410.7h0.6v0.6h-0.6zM45.4,409.4h0.6v0.6h-0.6z" fill="#e8403a" opacity="0.5"/>
<ellipse cx="40.60" cy="410.30" rx="4.1" ry="6.9" fill="#7fd6e6" opacity="0.55" filter="url(#bl5)" transform="rotate(9 40.60 410.30)"/>
<ellipse cx="40.60" cy="410.30" rx="3.4" ry="6.0" fill="#20a6bf" filter="url(#bl3)" transform="rotate(9 40.60 410.30)"/>
<rect x="19.40" y="377.80" width="51.80" height="47.80" fill="none" stroke="#b5b5b5" stroke-width="0.6"/>
<line x1="19.40" y1="425.60" x2="71.20" y2="425.60" stroke="#999" stroke-width="0.6" />
<line x1="18.40" y1="387.36" x2="19.40" y2="387.36" stroke="#aaa" stroke-width="0.5" />
<line x1="18.40" y1="396.92" x2="19.40" y2="396.92" stroke="#aaa" stroke-width="0.5" />
<line x1="18.40" y1="406.48" x2="19.40" y2="406.48" stroke="#aaa" stroke-width="0.5" />
<line x1="18.40" y1="416.04" x2="19.40" y2="416.04" stroke="#aaa" stroke-width="0.5" />
<rect x="43.40" y="396.80" width="27.80" height="26.40" fill="none" stroke="#7a7a7a" stroke-width="0.7"/>
<text x="23.80" y="432.40" font-size="4.2" text-anchor="middle" fill="#444" stroke="#444" stroke-width="0.05" font-weight="normal" font-style="normal" >−10³</text>
<line x1="23.80" y1="425.60" x2="23.80" y2="426.50" stroke="#888" stroke-width="0.4" />
<text x="38.30" y="432.40" font-size="4.2" text-anchor="middle" fill="#444" stroke="#444" stroke-width="0.05" font-weight="normal" font-style="normal" >0</text>
<line x1="38.30" y1="425.60" x2="38.30" y2="426.50" stroke="#888" stroke-width="0.4" />
<text x="49.60" y="432.40" font-size="4.2" text-anchor="middle" fill="#444" stroke="#444" stroke-width="0.05" font-weight="normal" font-style="normal" >10³</text>
<line x1="49.60" y1="425.60" x2="49.60" y2="426.50" stroke="#888" stroke-width="0.4" />
<line x1="22.40" y1="425.60" x2="22.40" y2="426.10" stroke="#bbb" stroke-width="0.3" />
<line x1="26.56" y1="425.60" x2="26.56" y2="426.10" stroke="#bbb" stroke-width="0.3" />
<line x1="30.73" y1="425.60" x2="30.73" y2="426.10" stroke="#bbb" stroke-width="0.3" />
<line x1="34.89" y1="425.60" x2="34.89" y2="426.10" stroke="#bbb" stroke-width="0.3" />
<line x1="39.05" y1="425.60" x2="39.05" y2="426.10" stroke="#bbb" stroke-width="0.3" />
<line x1="43.22" y1="425.60" x2="43.22" y2="426.10" stroke="#bbb" stroke-width="0.3" />
<line x1="47.38" y1="425.60" x2="47.38" y2="426.10" stroke="#bbb" stroke-width="0.3" />
<line x1="51.55" y1="425.60" x2="51.55" y2="426.10" stroke="#bbb" stroke-width="0.3" />
<line x1="55.71" y1="425.60" x2="55.71" y2="426.10" stroke="#bbb" stroke-width="0.3" />
<line x1="59.87" y1="425.60" x2="59.87" y2="426.10" stroke="#bbb" stroke-width="0.3" />
<line x1="64.04" y1="425.60" x2="64.04" y2="426.10" stroke="#bbb" stroke-width="0.3" />
<line x1="68.20" y1="425.60" x2="68.20" y2="426.10" stroke="#bbb" stroke-width="0.3" />
<rect x="36.60" y="425.80" width="2.0" height="1.2" fill="#222"/>
<text x="66.20" y="404.20" font-size="6.4" text-anchor="end" fill="#111" stroke="#111" stroke-width="0.16" font-weight="normal" font-style="normal" >42.1</text>
<text x="56.30" y="389.70" font-size="4.1" text-anchor="middle" fill="#4a4a4a" stroke="#4a4a4a" stroke-width="0.05" font-weight="normal" font-style="normal" >IGSF9</text>
<text x="56.30" y="394.50" font-size="4.1" text-anchor="middle" fill="#4a4a4a" stroke="#4a4a4a" stroke-width="0.05" font-weight="normal" font-style="normal" >42.1</text>
<ellipse cx="111.00" cy="409.80" rx="7.58" ry="5.0" fill="#f59a92" opacity="0.45" filter="url(#bl8)"/>
<ellipse cx="108.60" cy="410.00" rx="5.40" ry="4.9" fill="url(#rg)" opacity="0.75" filter="url(#bl4)"/>
<path d="M105.9,408.2h0.6v0.6h-0.6zM113.1,410.5h0.6v0.6h-0.6zM113.1,412.0h0.6v0.6h-0.6zM112.1,412.3h0.6v0.6h-0.6zM107.0,411.8h0.6v0.6h-0.6zM108.0,408.5h0.6v0.6h-0.6zM113.0,415.2h0.6v0.6h-0.6zM105.8,414.2h0.6v0.6h-0.6zM111.8,407.7h0.6v0.6h-0.6zM110.0,410.7h0.6v0.6h-0.6zM110.3,408.9h0.6v0.6h-0.6zM104.8,409.9h0.6v0.6h-0.6zM111.9,411.8h0.6v0.6h-0.6zM111.2,412.6h0.6v0.6h-0.6zM105.8,409.7h0.6v0.6h-0.6zM110.2,412.3h0.6v0.6h-0.6zM109.6,411.1h0.6v0.6h-0.6zM109.5,415.1h0.6v0.6h-0.6zM117.3,410.4h0.6v0.6h-0.6zM109.8,414.1h0.6v0.6h-0.6zM110.6,411.5h0.6v0.6h-0.6zM112.4,410.3h0.6v0.6h-0.6zM106.2,409.6h0.6v0.6h-0.6zM110.2,409.1h0.6v0.6h-0.6zM106.8,408.9h0.6v0.6h-0.6zM108.7,408.9h0.6v0.6h-0.6zM109.2,413.3h0.6v0.6h-0.6zM110.0,409.7h0.6v0.6h-0.6zM105.2,407.1h0.6v0.6h-0.6zM110.3,407.6h0.6v0.6h-0.6zM110.5,407.1h0.6v0.6h-0.6zM109.5,409.6h0.6v0.6h-0.6zM112.4,408.8h0.6v0.6h-0.6zM107.8,410.4h0.6v0.6h-0.6zM109.2,414.0h0.6v0.6h-0.6zM108.2,408.5h0.6v0.6h-0.6zM108.0,411.0h0.6v0.6h-0.6zM109.8,411.5h0.6v0.6h-0.6zM115.2,409.7h0.6v0.6h-0.6zM105.0,410.2h0.6v0.6h-0.6zM110.4,404.2h0.6v0.6h-0.6zM109.1,406.1h0.6v0.6h-0.6zM110.6,413.3h0.6v0.6h-0.6zM112.5,406.0h0.6v0.6h-0.6zM113.6,412.1h0.6v0.6h-0.6zM107.9,411.1h0.6v0.6h-0.6zM114.1,409.0h0.6v0.6h-0.6zM109.0,408.4h0.6v0.6h-0.6zM112.9,404.4h0.6v0.6h-0.6zM113.8,407.4h0.6v0.6h-0.6zM112.1,405.7h0.6v0.6h-0.6zM105.9,408.3h0.6v0.6h-0.6zM111.8,405.7h0.6v0.6h-0.6zM111.1,408.2h0.6v0.6h-0.6zM113.2,409.0h0.6v0.6h-0.6zM110.7,409.4h0.6v0.6h-0.6zM115.0,408.9h0.6v0.6h-0.6zM109.0,414.8h0.6v0.6h-0.6zM109.3,411.5h0.6v0.6h-0.6zM106.6,410.3h0.6v0.6h-0.6zM106.9,406.0h0.6v0.6h-0.6zM110.5,406.0h0.6v0.6h-0.6zM115.1,408.1h0.6v0.6h-0.6zM107.8,410.4h0.6v0.6h-0.6zM105.3,405.8h0.6v0.6h-0.6zM106.6,412.8h0.6v0.6h-0.6zM112.2,405.8h0.6v0.6h-0.6zM113.0,409.9h0.6v0.6h-0.6zM110.7,409.9h0.6v0.6h-0.6zM110.4,407.3h0.6v0.6h-0.6zM106.0,408.0h0.6v0.6h-0.6zM107.8,411.3h0.6v0.6h-0.6zM105.0,413.8h0.6v0.6h-0.6z" fill="#e8403a" opacity="0.5"/>
<ellipse cx="102.20" cy="410.30" rx="4.1" ry="6.9" fill="#7fd6e6" opacity="0.55" filter="url(#bl5)" transform="rotate(9 102.20 410.30)"/>
<ellipse cx="102.20" cy="410.30" rx="3.4" ry="6.0" fill="#20a6bf" filter="url(#bl3)" transform="rotate(9 102.20 410.30)"/>
<rect x="81.60" y="377.80" width="51.80" height="47.80" fill="none" stroke="#b5b5b5" stroke-width="0.6"/>
<line x1="81.60" y1="425.60" x2="133.40" y2="425.60" stroke="#999" stroke-width="0.6" />
<line x1="80.60" y1="387.36" x2="81.60" y2="387.36" stroke="#aaa" stroke-width="0.5" />
<line x1="80.60" y1="396.92" x2="81.60" y2="396.92" stroke="#aaa" stroke-width="0.5" />
<line x1="80.60" y1="406.48" x2="81.60" y2="406.48" stroke="#aaa" stroke-width="0.5" />
<line x1="80.60" y1="416.04" x2="81.60" y2="416.04" stroke="#aaa" stroke-width="0.5" />
<rect x="105.00" y="396.80" width="28.40" height="26.40" fill="none" stroke="#7a7a7a" stroke-width="0.7"/>
<text x="86.00" y="432.40" font-size="4.2" text-anchor="middle" fill="#444" stroke="#444" stroke-width="0.05" font-weight="normal" font-style="normal" >−10³</text>
<line x1="86.00" y1="425.60" x2="86.00" y2="426.50" stroke="#888" stroke-width="0.4" />
<text x="100.50" y="432.40" font-size="4.2" text-anchor="middle" fill="#444" stroke="#444" stroke-width="0.05" font-weight="normal" font-style="normal" >0</text>
<line x1="100.50" y1="425.60" x2="100.50" y2="426.50" stroke="#888" stroke-width="0.4" />
<text x="111.80" y="432.40" font-size="4.2" text-anchor="middle" fill="#444" stroke="#444" stroke-width="0.05" font-weight="normal" font-style="normal" >10³</text>
<line x1="111.80" y1="425.60" x2="111.80" y2="426.50" stroke="#888" stroke-width="0.4" />
<line x1="84.60" y1="425.60" x2="84.60" y2="426.10" stroke="#bbb" stroke-width="0.3" />
<line x1="88.76" y1="425.60" x2="88.76" y2="426.10" stroke="#bbb" stroke-width="0.3" />
<line x1="92.93" y1="425.60" x2="92.93" y2="426.10" stroke="#bbb" stroke-width="0.3" />
<line x1="97.09" y1="425.60" x2="97.09" y2="426.10" stroke="#bbb" stroke-width="0.3" />
<line x1="101.25" y1="425.60" x2="101.25" y2="426.10" stroke="#bbb" stroke-width="0.3" />
<line x1="105.42" y1="425.60" x2="105.42" y2="426.10" stroke="#bbb" stroke-width="0.3" />
<line x1="109.58" y1="425.60" x2="109.58" y2="426.10" stroke="#bbb" stroke-width="0.3" />
<line x1="113.75" y1="425.60" x2="113.75" y2="426.10" stroke="#bbb" stroke-width="0.3" />
<line x1="117.91" y1="425.60" x2="117.91" y2="426.10" stroke="#bbb" stroke-width="0.3" />
<line x1="122.07" y1="425.60" x2="122.07" y2="426.10" stroke="#bbb" stroke-width="0.3" />
<line x1="126.24" y1="425.60" x2="126.24" y2="426.10" stroke="#bbb" stroke-width="0.3" />
<line x1="130.40" y1="425.60" x2="130.40" y2="426.10" stroke="#bbb" stroke-width="0.3" />
<rect x="98.80" y="425.80" width="2.0" height="1.2" fill="#222"/>
<text x="128.40" y="404.20" font-size="6.4" text-anchor="end" fill="#111" stroke="#111" stroke-width="0.16" font-weight="normal" font-style="normal" >52.9</text>
<text x="118.50" y="389.70" font-size="4.1" text-anchor="middle" fill="#4a4a4a" stroke="#4a4a4a" stroke-width="0.05" font-weight="normal" font-style="normal" >IGSF9</text>
<text x="118.50" y="394.50" font-size="4.1" text-anchor="middle" fill="#4a4a4a" stroke="#4a4a4a" stroke-width="0.05" font-weight="normal" font-style="normal" >52.9</text>
<line x1="38.10" y1="439.40" x2="45.50" y2="439.40" stroke="#80c6dc" stroke-width="0.9" />
<text x="48.80" y="441.50" font-size="6.0" text-anchor="start" fill="#222" stroke="#222" stroke-width="0.16" font-weight="normal" font-style="normal" >Isotype</text>
<line x1="71.00" y1="439.40" x2="78.40" y2="439.40" stroke="#cc4a62" stroke-width="0.9" />
<text x="81.70" y="441.50" font-size="6.0" text-anchor="start" fill="#222" stroke="#222" stroke-width="0.16" font-weight="normal" font-style="normal" textLength="33" lengthAdjust="spacingAndGlyphs">IGSF9-APC</text>
<line x1="176.20" y1="330.50" x2="176.20" y2="424.80" stroke="#333" stroke-width="1.4" />
<line x1="175.50" y1="424.20" x2="241.70" y2="424.20" stroke="#333" stroke-width="1.3" />
<line x1="173.20" y1="424.20" x2="176.20" y2="424.20" stroke="#333" stroke-width="1.1" />
<text x="170.20" y="426.50" font-size="6.4" text-anchor="end" fill="#222" stroke="#222" stroke-width="0.16" font-weight="normal" font-style="normal" >0</text>
<line x1="173.20" y1="393.83" x2="176.20" y2="393.83" stroke="#333" stroke-width="1.1" />
<text x="170.20" y="396.13" font-size="6.4" text-anchor="end" fill="#222" stroke="#222" stroke-width="0.16" font-weight="normal" font-style="normal" >20</text>
<line x1="173.20" y1="363.47" x2="176.20" y2="363.47" stroke="#333" stroke-width="1.1" />
<text x="170.20" y="365.77" font-size="6.4" text-anchor="end" fill="#222" stroke="#222" stroke-width="0.16" font-weight="normal" font-style="normal" >40</text>
<line x1="173.20" y1="333.10" x2="176.20" y2="333.10" stroke="#333" stroke-width="1.1" />
<text x="170.20" y="335.40" font-size="6.4" text-anchor="end" fill="#222" stroke="#222" stroke-width="0.16" font-weight="normal" font-style="normal" >60</text>
<rect x="181.60" y="380.93" width="8.00" height="43.27" fill="#8e9abf"/>
<line x1="185.60" y1="424.20" x2="185.60" y2="426.80" stroke="#333" stroke-width="0.9" />
<text x="185.60" y="435.40" font-size="6.5" text-anchor="middle" fill="#222" stroke="#222" stroke-width="0.16" font-weight="normal" font-style="normal" >0</text>
<line x1="185.60" y1="377.36" x2="185.60" y2="380.93" stroke="#1d3660" stroke-width="0.7" />
<line x1="183.60" y1="377.36" x2="187.60" y2="377.36" stroke="#1d3660" stroke-width="0.7" />
<circle cx="185.60" cy="375.01" r="1.45" fill="#1d3660"/>
<circle cx="185.60" cy="379.11" r="1.45" fill="#1d3660"/>
<circle cx="185.60" cy="382.14" r="1.45" fill="#1d3660"/>
<rect x="196.70" y="386.24" width="8.00" height="37.96" fill="#8e9abf"/>
<line x1="200.70" y1="424.20" x2="200.70" y2="426.80" stroke="#333" stroke-width="0.9" />
<text x="200.70" y="435.40" font-size="6.5" text-anchor="middle" fill="#222" stroke="#222" stroke-width="0.16" font-weight="normal" font-style="normal" >0.5</text>
<line x1="200.70" y1="382.98" x2="200.70" y2="386.24" stroke="#1d3660" stroke-width="0.7" />
<line x1="198.70" y1="382.98" x2="202.70" y2="382.98" stroke="#1d3660" stroke-width="0.7" />
<circle cx="200.70" cy="380.93" r="1.45" fill="#1d3660"/>
<circle cx="200.70" cy="383.96" r="1.45" fill="#1d3660"/>
<circle cx="200.70" cy="387.46" r="1.45" fill="#1d3660"/>
<rect x="211.80" y="364.83" width="8.00" height="59.37" fill="#8e9abf"/>
<line x1="215.80" y1="424.20" x2="215.80" y2="426.80" stroke="#333" stroke-width="0.9" />
<text x="215.80" y="435.40" font-size="6.5" text-anchor="middle" fill="#222" stroke="#222" stroke-width="0.16" font-weight="normal" font-style="normal" >20</text>
<line x1="215.80" y1="362.40" x2="215.80" y2="364.83" stroke="#1d3660" stroke-width="0.7" />
<line x1="213.80" y1="362.40" x2="217.80" y2="362.40" stroke="#1d3660" stroke-width="0.7" />
<circle cx="213.50" cy="361.80" r="1.45" fill="#1d3660"/>
<circle cx="219.30" cy="363.31" r="1.45" fill="#1d3660"/>
<circle cx="216.00" cy="366.66" r="1.45" fill="#1d3660"/>
<rect x="226.80" y="346.92" width="8.00" height="77.28" fill="#8e9abf"/>
<line x1="230.80" y1="424.20" x2="230.80" y2="426.80" stroke="#333" stroke-width="0.9" />
<text x="230.80" y="435.40" font-size="6.5" text-anchor="middle" fill="#222" stroke="#222" stroke-width="0.16" font-weight="normal" font-style="normal" >100</text>
<line x1="230.80" y1="346.01" x2="230.80" y2="346.92" stroke="#1d3660" stroke-width="0.7" />
<line x1="228.80" y1="346.01" x2="232.80" y2="346.01" stroke="#1d3660" stroke-width="0.7" />
<circle cx="226.80" cy="346.92" r="1.45" fill="#1d3660"/>
<circle cx="230.50" cy="345.55" r="1.45" fill="#1d3660"/>
<circle cx="234.00" cy="345.09" r="1.45" fill="#1d3660"/>
<line x1="185.60" y1="351.50" x2="200.70" y2="351.50" stroke="#333" stroke-width="1.2" />
<text x="194.20" y="347.70" font-size="6.4" text-anchor="middle" fill="#222" stroke="#222" stroke-width="0.16" font-weight="normal" font-style="normal" ><tspan font-style="italic">P</tspan> = .2177</text>
<line x1="185.60" y1="331.50" x2="215.80" y2="331.50" stroke="#333" stroke-width="1.2" />
<text x="200.60" y="327.70" font-size="6.4" text-anchor="middle" fill="#222" stroke="#222" stroke-width="0.16" font-weight="normal" font-style="normal" ><tspan font-style="italic">P</tspan> = .0068</text>
<line x1="185.60" y1="314.50" x2="230.80" y2="314.50" stroke="#333" stroke-width="1.2" />
<text x="207.80" y="310.70" font-size="6.4" text-anchor="middle" fill="#222" stroke="#222" stroke-width="0.16" font-weight="normal" font-style="normal" ><tspan font-style="italic">P</tspan> = .0003</text>
<text transform="translate(156.90,377.50) rotate(-90)" font-size="6.4" font-weight="bold" text-anchor="middle" fill="#2a2a2a" textLength="43" lengthAdjust="spacingAndGlyphs">IGSF9<tspan font-size="4" dy="-2">+</tspan><tspan dy="2"> cells (%)</tspan></text>
<text x="156.20" y="435.40" font-size="6.3" text-anchor="start" fill="#222" stroke="#222" stroke-width="0.16" font-weight="normal" font-style="normal" >IFN-γ</text>
<text x="256.00" y="300.60" font-size="10.5" text-anchor="start" fill="#111" stroke="#111" stroke-width="0.16" font-weight="bold" font-style="normal" >D</text>
<text x="324.80" y="301.10" font-size="6.0" text-anchor="middle" fill="#1a1a1a" stroke="#1a1a1a" stroke-width="0.16" font-weight="normal" font-style="normal" textLength="52.5" lengthAdjust="spacingAndGlyphs">THP-1+IFN-γ(ng/ml)</text>
<line x1="294.20" y1="304.30" x2="356.00" y2="304.30" stroke="#333" stroke-width="0.8" />
<text x="294.50" y="311.10" font-size="6.1" text-anchor="middle" fill="#1a1a1a" stroke="#1a1a1a" stroke-width="0.16" font-weight="normal" font-style="normal" >0</text>
<text x="356.60" y="311.10" font-size="6.1" text-anchor="middle" fill="#1a1a1a" stroke="#1a1a1a" stroke-width="0.16" font-weight="normal" font-style="normal" >0.5</text>
<text x="294.60" y="375.80" font-size="6.1" text-anchor="middle" fill="#1a1a1a" stroke="#1a1a1a" stroke-width="0.16" font-weight="normal" font-style="normal" >20</text>
<text x="356.50" y="375.80" font-size="6.1" text-anchor="middle" fill="#1a1a1a" stroke="#1a1a1a" stroke-width="0.16" font-weight="normal" font-style="normal" >100</text>
<ellipse cx="290.60" cy="346.20" rx="4.1" ry="6.9" fill="#7fd6e6" opacity="0.55" filter="url(#bl5)" transform="rotate(9 290.60 346.20)"/>
<ellipse cx="290.60" cy="346.20" rx="3.4" ry="6.0" fill="#20a6bf" filter="url(#bl3)" transform="rotate(9 290.60 346.20)"/>
<rect x="269.40" y="313.20" width="51.80" height="47.80" fill="none" stroke="#b5b5b5" stroke-width="0.6"/>
<line x1="269.40" y1="361.00" x2="321.20" y2="361.00" stroke="#999" stroke-width="0.6" />
<line x1="268.40" y1="322.76" x2="269.40" y2="322.76" stroke="#aaa" stroke-width="0.5" />
<line x1="268.40" y1="332.32" x2="269.40" y2="332.32" stroke="#aaa" stroke-width="0.5" />
<line x1="268.40" y1="341.88" x2="269.40" y2="341.88" stroke="#aaa" stroke-width="0.5" />
<line x1="268.40" y1="351.44" x2="269.40" y2="351.44" stroke="#aaa" stroke-width="0.5" />
<rect x="293.40" y="332.20" width="27.80" height="26.40" fill="none" stroke="#7a7a7a" stroke-width="0.7"/>
<text x="273.80" y="367.80" font-size="4.2" text-anchor="middle" fill="#444" stroke="#444" stroke-width="0.05" font-weight="normal" font-style="normal" >−10³</text>
<line x1="273.80" y1="361.00" x2="273.80" y2="361.90" stroke="#888" stroke-width="0.4" />
<text x="288.30" y="367.80" font-size="4.2" text-anchor="middle" fill="#444" stroke="#444" stroke-width="0.05" font-weight="normal" font-style="normal" >0</text>
<line x1="288.30" y1="361.00" x2="288.30" y2="361.90" stroke="#888" stroke-width="0.4" />
<text x="299.60" y="367.80" font-size="4.2" text-anchor="middle" fill="#444" stroke="#444" stroke-width="0.05" font-weight="normal" font-style="normal" >10³</text>
<line x1="299.60" y1="361.00" x2="299.60" y2="361.90" stroke="#888" stroke-width="0.4" />
<line x1="272.40" y1="361.00" x2="272.40" y2="361.50" stroke="#bbb" stroke-width="0.3" />
<line x1="276.56" y1="361.00" x2="276.56" y2="361.50" stroke="#bbb" stroke-width="0.3" />
<line x1="280.73" y1="361.00" x2="280.73" y2="361.50" stroke="#bbb" stroke-width="0.3" />
<line x1="284.89" y1="361.00" x2="284.89" y2="361.50" stroke="#bbb" stroke-width="0.3" />
<line x1="289.05" y1="361.00" x2="289.05" y2="361.50" stroke="#bbb" stroke-width="0.3" />
<line x1="293.22" y1="361.00" x2="293.22" y2="361.50" stroke="#bbb" stroke-width="0.3" />
<line x1="297.38" y1="361.00" x2="297.38" y2="361.50" stroke="#bbb" stroke-width="0.3" />
<line x1="301.55" y1="361.00" x2="301.55" y2="361.50" stroke="#bbb" stroke-width="0.3" />
<line x1="305.71" y1="361.00" x2="305.71" y2="361.50" stroke="#bbb" stroke-width="0.3" />
<line x1="309.87" y1="361.00" x2="309.87" y2="361.50" stroke="#bbb" stroke-width="0.3" />
<line x1="314.04" y1="361.00" x2="314.04" y2="361.50" stroke="#bbb" stroke-width="0.3" />
<line x1="318.20" y1="361.00" x2="318.20" y2="361.50" stroke="#bbb" stroke-width="0.3" />
<rect x="286.60" y="361.20" width="2.0" height="1.2" fill="#222"/>
<text x="316.20" y="339.60" font-size="6.4" text-anchor="end" fill="#111" stroke="#111" stroke-width="0.16" font-weight="normal" font-style="normal" >2.94</text>
<text x="306.30" y="325.10" font-size="4.1" text-anchor="middle" fill="#4a4a4a" stroke="#4a4a4a" stroke-width="0.05" font-weight="normal" font-style="normal" >PD-L1</text>
<text x="306.30" y="329.90" font-size="4.1" text-anchor="middle" fill="#4a4a4a" stroke="#4a4a4a" stroke-width="0.05" font-weight="normal" font-style="normal" >2.94</text>
<ellipse cx="351.80" cy="346.20" rx="4.1" ry="6.9" fill="#7fd6e6" opacity="0.55" filter="url(#bl5)" transform="rotate(9 351.80 346.20)"/>
<ellipse cx="351.80" cy="346.20" rx="3.4" ry="6.0" fill="#20a6bf" filter="url(#bl3)" transform="rotate(9 351.80 346.20)"/>
<rect x="331.60" y="313.20" width="51.80" height="47.80" fill="none" stroke="#b5b5b5" stroke-width="0.6"/>
<line x1="331.60" y1="361.00" x2="383.40" y2="361.00" stroke="#999" stroke-width="0.6" />
<line x1="330.60" y1="322.76" x2="331.60" y2="322.76" stroke="#aaa" stroke-width="0.5" />
<line x1="330.60" y1="332.32" x2="331.60" y2="332.32" stroke="#aaa" stroke-width="0.5" />
<line x1="330.60" y1="341.88" x2="331.60" y2="341.88" stroke="#aaa" stroke-width="0.5" />
<line x1="330.60" y1="351.44" x2="331.60" y2="351.44" stroke="#aaa" stroke-width="0.5" />
<rect x="354.60" y="332.20" width="28.80" height="26.40" fill="none" stroke="#7a7a7a" stroke-width="0.7"/>
<text x="336.00" y="367.80" font-size="4.2" text-anchor="middle" fill="#444" stroke="#444" stroke-width="0.05" font-weight="normal" font-style="normal" >−10³</text>
<line x1="336.00" y1="361.00" x2="336.00" y2="361.90" stroke="#888" stroke-width="0.4" />
<text x="350.50" y="367.80" font-size="4.2" text-anchor="middle" fill="#444" stroke="#444" stroke-width="0.05" font-weight="normal" font-style="normal" >0</text>
<line x1="350.50" y1="361.00" x2="350.50" y2="361.90" stroke="#888" stroke-width="0.4" />
<text x="361.80" y="367.80" font-size="4.2" text-anchor="middle" fill="#444" stroke="#444" stroke-width="0.05" font-weight="normal" font-style="normal" >10³</text>
<line x1="361.80" y1="361.00" x2="361.80" y2="361.90" stroke="#888" stroke-width="0.4" />
<line x1="334.60" y1="361.00" x2="334.60" y2="361.50" stroke="#bbb" stroke-width="0.3" />
<line x1="338.76" y1="361.00" x2="338.76" y2="361.50" stroke="#bbb" stroke-width="0.3" />
<line x1="342.93" y1="361.00" x2="342.93" y2="361.50" stroke="#bbb" stroke-width="0.3" />
<line x1="347.09" y1="361.00" x2="347.09" y2="361.50" stroke="#bbb" stroke-width="0.3" />
<line x1="351.25" y1="361.00" x2="351.25" y2="361.50" stroke="#bbb" stroke-width="0.3" />
<line x1="355.42" y1="361.00" x2="355.42" y2="361.50" stroke="#bbb" stroke-width="0.3" />
<line x1="359.58" y1="361.00" x2="359.58" y2="361.50" stroke="#bbb" stroke-width="0.3" />
<line x1="363.75" y1="361.00" x2="363.75" y2="361.50" stroke="#bbb" stroke-width="0.3" />
<line x1="367.91" y1="361.00" x2="367.91" y2="361.50" stroke="#bbb" stroke-width="0.3" />
<line x1="372.07" y1="361.00" x2="372.07" y2="361.50" stroke="#bbb" stroke-width="0.3" />
<line x1="376.24" y1="361.00" x2="376.24" y2="361.50" stroke="#bbb" stroke-width="0.3" />
<line x1="380.40" y1="361.00" x2="380.40" y2="361.50" stroke="#bbb" stroke-width="0.3" />
<rect x="348.80" y="361.20" width="2.0" height="1.2" fill="#222"/>
<text x="378.40" y="339.60" font-size="6.4" text-anchor="end" fill="#111" stroke="#111" stroke-width="0.16" font-weight="normal" font-style="normal" >3.05</text>
<text x="368.50" y="325.10" font-size="4.1" text-anchor="middle" fill="#4a4a4a" stroke="#4a4a4a" stroke-width="0.05" font-weight="normal" font-style="normal" >PD-L1</text>
<text x="368.50" y="329.90" font-size="4.1" text-anchor="middle" fill="#4a4a4a" stroke="#4a4a4a" stroke-width="0.05" font-weight="normal" font-style="normal" >3.05</text>
<ellipse cx="295.65" cy="409.80" rx="2.79" ry="5.0" fill="#f59a92" opacity="0.45" filter="url(#bl8)"/>
<ellipse cx="295.20" cy="410.00" rx="2.70" ry="4.9" fill="url(#rg)" opacity="0.50" filter="url(#bl4)"/>
<path d="M294.6,408.3h0.6v0.6h-0.6zM296.3,410.9h0.6v0.6h-0.6zM295.0,407.1h0.6v0.6h-0.6zM294.1,405.8h0.6v0.6h-0.6zM296.9,412.5h0.6v0.6h-0.6zM297.9,411.0h0.6v0.6h-0.6zM295.9,411.7h0.6v0.6h-0.6zM296.7,409.2h0.6v0.6h-0.6zM295.9,415.2h0.6v0.6h-0.6zM293.2,406.3h0.6v0.6h-0.6zM294.2,411.7h0.6v0.6h-0.6zM297.0,409.0h0.6v0.6h-0.6zM296.3,409.7h0.6v0.6h-0.6zM295.8,408.4h0.6v0.6h-0.6zM295.4,409.8h0.6v0.6h-0.6zM296.9,415.4h0.6v0.6h-0.6zM293.1,411.1h0.6v0.6h-0.6zM295.4,412.2h0.6v0.6h-0.6zM296.8,411.8h0.6v0.6h-0.6zM296.5,407.4h0.6v0.6h-0.6zM293.2,414.0h0.6v0.6h-0.6zM297.0,407.4h0.6v0.6h-0.6zM297.1,411.5h0.6v0.6h-0.6zM294.1,412.7h0.6v0.6h-0.6zM294.5,407.9h0.6v0.6h-0.6zM293.4,409.3h0.6v0.6h-0.6z" fill="#e8403a" opacity="0.5"/>
<ellipse cx="290.60" cy="410.30" rx="4.1" ry="6.9" fill="#7fd6e6" opacity="0.55" filter="url(#bl5)" transform="rotate(9 290.60 410.30)"/>
<ellipse cx="290.60" cy="410.30" rx="3.4" ry="6.0" fill="#20a6bf" filter="url(#bl3)" transform="rotate(9 290.60 410.30)"/>
<rect x="269.40" y="377.80" width="51.80" height="47.80" fill="none" stroke="#b5b5b5" stroke-width="0.6"/>
<line x1="269.40" y1="425.60" x2="321.20" y2="425.60" stroke="#999" stroke-width="0.6" />
<line x1="268.40" y1="387.36" x2="269.40" y2="387.36" stroke="#aaa" stroke-width="0.5" />
<line x1="268.40" y1="396.92" x2="269.40" y2="396.92" stroke="#aaa" stroke-width="0.5" />
<line x1="268.40" y1="406.48" x2="269.40" y2="406.48" stroke="#aaa" stroke-width="0.5" />
<line x1="268.40" y1="416.04" x2="269.40" y2="416.04" stroke="#aaa" stroke-width="0.5" />
<rect x="293.40" y="396.80" width="27.80" height="26.40" fill="none" stroke="#7a7a7a" stroke-width="0.7"/>
<text x="273.80" y="432.40" font-size="4.2" text-anchor="middle" fill="#444" stroke="#444" stroke-width="0.05" font-weight="normal" font-style="normal" >−10³</text>
<line x1="273.80" y1="425.60" x2="273.80" y2="426.50" stroke="#888" stroke-width="0.4" />
<text x="288.30" y="432.40" font-size="4.2" text-anchor="middle" fill="#444" stroke="#444" stroke-width="0.05" font-weight="normal" font-style="normal" >0</text>
<line x1="288.30" y1="425.60" x2="288.30" y2="426.50" stroke="#888" stroke-width="0.4" />
<text x="299.60" y="432.40" font-size="4.2" text-anchor="middle" fill="#444" stroke="#444" stroke-width="0.05" font-weight="normal" font-style="normal" >10³</text>
<line x1="299.60" y1="425.60" x2="299.60" y2="426.50" stroke="#888" stroke-width="0.4" />
<line x1="272.40" y1="425.60" x2="272.40" y2="426.10" stroke="#bbb" stroke-width="0.3" />
<line x1="276.56" y1="425.60" x2="276.56" y2="426.10" stroke="#bbb" stroke-width="0.3" />
<line x1="280.73" y1="425.60" x2="280.73" y2="426.10" stroke="#bbb" stroke-width="0.3" />
<line x1="284.89" y1="425.60" x2="284.89" y2="426.10" stroke="#bbb" stroke-width="0.3" />
<line x1="289.05" y1="425.60" x2="289.05" y2="426.10" stroke="#bbb" stroke-width="0.3" />
<line x1="293.22" y1="425.60" x2="293.22" y2="426.10" stroke="#bbb" stroke-width="0.3" />
<line x1="297.38" y1="425.60" x2="297.38" y2="426.10" stroke="#bbb" stroke-width="0.3" />
<line x1="301.55" y1="425.60" x2="301.55" y2="426.10" stroke="#bbb" stroke-width="0.3" />
<line x1="305.71" y1="425.60" x2="305.71" y2="426.10" stroke="#bbb" stroke-width="0.3" />
<line x1="309.87" y1="425.60" x2="309.87" y2="426.10" stroke="#bbb" stroke-width="0.3" />
<line x1="314.04" y1="425.60" x2="314.04" y2="426.10" stroke="#bbb" stroke-width="0.3" />
<line x1="318.20" y1="425.60" x2="318.20" y2="426.10" stroke="#bbb" stroke-width="0.3" />
<rect x="286.60" y="425.80" width="2.0" height="1.2" fill="#222"/>
<text x="316.20" y="404.20" font-size="6.4" text-anchor="end" fill="#111" stroke="#111" stroke-width="0.16" font-weight="normal" font-style="normal" >16.8</text>
<text x="306.30" y="389.70" font-size="4.1" text-anchor="middle" fill="#4a4a4a" stroke="#4a4a4a" stroke-width="0.05" font-weight="normal" font-style="normal" >PD-L1</text>
<text x="306.30" y="394.50" font-size="4.1" text-anchor="middle" fill="#4a4a4a" stroke="#4a4a4a" stroke-width="0.05" font-weight="normal" font-style="normal" >16.8</text>
<ellipse cx="362.40" cy="409.80" rx="9.40" ry="5.0" fill="#f59a92" opacity="0.45" filter="url(#bl8)"/>
<ellipse cx="359.00" cy="410.00" rx="6.00" ry="4.9" fill="url(#rg)" opacity="0.80" filter="url(#bl4)"/>
<path d="M363.6,408.1h0.6v0.6h-0.6zM367.0,411.5h0.6v0.6h-0.6zM357.3,406.8h0.6v0.6h-0.6zM364.8,407.1h0.6v0.6h-0.6zM359.5,409.1h0.6v0.6h-0.6zM358.5,411.1h0.6v0.6h-0.6zM368.0,408.2h0.6v0.6h-0.6zM362.9,412.5h0.6v0.6h-0.6zM358.3,409.4h0.6v0.6h-0.6zM357.4,408.2h0.6v0.6h-0.6zM359.8,407.6h0.6v0.6h-0.6zM355.3,409.1h0.6v0.6h-0.6zM365.5,409.3h0.6v0.6h-0.6zM361.6,406.1h0.6v0.6h-0.6zM357.9,405.9h0.6v0.6h-0.6zM359.1,411.3h0.6v0.6h-0.6zM360.6,407.5h0.6v0.6h-0.6zM362.7,412.2h0.6v0.6h-0.6zM361.3,408.7h0.6v0.6h-0.6zM359.3,408.2h0.6v0.6h-0.6zM359.0,410.6h0.6v0.6h-0.6zM358.3,412.2h0.6v0.6h-0.6zM370.0,408.4h0.6v0.6h-0.6zM360.9,411.9h0.6v0.6h-0.6zM362.1,409.2h0.6v0.6h-0.6zM357.6,412.3h0.6v0.6h-0.6zM362.0,411.1h0.6v0.6h-0.6zM356.2,411.4h0.6v0.6h-0.6zM362.7,409.3h0.6v0.6h-0.6zM362.1,415.3h0.6v0.6h-0.6zM354.7,406.4h0.6v0.6h-0.6zM358.5,411.2h0.6v0.6h-0.6zM359.7,406.9h0.6v0.6h-0.6zM359.6,407.7h0.6v0.6h-0.6zM356.1,409.4h0.6v0.6h-0.6zM357.3,408.3h0.6v0.6h-0.6zM359.7,409.1h0.6v0.6h-0.6zM362.0,406.8h0.6v0.6h-0.6zM359.2,411.7h0.6v0.6h-0.6zM364.3,411.2h0.6v0.6h-0.6zM359.6,405.9h0.6v0.6h-0.6zM362.3,411.2h0.6v0.6h-0.6zM355.2,406.8h0.6v0.6h-0.6zM360.1,407.2h0.6v0.6h-0.6zM365.9,408.2h0.6v0.6h-0.6zM357.2,412.0h0.6v0.6h-0.6zM360.8,407.5h0.6v0.6h-0.6zM362.8,414.6h0.6v0.6h-0.6zM354.5,409.2h0.6v0.6h-0.6zM355.1,404.9h0.6v0.6h-0.6zM362.1,411.6h0.6v0.6h-0.6zM363.5,410.9h0.6v0.6h-0.6zM356.8,406.8h0.6v0.6h-0.6zM355.0,411.7h0.6v0.6h-0.6zM358.3,414.8h0.6v0.6h-0.6zM361.4,405.0h0.6v0.6h-0.6zM363.1,413.0h0.6v0.6h-0.6zM359.6,406.7h0.6v0.6h-0.6zM366.7,406.5h0.6v0.6h-0.6zM359.2,405.0h0.6v0.6h-0.6zM363.9,412.8h0.6v0.6h-0.6zM357.8,406.4h0.6v0.6h-0.6zM359.3,410.8h0.6v0.6h-0.6zM359.1,411.6h0.6v0.6h-0.6zM359.8,410.9h0.6v0.6h-0.6zM360.8,407.5h0.6v0.6h-0.6zM359.0,408.8h0.6v0.6h-0.6zM361.5,407.8h0.6v0.6h-0.6zM365.4,409.9h0.6v0.6h-0.6zM361.7,411.4h0.6v0.6h-0.6zM363.8,410.8h0.6v0.6h-0.6zM367.1,411.0h0.6v0.6h-0.6zM361.8,411.0h0.6v0.6h-0.6zM356.9,408.1h0.6v0.6h-0.6zM356.8,412.7h0.6v0.6h-0.6zM361.0,414.3h0.6v0.6h-0.6zM361.5,414.6h0.6v0.6h-0.6zM361.4,406.8h0.6v0.6h-0.6zM366.7,410.7h0.6v0.6h-0.6zM364.4,410.3h0.6v0.6h-0.6z" fill="#e8403a" opacity="0.5"/>
<ellipse cx="352.20" cy="410.30" rx="4.1" ry="6.9" fill="#7fd6e6" opacity="0.55" filter="url(#bl5)" transform="rotate(9 352.20 410.30)"/>
<ellipse cx="352.20" cy="410.30" rx="3.4" ry="6.0" fill="#20a6bf" filter="url(#bl3)" transform="rotate(9 352.20 410.30)"/>
<rect x="331.60" y="377.80" width="51.80" height="47.80" fill="none" stroke="#b5b5b5" stroke-width="0.6"/>
<line x1="331.60" y1="425.60" x2="383.40" y2="425.60" stroke="#999" stroke-width="0.6" />
<line x1="330.60" y1="387.36" x2="331.60" y2="387.36" stroke="#aaa" stroke-width="0.5" />
<line x1="330.60" y1="396.92" x2="331.60" y2="396.92" stroke="#aaa" stroke-width="0.5" />
<line x1="330.60" y1="406.48" x2="331.60" y2="406.48" stroke="#aaa" stroke-width="0.5" />
<line x1="330.60" y1="416.04" x2="331.60" y2="416.04" stroke="#aaa" stroke-width="0.5" />
<rect x="355.00" y="396.80" width="28.40" height="26.40" fill="none" stroke="#7a7a7a" stroke-width="0.7"/>
<text x="336.00" y="432.40" font-size="4.2" text-anchor="middle" fill="#444" stroke="#444" stroke-width="0.05" font-weight="normal" font-style="normal" >−10³</text>
<line x1="336.00" y1="425.60" x2="336.00" y2="426.50" stroke="#888" stroke-width="0.4" />
<text x="350.50" y="432.40" font-size="4.2" text-anchor="middle" fill="#444" stroke="#444" stroke-width="0.05" font-weight="normal" font-style="normal" >0</text>
<line x1="350.50" y1="425.60" x2="350.50" y2="426.50" stroke="#888" stroke-width="0.4" />
<text x="361.80" y="432.40" font-size="4.2" text-anchor="middle" fill="#444" stroke="#444" stroke-width="0.05" font-weight="normal" font-style="normal" >10³</text>
<line x1="361.80" y1="425.60" x2="361.80" y2="426.50" stroke="#888" stroke-width="0.4" />
<line x1="334.60" y1="425.60" x2="334.60" y2="426.10" stroke="#bbb" stroke-width="0.3" />
<line x1="338.76" y1="425.60" x2="338.76" y2="426.10" stroke="#bbb" stroke-width="0.3" />
<line x1="342.93" y1="425.60" x2="342.93" y2="426.10" stroke="#bbb" stroke-width="0.3" />
<line x1="347.09" y1="425.60" x2="347.09" y2="426.10" stroke="#bbb" stroke-width="0.3" />
<line x1="351.25" y1="425.60" x2="351.25" y2="426.10" stroke="#bbb" stroke-width="0.3" />
<line x1="355.42" y1="425.60" x2="355.42" y2="426.10" stroke="#bbb" stroke-width="0.3" />
<line x1="359.58" y1="425.60" x2="359.58" y2="426.10" stroke="#bbb" stroke-width="0.3" />
<line x1="363.75" y1="425.60" x2="363.75" y2="426.10" stroke="#bbb" stroke-width="0.3" />
<line x1="367.91" y1="425.60" x2="367.91" y2="426.10" stroke="#bbb" stroke-width="0.3" />
<line x1="372.07" y1="425.60" x2="372.07" y2="426.10" stroke="#bbb" stroke-width="0.3" />
<line x1="376.24" y1="425.60" x2="376.24" y2="426.10" stroke="#bbb" stroke-width="0.3" />
<line x1="380.40" y1="425.60" x2="380.40" y2="426.10" stroke="#bbb" stroke-width="0.3" />
<rect x="348.80" y="425.80" width="2.0" height="1.2" fill="#222"/>
<text x="378.40" y="404.20" font-size="6.4" text-anchor="end" fill="#111" stroke="#111" stroke-width="0.16" font-weight="normal" font-style="normal" >68.6</text>
<text x="368.50" y="389.70" font-size="4.1" text-anchor="middle" fill="#4a4a4a" stroke="#4a4a4a" stroke-width="0.05" font-weight="normal" font-style="normal" >PD-L1</text>
<text x="368.50" y="394.50" font-size="4.1" text-anchor="middle" fill="#4a4a4a" stroke="#4a4a4a" stroke-width="0.05" font-weight="normal" font-style="normal" >68.6</text>
<line x1="288.10" y1="439.40" x2="295.50" y2="439.40" stroke="#80c6dc" stroke-width="0.9" />
<text x="298.80" y="441.50" font-size="6.0" text-anchor="start" fill="#222" stroke="#222" stroke-width="0.16" font-weight="normal" font-style="normal" >Isotype</text>
<line x1="321.00" y1="439.40" x2="328.40" y2="439.40" stroke="#cc4a62" stroke-width="0.9" />
<text x="331.70" y="441.50" font-size="6.0" text-anchor="start" fill="#222" stroke="#222" stroke-width="0.16" font-weight="normal" font-style="normal" textLength="32.5" lengthAdjust="spacingAndGlyphs">PD-L1-APC</text>
<line x1="426.20" y1="330.50" x2="426.20" y2="424.80" stroke="#333" stroke-width="1.4" />
<line x1="425.50" y1="424.20" x2="491.70" y2="424.20" stroke="#333" stroke-width="1.3" />
<line x1="423.20" y1="424.20" x2="426.20" y2="424.20" stroke="#333" stroke-width="1.1" />
<text x="420.20" y="426.50" font-size="6.4" text-anchor="end" fill="#222" stroke="#222" stroke-width="0.16" font-weight="normal" font-style="normal" >0</text>
<line x1="423.20" y1="401.43" x2="426.20" y2="401.43" stroke="#333" stroke-width="1.1" />
<text x="420.20" y="403.73" font-size="6.4" text-anchor="end" fill="#222" stroke="#222" stroke-width="0.16" font-weight="normal" font-style="normal" >20</text>
<line x1="423.20" y1="378.65" x2="426.20" y2="378.65" stroke="#333" stroke-width="1.1" />
<text x="420.20" y="380.95" font-size="6.4" text-anchor="end" fill="#222" stroke="#222" stroke-width="0.16" font-weight="normal" font-style="normal" >40</text>
<line x1="423.20" y1="355.88" x2="426.20" y2="355.88" stroke="#333" stroke-width="1.1" />
<text x="420.20" y="358.18" font-size="6.4" text-anchor="end" fill="#222" stroke="#222" stroke-width="0.16" font-weight="normal" font-style="normal" >60</text>
<line x1="423.20" y1="333.10" x2="426.20" y2="333.10" stroke="#333" stroke-width="1.1" />
<text x="420.20" y="335.40" font-size="6.4" text-anchor="end" fill="#222" stroke="#222" stroke-width="0.16" font-weight="normal" font-style="normal" >80</text>
<rect x="431.60" y="422.04" width="8.00" height="2.16" fill="#8e9abf"/>
<line x1="435.60" y1="424.20" x2="435.60" y2="426.80" stroke="#333" stroke-width="0.9" />
<text x="435.60" y="435.40" font-size="6.5" text-anchor="middle" fill="#222" stroke="#222" stroke-width="0.16" font-weight="normal" font-style="normal" >0</text>
<line x1="435.60" y1="421.87" x2="435.60" y2="422.04" stroke="#1d3660" stroke-width="0.7" />
<line x1="433.60" y1="421.87" x2="437.60" y2="421.87" stroke="#1d3660" stroke-width="0.7" />
<circle cx="432.60" cy="422.04" r="1.45" fill="#1d3660"/>
<circle cx="435.60" cy="421.81" r="1.45" fill="#1d3660"/>
<circle cx="438.60" cy="422.15" r="1.45" fill="#1d3660"/>
<rect x="446.70" y="421.24" width="8.00" height="2.96" fill="#8e9abf"/>
<line x1="450.70" y1="424.20" x2="450.70" y2="426.80" stroke="#333" stroke-width="0.9" />
<text x="450.70" y="435.40" font-size="6.5" text-anchor="middle" fill="#222" stroke="#222" stroke-width="0.16" font-weight="normal" font-style="normal" >0.5</text>
<line x1="450.70" y1="421.07" x2="450.70" y2="421.24" stroke="#1d3660" stroke-width="0.7" />
<line x1="448.70" y1="421.07" x2="452.70" y2="421.07" stroke="#1d3660" stroke-width="0.7" />
<circle cx="447.70" cy="421.24" r="1.45" fill="#1d3660"/>
<circle cx="450.70" cy="420.90" r="1.45" fill="#1d3660"/>
<circle cx="453.70" cy="421.24" r="1.45" fill="#1d3660"/>
<rect x="461.80" y="407.00" width="8.00" height="17.20" fill="#8e9abf"/>
<line x1="465.80" y1="424.20" x2="465.80" y2="426.80" stroke="#333" stroke-width="0.9" />
<text x="465.80" y="435.40" font-size="6.5" text-anchor="middle" fill="#222" stroke="#222" stroke-width="0.16" font-weight="normal" font-style="normal" >20</text>
<line x1="465.80" y1="404.84" x2="465.80" y2="407.00" stroke="#1d3660" stroke-width="0.7" />
<line x1="463.80" y1="404.84" x2="467.80" y2="404.84" stroke="#1d3660" stroke-width="0.7" />
<circle cx="465.80" cy="402.68" r="1.45" fill="#1d3660"/>
<circle cx="462.80" cy="407.00" r="1.45" fill="#1d3660"/>
<circle cx="468.80" cy="407.00" r="1.45" fill="#1d3660"/>
<rect x="476.80" y="352.12" width="8.00" height="72.08" fill="#8e9abf"/>
<line x1="480.80" y1="424.20" x2="480.80" y2="426.80" stroke="#333" stroke-width="0.9" />
<text x="480.80" y="435.40" font-size="6.5" text-anchor="middle" fill="#222" stroke="#222" stroke-width="0.16" font-weight="normal" font-style="normal" >100</text>
<line x1="480.80" y1="347.45" x2="480.80" y2="352.12" stroke="#1d3660" stroke-width="0.7" />
<line x1="478.80" y1="347.45" x2="482.80" y2="347.45" stroke="#1d3660" stroke-width="0.7" />
<circle cx="480.80" cy="346.42" r="1.45" fill="#1d3660"/>
<circle cx="480.80" cy="349.27" r="1.45" fill="#1d3660"/>
<circle cx="480.80" cy="355.76" r="1.45" fill="#1d3660"/>
<line x1="435.60" y1="351.50" x2="450.70" y2="351.50" stroke="#333" stroke-width="1.2" />
<text x="444.20" y="347.70" font-size="6.4" text-anchor="middle" fill="#222" stroke="#222" stroke-width="0.16" font-weight="normal" font-style="normal" ><tspan font-style="italic">P</tspan> = .1006</text>
<line x1="435.60" y1="331.50" x2="465.80" y2="331.50" stroke="#333" stroke-width="1.2" />
<text x="450.60" y="327.70" font-size="6.4" text-anchor="middle" fill="#222" stroke="#222" stroke-width="0.16" font-weight="normal" font-style="normal" ><tspan font-style="italic">P</tspan> = .0003</text>
<line x1="435.60" y1="314.50" x2="480.80" y2="314.50" stroke="#333" stroke-width="1.2" />
<text x="457.80" y="310.70" font-size="6.4" text-anchor="middle" fill="#222" stroke="#222" stroke-width="0.16" font-weight="normal" font-style="normal" ><tspan font-style="italic">P</tspan> &lt; .0001</text>
<text transform="translate(406.90,377.50) rotate(-90)" font-size="6.4" font-weight="bold" text-anchor="middle" fill="#2a2a2a" textLength="43" lengthAdjust="spacingAndGlyphs">PD-L1<tspan font-size="4" dy="-2">+</tspan><tspan dy="2"> cells (%)</tspan></text>
<text x="406.20" y="435.40" font-size="6.3" text-anchor="start" fill="#222" stroke="#222" stroke-width="0.16" font-weight="normal" font-style="normal" >IFN-γ</text>
<text x="6.00" y="468.60" font-size="10.5" text-anchor="start" fill="#111" stroke="#111" stroke-width="0.16" font-weight="bold" font-style="normal" >E</text>
<text x="75.20" y="468.60" font-size="6.0" text-anchor="middle" fill="#1a1a1a" stroke="#1a1a1a" stroke-width="0.16" font-weight="normal" font-style="normal" textLength="59.5" lengthAdjust="spacingAndGlyphs">MV4-11 +IFN-γ(ng/ml)</text>
<line x1="44.20" y1="471.80" x2="106.00" y2="471.80" stroke="#333" stroke-width="0.8" />
<text x="44.50" y="479.10" font-size="6.1" text-anchor="middle" fill="#1a1a1a" stroke="#1a1a1a" stroke-width="0.16" font-weight="normal" font-style="normal" >0</text>
<text x="106.60" y="479.10" font-size="6.1" text-anchor="middle" fill="#1a1a1a" stroke="#1a1a1a" stroke-width="0.16" font-weight="normal" font-style="normal" >20</text>
<text x="44.60" y="543.80" font-size="6.1" text-anchor="middle" fill="#1a1a1a" stroke="#1a1a1a" stroke-width="0.16" font-weight="normal" font-style="normal" >100</text>
<text x="106.50" y="543.80" font-size="6.1" text-anchor="middle" fill="#1a1a1a" stroke="#1a1a1a" stroke-width="0.16" font-weight="normal" font-style="normal" >200</text>
<ellipse cx="48.90" cy="514.70" rx="3.10" ry="5.0" fill="#f59a92" opacity="0.45" filter="url(#bl8)"/>
<ellipse cx="48.40" cy="514.90" rx="3.00" ry="4.9" fill="url(#rg)" opacity="0.50" filter="url(#bl4)"/>
<path d="M48.2,515.1h0.6v0.6h-0.6zM47.0,511.7h0.6v0.6h-0.6zM47.3,513.4h0.6v0.6h-0.6zM46.7,514.4h0.6v0.6h-0.6zM49.1,519.9h0.6v0.6h-0.6zM51.4,514.6h0.6v0.6h-0.6zM50.0,514.1h0.6v0.6h-0.6zM49.2,514.6h0.6v0.6h-0.6zM47.9,514.9h0.6v0.6h-0.6zM46.5,515.8h0.6v0.6h-0.6zM48.2,511.9h0.6v0.6h-0.6zM48.1,516.1h0.6v0.6h-0.6zM47.6,515.9h0.6v0.6h-0.6zM49.5,518.7h0.6v0.6h-0.6zM47.0,514.4h0.6v0.6h-0.6zM49.4,518.5h0.6v0.6h-0.6zM49.0,516.6h0.6v0.6h-0.6zM46.5,513.2h0.6v0.6h-0.6zM51.1,514.0h0.6v0.6h-0.6zM51.8,512.8h0.6v0.6h-0.6zM48.2,510.6h0.6v0.6h-0.6zM49.6,515.4h0.6v0.6h-0.6zM51.6,515.1h0.6v0.6h-0.6zM48.3,511.1h0.6v0.6h-0.6zM48.5,517.1h0.6v0.6h-0.6zM49.7,517.8h0.6v0.6h-0.6zM49.9,514.6h0.6v0.6h-0.6zM49.5,515.1h0.6v0.6h-0.6zM46.7,519.1h0.6v0.6h-0.6zM49.2,512.0h0.6v0.6h-0.6z" fill="#e8403a" opacity="0.5"/>
<ellipse cx="43.60" cy="515.20" rx="4.1" ry="6.9" fill="#7fd6e6" opacity="0.55" filter="url(#bl5)" transform="rotate(9 43.60 515.20)"/>
<ellipse cx="43.60" cy="515.20" rx="3.4" ry="6.0" fill="#20a6bf" filter="url(#bl3)" transform="rotate(9 43.60 515.20)"/>
<rect x="19.40" y="481.20" width="51.80" height="47.80" fill="none" stroke="#b5b5b5" stroke-width="0.6"/>
<line x1="19.40" y1="529.00" x2="71.20" y2="529.00" stroke="#999" stroke-width="0.6" />
<line x1="18.40" y1="490.76" x2="19.40" y2="490.76" stroke="#aaa" stroke-width="0.5" />
<line x1="18.40" y1="500.32" x2="19.40" y2="500.32" stroke="#aaa" stroke-width="0.5" />
<line x1="18.40" y1="509.88" x2="19.40" y2="509.88" stroke="#aaa" stroke-width="0.5" />
<line x1="18.40" y1="519.44" x2="19.40" y2="519.44" stroke="#aaa" stroke-width="0.5" />
<rect x="46.40" y="504.80" width="24.80" height="20.00" fill="none" stroke="#7a7a7a" stroke-width="0.7"/>
<text x="23.80" y="535.80" font-size="4.2" text-anchor="middle" fill="#444" stroke="#444" stroke-width="0.05" font-weight="normal" font-style="normal" >−10³</text>
<line x1="23.80" y1="529.00" x2="23.80" y2="529.90" stroke="#888" stroke-width="0.4" />
<text x="38.30" y="535.80" font-size="4.2" text-anchor="middle" fill="#444" stroke="#444" stroke-width="0.05" font-weight="normal" font-style="normal" >0</text>
<line x1="38.30" y1="529.00" x2="38.30" y2="529.90" stroke="#888" stroke-width="0.4" />
<text x="49.60" y="535.80" font-size="4.2" text-anchor="middle" fill="#444" stroke="#444" stroke-width="0.05" font-weight="normal" font-style="normal" >10³</text>
<line x1="49.60" y1="529.00" x2="49.60" y2="529.90" stroke="#888" stroke-width="0.4" />
<line x1="22.40" y1="529.00" x2="22.40" y2="529.50" stroke="#bbb" stroke-width="0.3" />
<line x1="26.56" y1="529.00" x2="26.56" y2="529.50" stroke="#bbb" stroke-width="0.3" />
<line x1="30.73" y1="529.00" x2="30.73" y2="529.50" stroke="#bbb" stroke-width="0.3" />
<line x1="34.89" y1="529.00" x2="34.89" y2="529.50" stroke="#bbb" stroke-width="0.3" />
<line x1="39.05" y1="529.00" x2="39.05" y2="529.50" stroke="#bbb" stroke-width="0.3" />
<line x1="43.22" y1="529.00" x2="43.22" y2="529.50" stroke="#bbb" stroke-width="0.3" />
<line x1="47.38" y1="529.00" x2="47.38" y2="529.50" stroke="#bbb" stroke-width="0.3" />
<line x1="51.55" y1="529.00" x2="51.55" y2="529.50" stroke="#bbb" stroke-width="0.3" />
<line x1="55.71" y1="529.00" x2="55.71" y2="529.50" stroke="#bbb" stroke-width="0.3" />
<line x1="59.87" y1="529.00" x2="59.87" y2="529.50" stroke="#bbb" stroke-width="0.3" />
<line x1="64.04" y1="529.00" x2="64.04" y2="529.50" stroke="#bbb" stroke-width="0.3" />
<line x1="68.20" y1="529.00" x2="68.20" y2="529.50" stroke="#bbb" stroke-width="0.3" />
<rect x="36.60" y="529.20" width="2.0" height="1.2" fill="#222"/>
<text x="67.70" y="511.10" font-size="6.4" text-anchor="end" fill="#111" stroke="#111" stroke-width="0.16" font-weight="normal" font-style="normal" >9.66</text>
<text x="63.10" y="497.50" font-size="4.1" text-anchor="middle" fill="#4a4a4a" stroke="#4a4a4a" stroke-width="0.05" font-weight="normal" font-style="normal" >IGSF9</text>
<text x="63.10" y="502.30" font-size="4.1" text-anchor="middle" fill="#4a4a4a" stroke="#4a4a4a" stroke-width="0.05" font-weight="normal" font-style="normal" >9.66</text>
<ellipse cx="111.50" cy="514.70" rx="3.60" ry="5.0" fill="#f59a92" opacity="0.45" filter="url(#bl8)"/>
<ellipse cx="110.92" cy="514.90" rx="3.48" ry="4.9" fill="url(#rg)" opacity="0.60" filter="url(#bl4)"/>
<path d="M111.9,515.4h0.6v0.6h-0.6zM112.9,518.4h0.6v0.6h-0.6zM113.8,512.3h0.6v0.6h-0.6zM111.8,515.6h0.6v0.6h-0.6zM109.3,513.5h0.6v0.6h-0.6zM111.5,516.6h0.6v0.6h-0.6zM115.0,515.5h0.6v0.6h-0.6zM110.2,508.6h0.6v0.6h-0.6zM113.1,514.4h0.6v0.6h-0.6zM111.0,512.2h0.6v0.6h-0.6zM112.5,510.1h0.6v0.6h-0.6zM111.4,515.0h0.6v0.6h-0.6zM111.7,518.1h0.6v0.6h-0.6zM111.0,514.9h0.6v0.6h-0.6zM112.7,510.7h0.6v0.6h-0.6zM110.7,514.9h0.6v0.6h-0.6zM112.9,512.6h0.6v0.6h-0.6zM112.6,515.7h0.6v0.6h-0.6zM108.6,510.9h0.6v0.6h-0.6zM108.7,515.1h0.6v0.6h-0.6zM111.6,516.6h0.6v0.6h-0.6zM112.6,513.3h0.6v0.6h-0.6zM113.1,516.8h0.6v0.6h-0.6zM112.0,515.9h0.6v0.6h-0.6zM109.0,515.6h0.6v0.6h-0.6zM109.4,511.6h0.6v0.6h-0.6zM110.6,515.1h0.6v0.6h-0.6zM111.1,513.8h0.6v0.6h-0.6zM109.5,515.2h0.6v0.6h-0.6zM109.9,511.1h0.6v0.6h-0.6zM111.4,518.5h0.6v0.6h-0.6zM110.5,512.0h0.6v0.6h-0.6zM113.6,519.1h0.6v0.6h-0.6zM110.7,514.2h0.6v0.6h-0.6zM111.6,522.3h0.6v0.6h-0.6zM111.4,517.3h0.6v0.6h-0.6zM112.0,510.0h0.6v0.6h-0.6zM109.3,511.5h0.6v0.6h-0.6zM112.0,515.0h0.6v0.6h-0.6z" fill="#e8403a" opacity="0.5"/>
<ellipse cx="105.80" cy="515.20" rx="4.1" ry="6.9" fill="#7fd6e6" opacity="0.55" filter="url(#bl5)" transform="rotate(9 105.80 515.20)"/>
<ellipse cx="105.80" cy="515.20" rx="3.4" ry="6.0" fill="#20a6bf" filter="url(#bl3)" transform="rotate(9 105.80 515.20)"/>
<rect x="81.60" y="481.20" width="51.80" height="47.80" fill="none" stroke="#b5b5b5" stroke-width="0.6"/>
<line x1="81.60" y1="529.00" x2="133.40" y2="529.00" stroke="#999" stroke-width="0.6" />
<line x1="80.60" y1="490.76" x2="81.60" y2="490.76" stroke="#aaa" stroke-width="0.5" />
<line x1="80.60" y1="500.32" x2="81.60" y2="500.32" stroke="#aaa" stroke-width="0.5" />
<line x1="80.60" y1="509.88" x2="81.60" y2="509.88" stroke="#aaa" stroke-width="0.5" />
<line x1="80.60" y1="519.44" x2="81.60" y2="519.44" stroke="#aaa" stroke-width="0.5" />
<rect x="108.60" y="504.80" width="24.80" height="20.00" fill="none" stroke="#7a7a7a" stroke-width="0.7"/>
<text x="86.00" y="535.80" font-size="4.2" text-anchor="middle" fill="#444" stroke="#444" stroke-width="0.05" font-weight="normal" font-style="normal" >−10³</text>
<line x1="86.00" y1="529.00" x2="86.00" y2="529.90" stroke="#888" stroke-width="0.4" />
<text x="100.50" y="535.80" font-size="4.2" text-anchor="middle" fill="#444" stroke="#444" stroke-width="0.05" font-weight="normal" font-style="normal" >0</text>
<line x1="100.50" y1="529.00" x2="100.50" y2="529.90" stroke="#888" stroke-width="0.4" />
<text x="111.80" y="535.80" font-size="4.2" text-anchor="middle" fill="#444" stroke="#444" stroke-width="0.05" font-weight="normal" font-style="normal" >10³</text>
<line x1="111.80" y1="529.00" x2="111.80" y2="529.90" stroke="#888" stroke-width="0.4" />
<line x1="84.60" y1="529.00" x2="84.60" y2="529.50" stroke="#bbb" stroke-width="0.3" />
<line x1="88.76" y1="529.00" x2="88.76" y2="529.50" stroke="#bbb" stroke-width="0.3" />
<line x1="92.93" y1="529.00" x2="92.93" y2="529.50" stroke="#bbb" stroke-width="0.3" />
<line x1="97.09" y1="529.00" x2="97.09" y2="529.50" stroke="#bbb" stroke-width="0.3" />
<line x1="101.25" y1="529.00" x2="101.25" y2="529.50" stroke="#bbb" stroke-width="0.3" />
<line x1="105.42" y1="529.00" x2="105.42" y2="529.50" stroke="#bbb" stroke-width="0.3" />
<line x1="109.58" y1="529.00" x2="109.58" y2="529.50" stroke="#bbb" stroke-width="0.3" />
<line x1="113.75" y1="529.00" x2="113.75" y2="529.50" stroke="#bbb" stroke-width="0.3" />
<line x1="117.91" y1="529.00" x2="117.91" y2="529.50" stroke="#bbb" stroke-width="0.3" />
<line x1="122.07" y1="529.00" x2="122.07" y2="529.50" stroke="#bbb" stroke-width="0.3" />
<line x1="126.24" y1="529.00" x2="126.24" y2="529.50" stroke="#bbb" stroke-width="0.3" />
<line x1="130.40" y1="529.00" x2="130.40" y2="529.50" stroke="#bbb" stroke-width="0.3" />
<rect x="98.80" y="529.20" width="2.0" height="1.2" fill="#222"/>
<text x="129.90" y="511.10" font-size="6.4" text-anchor="end" fill="#111" stroke="#111" stroke-width="0.16" font-weight="normal" font-style="normal" >22.2</text>
<text x="125.30" y="497.50" font-size="4.1" text-anchor="middle" fill="#4a4a4a" stroke="#4a4a4a" stroke-width="0.05" font-weight="normal" font-style="normal" >IGSF9</text>
<text x="125.30" y="502.30" font-size="4.1" text-anchor="middle" fill="#4a4a4a" stroke="#4a4a4a" stroke-width="0.05" font-weight="normal" font-style="normal" >22.2</text>
<ellipse cx="50.50" cy="579.30" rx="5.14" ry="5.0" fill="#f59a92" opacity="0.45" filter="url(#bl8)"/>
<ellipse cx="49.20" cy="579.50" rx="4.20" ry="4.9" fill="url(#rg)" opacity="0.75" filter="url(#bl4)"/>
<path d="M53.8,578.6h0.6v0.6h-0.6zM50.3,579.5h0.6v0.6h-0.6zM49.9,585.3h0.6v0.6h-0.6zM50.2,583.1h0.6v0.6h-0.6zM52.7,577.7h0.6v0.6h-0.6zM51.2,578.3h0.6v0.6h-0.6zM49.8,579.7h0.6v0.6h-0.6zM49.6,578.1h0.6v0.6h-0.6zM53.3,578.6h0.6v0.6h-0.6zM51.2,583.7h0.6v0.6h-0.6zM51.0,582.0h0.6v0.6h-0.6zM52.9,582.1h0.6v0.6h-0.6zM53.7,575.6h0.6v0.6h-0.6zM54.2,579.4h0.6v0.6h-0.6zM46.2,579.2h0.6v0.6h-0.6zM46.0,576.7h0.6v0.6h-0.6zM50.3,579.7h0.6v0.6h-0.6zM47.6,578.7h0.6v0.6h-0.6zM49.3,579.5h0.6v0.6h-0.6zM49.5,578.7h0.6v0.6h-0.6zM51.7,575.1h0.6v0.6h-0.6zM48.4,579.6h0.6v0.6h-0.6zM48.6,577.9h0.6v0.6h-0.6zM48.5,579.8h0.6v0.6h-0.6zM52.5,578.8h0.6v0.6h-0.6zM48.9,580.2h0.6v0.6h-0.6zM49.0,574.3h0.6v0.6h-0.6zM50.2,578.3h0.6v0.6h-0.6zM48.2,580.9h0.6v0.6h-0.6zM49.7,577.8h0.6v0.6h-0.6zM49.6,579.0h0.6v0.6h-0.6zM50.6,579.9h0.6v0.6h-0.6zM48.4,576.0h0.6v0.6h-0.6zM46.9,578.9h0.6v0.6h-0.6zM46.8,581.3h0.6v0.6h-0.6zM46.4,574.6h0.6v0.6h-0.6zM49.1,574.7h0.6v0.6h-0.6zM53.5,576.7h0.6v0.6h-0.6zM49.4,578.7h0.6v0.6h-0.6zM47.6,574.7h0.6v0.6h-0.6zM52.0,584.9h0.6v0.6h-0.6zM46.0,580.8h0.6v0.6h-0.6zM49.5,581.5h0.6v0.6h-0.6zM48.3,581.2h0.6v0.6h-0.6zM51.7,580.9h0.6v0.6h-0.6zM53.0,578.8h0.6v0.6h-0.6zM53.3,577.5h0.6v0.6h-0.6zM53.6,572.2h0.6v0.6h-0.6zM49.6,577.2h0.6v0.6h-0.6zM49.6,582.0h0.6v0.6h-0.6zM51.3,579.5h0.6v0.6h-0.6zM53.6,575.5h0.6v0.6h-0.6zM47.6,583.2h0.6v0.6h-0.6zM50.3,573.9h0.6v0.6h-0.6zM50.4,576.2h0.6v0.6h-0.6zM53.1,582.3h0.6v0.6h-0.6zM48.2,582.7h0.6v0.6h-0.6zM47.5,581.7h0.6v0.6h-0.6zM50.9,579.0h0.6v0.6h-0.6zM46.1,578.6h0.6v0.6h-0.6z" fill="#e8403a" opacity="0.5"/>
<ellipse cx="43.60" cy="579.80" rx="4.1" ry="6.9" fill="#7fd6e6" opacity="0.55" filter="url(#bl5)" transform="rotate(9 43.60 579.80)"/>
<ellipse cx="43.60" cy="579.80" rx="3.4" ry="6.0" fill="#20a6bf" filter="url(#bl3)" transform="rotate(9 43.60 579.80)"/>
<rect x="19.40" y="545.80" width="51.80" height="47.80" fill="none" stroke="#b5b5b5" stroke-width="0.6"/>
<line x1="19.40" y1="593.60" x2="71.20" y2="593.60" stroke="#999" stroke-width="0.6" />
<line x1="18.40" y1="555.36" x2="19.40" y2="555.36" stroke="#aaa" stroke-width="0.5" />
<line x1="18.40" y1="564.92" x2="19.40" y2="564.92" stroke="#aaa" stroke-width="0.5" />
<line x1="18.40" y1="574.48" x2="19.40" y2="574.48" stroke="#aaa" stroke-width="0.5" />
<line x1="18.40" y1="584.04" x2="19.40" y2="584.04" stroke="#aaa" stroke-width="0.5" />
<rect x="46.40" y="569.40" width="24.80" height="20.00" fill="none" stroke="#7a7a7a" stroke-width="0.7"/>
<text x="23.80" y="600.40" font-size="4.2" text-anchor="middle" fill="#444" stroke="#444" stroke-width="0.05" font-weight="normal" font-style="normal" >−10³</text>
<line x1="23.80" y1="593.60" x2="23.80" y2="594.50" stroke="#888" stroke-width="0.4" />
<text x="38.30" y="600.40" font-size="4.2" text-anchor="middle" fill="#444" stroke="#444" stroke-width="0.05" font-weight="normal" font-style="normal" >0</text>
<line x1="38.30" y1="593.60" x2="38.30" y2="594.50" stroke="#888" stroke-width="0.4" />
<text x="49.60" y="600.40" font-size="4.2" text-anchor="middle" fill="#444" stroke="#444" stroke-width="0.05" font-weight="normal" font-style="normal" >10³</text>
<line x1="49.60" y1="593.60" x2="49.60" y2="594.50" stroke="#888" stroke-width="0.4" />
<line x1="22.40" y1="593.60" x2="22.40" y2="594.10" stroke="#bbb" stroke-width="0.3" />
<line x1="26.56" y1="593.60" x2="26.56" y2="594.10" stroke="#bbb" stroke-width="0.3" />
<line x1="30.73" y1="593.60" x2="30.73" y2="594.10" stroke="#bbb" stroke-width="0.3" />
<line x1="34.89" y1="593.60" x2="34.89" y2="594.10" stroke="#bbb" stroke-width="0.3" />
<line x1="39.05" y1="593.60" x2="39.05" y2="594.10" stroke="#bbb" stroke-width="0.3" />
<line x1="43.22" y1="593.60" x2="43.22" y2="594.10" stroke="#bbb" stroke-width="0.3" />
<line x1="47.38" y1="593.60" x2="47.38" y2="594.10" stroke="#bbb" stroke-width="0.3" />
<line x1="51.55" y1="593.60" x2="51.55" y2="594.10" stroke="#bbb" stroke-width="0.3" />
<line x1="55.71" y1="593.60" x2="55.71" y2="594.10" stroke="#bbb" stroke-width="0.3" />
<line x1="59.87" y1="593.60" x2="59.87" y2="594.10" stroke="#bbb" stroke-width="0.3" />
<line x1="64.04" y1="593.60" x2="64.04" y2="594.10" stroke="#bbb" stroke-width="0.3" />
<line x1="68.20" y1="593.60" x2="68.20" y2="594.10" stroke="#bbb" stroke-width="0.3" />
<rect x="36.60" y="593.80" width="2.0" height="1.2" fill="#222"/>
<text x="67.70" y="575.70" font-size="6.4" text-anchor="end" fill="#111" stroke="#111" stroke-width="0.16" font-weight="normal" font-style="normal" >42.8</text>
<text x="63.10" y="562.10" font-size="4.1" text-anchor="middle" fill="#4a4a4a" stroke="#4a4a4a" stroke-width="0.05" font-weight="normal" font-style="normal" >IGSF9</text>
<text x="63.10" y="566.90" font-size="4.1" text-anchor="middle" fill="#4a4a4a" stroke="#4a4a4a" stroke-width="0.05" font-weight="normal" font-style="normal" >42.8</text>
<ellipse cx="113.20" cy="579.30" rx="5.76" ry="5.0" fill="#f59a92" opacity="0.45" filter="url(#bl8)"/>
<ellipse cx="111.80" cy="579.50" rx="4.80" ry="4.9" fill="url(#rg)" opacity="0.80" filter="url(#bl4)"/>
<path d="M109.6,573.0h0.6v0.6h-0.6zM113.8,580.3h0.6v0.6h-0.6zM110.8,584.8h0.6v0.6h-0.6zM114.3,579.5h0.6v0.6h-0.6zM110.5,571.6h0.6v0.6h-0.6zM113.5,581.8h0.6v0.6h-0.6zM110.6,575.6h0.6v0.6h-0.6zM112.1,575.0h0.6v0.6h-0.6zM112.2,581.3h0.6v0.6h-0.6zM116.3,580.0h0.6v0.6h-0.6zM112.7,581.2h0.6v0.6h-0.6zM116.0,578.5h0.6v0.6h-0.6zM108.9,577.2h0.6v0.6h-0.6zM108.8,577.0h0.6v0.6h-0.6zM111.9,580.2h0.6v0.6h-0.6zM112.6,579.5h0.6v0.6h-0.6zM111.2,580.4h0.6v0.6h-0.6zM114.6,581.3h0.6v0.6h-0.6zM116.2,578.5h0.6v0.6h-0.6zM111.5,583.7h0.6v0.6h-0.6zM112.7,580.4h0.6v0.6h-0.6zM111.3,581.8h0.6v0.6h-0.6zM111.1,576.7h0.6v0.6h-0.6zM112.0,578.2h0.6v0.6h-0.6zM114.5,578.3h0.6v0.6h-0.6zM112.5,578.7h0.6v0.6h-0.6zM113.1,577.7h0.6v0.6h-0.6zM115.2,575.6h0.6v0.6h-0.6zM111.2,577.5h0.6v0.6h-0.6zM113.9,579.4h0.6v0.6h-0.6zM113.5,578.4h0.6v0.6h-0.6zM110.3,576.4h0.6v0.6h-0.6zM111.3,577.9h0.6v0.6h-0.6zM113.0,580.2h0.6v0.6h-0.6zM114.8,579.0h0.6v0.6h-0.6zM110.2,576.5h0.6v0.6h-0.6zM112.4,580.2h0.6v0.6h-0.6zM117.5,579.8h0.6v0.6h-0.6zM116.9,584.2h0.6v0.6h-0.6zM109.4,582.4h0.6v0.6h-0.6zM115.3,582.8h0.6v0.6h-0.6zM112.2,581.8h0.6v0.6h-0.6zM110.9,579.1h0.6v0.6h-0.6zM112.3,583.9h0.6v0.6h-0.6zM111.6,581.8h0.6v0.6h-0.6zM112.4,577.5h0.6v0.6h-0.6zM112.9,581.0h0.6v0.6h-0.6zM110.3,580.9h0.6v0.6h-0.6zM110.3,577.0h0.6v0.6h-0.6zM112.8,578.7h0.6v0.6h-0.6zM109.5,575.1h0.6v0.6h-0.6zM112.3,579.9h0.6v0.6h-0.6zM111.0,579.8h0.6v0.6h-0.6zM113.3,580.0h0.6v0.6h-0.6zM110.5,579.5h0.6v0.6h-0.6zM112.6,582.1h0.6v0.6h-0.6zM112.9,580.0h0.6v0.6h-0.6zM110.2,581.5h0.6v0.6h-0.6zM115.4,578.0h0.6v0.6h-0.6zM113.9,580.1h0.6v0.6h-0.6zM112.1,576.0h0.6v0.6h-0.6zM116.9,574.5h0.6v0.6h-0.6zM113.0,578.3h0.6v0.6h-0.6zM115.3,578.2h0.6v0.6h-0.6zM112.3,580.9h0.6v0.6h-0.6zM113.4,577.9h0.6v0.6h-0.6zM114.0,580.3h0.6v0.6h-0.6zM114.9,578.0h0.6v0.6h-0.6zM112.1,578.3h0.6v0.6h-0.6zM109.9,580.0h0.6v0.6h-0.6zM113.3,583.0h0.6v0.6h-0.6zM111.3,580.3h0.6v0.6h-0.6zM115.3,579.0h0.6v0.6h-0.6z" fill="#e8403a" opacity="0.5"/>
<ellipse cx="105.80" cy="579.80" rx="4.1" ry="6.9" fill="#7fd6e6" opacity="0.55" filter="url(#bl5)" transform="rotate(9 105.80 579.80)"/>
<ellipse cx="105.80" cy="579.80" rx="3.4" ry="6.0" fill="#20a6bf" filter="url(#bl3)" transform="rotate(9 105.80 579.80)"/>
<rect x="81.60" y="545.80" width="51.80" height="47.80" fill="none" stroke="#b5b5b5" stroke-width="0.6"/>
<line x1="81.60" y1="593.60" x2="133.40" y2="593.60" stroke="#999" stroke-width="0.6" />
<line x1="80.60" y1="555.36" x2="81.60" y2="555.36" stroke="#aaa" stroke-width="0.5" />
<line x1="80.60" y1="564.92" x2="81.60" y2="564.92" stroke="#aaa" stroke-width="0.5" />
<line x1="80.60" y1="574.48" x2="81.60" y2="574.48" stroke="#aaa" stroke-width="0.5" />
<line x1="80.60" y1="584.04" x2="81.60" y2="584.04" stroke="#aaa" stroke-width="0.5" />
<rect x="108.60" y="569.40" width="24.80" height="20.00" fill="none" stroke="#7a7a7a" stroke-width="0.7"/>
<text x="86.00" y="600.40" font-size="4.2" text-anchor="middle" fill="#444" stroke="#444" stroke-width="0.05" font-weight="normal" font-style="normal" >−10³</text>
<line x1="86.00" y1="593.60" x2="86.00" y2="594.50" stroke="#888" stroke-width="0.4" />
<text x="100.50" y="600.40" font-size="4.2" text-anchor="middle" fill="#444" stroke="#444" stroke-width="0.05" font-weight="normal" font-style="normal" >0</text>
<line x1="100.50" y1="593.60" x2="100.50" y2="594.50" stroke="#888" stroke-width="0.4" />
<text x="111.80" y="600.40" font-size="4.2" text-anchor="middle" fill="#444" stroke="#444" stroke-width="0.05" font-weight="normal" font-style="normal" >10³</text>
<line x1="111.80" y1="593.60" x2="111.80" y2="594.50" stroke="#888" stroke-width="0.4" />
<line x1="84.60" y1="593.60" x2="84.60" y2="594.10" stroke="#bbb" stroke-width="0.3" />
<line x1="88.76" y1="593.60" x2="88.76" y2="594.10" stroke="#bbb" stroke-width="0.3" />
<line x1="92.93" y1="593.60" x2="92.93" y2="594.10" stroke="#bbb" stroke-width="0.3" />
<line x1="97.09" y1="593.60" x2="97.09" y2="594.10" stroke="#bbb" stroke-width="0.3" />
<line x1="101.25" y1="593.60" x2="101.25" y2="594.10" stroke="#bbb" stroke-width="0.3" />
<line x1="105.42" y1="593.60" x2="105.42" y2="594.10" stroke="#bbb" stroke-width="0.3" />
<line x1="109.58" y1="593.60" x2="109.58" y2="594.10" stroke="#bbb" stroke-width="0.3" />
<line x1="113.75" y1="593.60" x2="113.75" y2="594.10" stroke="#bbb" stroke-width="0.3" />
<line x1="117.91" y1="593.60" x2="117.91" y2="594.10" stroke="#bbb" stroke-width="0.3" />
<line x1="122.07" y1="593.60" x2="122.07" y2="594.10" stroke="#bbb" stroke-width="0.3" />
<line x1="126.24" y1="593.60" x2="126.24" y2="594.10" stroke="#bbb" stroke-width="0.3" />
<line x1="130.40" y1="593.60" x2="130.40" y2="594.10" stroke="#bbb" stroke-width="0.3" />
<rect x="98.80" y="593.80" width="2.0" height="1.2" fill="#222"/>
<text x="129.90" y="575.70" font-size="6.4" text-anchor="end" fill="#111" stroke="#111" stroke-width="0.16" font-weight="normal" font-style="normal" >46.0</text>
<text x="125.30" y="562.10" font-size="4.1" text-anchor="middle" fill="#4a4a4a" stroke="#4a4a4a" stroke-width="0.05" font-weight="normal" font-style="normal" >IGSF9</text>
<text x="125.30" y="566.90" font-size="4.1" text-anchor="middle" fill="#4a4a4a" stroke="#4a4a4a" stroke-width="0.05" font-weight="normal" font-style="normal" >46.0</text>
<line x1="38.10" y1="607.40" x2="45.50" y2="607.40" stroke="#80c6dc" stroke-width="0.9" />
<text x="48.80" y="609.50" font-size="6.0" text-anchor="start" fill="#222" stroke="#222" stroke-width="0.16" font-weight="normal" font-style="normal" >Isotype</text>
<line x1="71.00" y1="607.40" x2="78.40" y2="607.40" stroke="#cc4a62" stroke-width="0.9" />
<text x="81.70" y="609.50" font-size="6.0" text-anchor="start" fill="#222" stroke="#222" stroke-width="0.16" font-weight="normal" font-style="normal" textLength="33" lengthAdjust="spacingAndGlyphs">IGSF9-APC</text>
<line x1="176.20" y1="498.50" x2="176.20" y2="592.80" stroke="#333" stroke-width="1.4" />
<line x1="175.50" y1="592.20" x2="241.70" y2="592.20" stroke="#333" stroke-width="1.3" />
<line x1="173.20" y1="592.20" x2="176.20" y2="592.20" stroke="#333" stroke-width="1.1" />
<text x="170.20" y="594.50" font-size="6.4" text-anchor="end" fill="#222" stroke="#222" stroke-width="0.16" font-weight="normal" font-style="normal" >0</text>
<line x1="173.20" y1="561.83" x2="176.20" y2="561.83" stroke="#333" stroke-width="1.1" />
<text x="170.20" y="564.13" font-size="6.4" text-anchor="end" fill="#222" stroke="#222" stroke-width="0.16" font-weight="normal" font-style="normal" >20</text>
<line x1="173.20" y1="531.47" x2="176.20" y2="531.47" stroke="#333" stroke-width="1.1" />
<text x="170.20" y="533.77" font-size="6.4" text-anchor="end" fill="#222" stroke="#222" stroke-width="0.16" font-weight="normal" font-style="normal" >40</text>
<line x1="173.20" y1="501.10" x2="176.20" y2="501.10" stroke="#333" stroke-width="1.1" />
<text x="170.20" y="503.40" font-size="6.4" text-anchor="end" fill="#222" stroke="#222" stroke-width="0.16" font-weight="normal" font-style="normal" >60</text>
<rect x="181.60" y="577.93" width="8.00" height="14.27" fill="#8e9abf"/>
<line x1="185.60" y1="592.20" x2="185.60" y2="594.80" stroke="#333" stroke-width="0.9" />
<text x="185.60" y="603.40" font-size="6.5" text-anchor="middle" fill="#222" stroke="#222" stroke-width="0.16" font-weight="normal" font-style="normal" >0</text>
<line x1="185.60" y1="576.56" x2="185.60" y2="577.93" stroke="#1d3660" stroke-width="0.7" />
<line x1="183.60" y1="576.56" x2="187.60" y2="576.56" stroke="#1d3660" stroke-width="0.7" />
<circle cx="182.60" cy="576.11" r="1.45" fill="#1d3660"/>
<circle cx="188.60" cy="577.47" r="1.45" fill="#1d3660"/>
<circle cx="185.60" cy="578.84" r="1.45" fill="#1d3660"/>
<rect x="196.70" y="559.10" width="8.00" height="33.10" fill="#8e9abf"/>
<line x1="200.70" y1="592.20" x2="200.70" y2="594.80" stroke="#333" stroke-width="0.9" />
<text x="200.70" y="603.40" font-size="6.5" text-anchor="middle" fill="#222" stroke="#222" stroke-width="0.16" font-weight="normal" font-style="normal" >20</text>
<line x1="200.70" y1="556.97" x2="200.70" y2="559.10" stroke="#1d3660" stroke-width="0.7" />
<line x1="198.70" y1="556.97" x2="202.70" y2="556.97" stroke="#1d3660" stroke-width="0.7" />
<circle cx="200.70" cy="554.24" r="1.45" fill="#1d3660"/>
<circle cx="197.20" cy="558.49" r="1.45" fill="#1d3660"/>
<circle cx="204.20" cy="558.49" r="1.45" fill="#1d3660"/>
<rect x="211.80" y="527.22" width="8.00" height="64.98" fill="#8e9abf"/>
<line x1="215.80" y1="592.20" x2="215.80" y2="594.80" stroke="#333" stroke-width="0.9" />
<text x="215.80" y="603.40" font-size="6.5" text-anchor="middle" fill="#222" stroke="#222" stroke-width="0.16" font-weight="normal" font-style="normal" >100</text>
<line x1="215.80" y1="526.30" x2="215.80" y2="527.22" stroke="#1d3660" stroke-width="0.7" />
<line x1="213.80" y1="526.30" x2="217.80" y2="526.30" stroke="#1d3660" stroke-width="0.7" />
<circle cx="212.30" cy="525.24" r="1.45" fill="#1d3660"/>
<circle cx="215.80" cy="527.06" r="1.45" fill="#1d3660"/>
<circle cx="219.30" cy="527.06" r="1.45" fill="#1d3660"/>
<rect x="226.80" y="523.12" width="8.00" height="69.08" fill="#8e9abf"/>
<line x1="230.80" y1="592.20" x2="230.80" y2="594.80" stroke="#333" stroke-width="0.9" />
<text x="230.80" y="603.40" font-size="6.5" text-anchor="middle" fill="#222" stroke="#222" stroke-width="0.16" font-weight="normal" font-style="normal" >200</text>
<line x1="230.80" y1="519.70" x2="230.80" y2="523.12" stroke="#1d3660" stroke-width="0.7" />
<line x1="228.80" y1="519.70" x2="232.80" y2="519.70" stroke="#1d3660" stroke-width="0.7" />
<circle cx="230.80" cy="515.37" r="1.45" fill="#1d3660"/>
<circle cx="227.30" cy="522.20" r="1.45" fill="#1d3660"/>
<circle cx="234.30" cy="521.14" r="1.45" fill="#1d3660"/>
<line x1="185.60" y1="518.50" x2="200.70" y2="518.50" stroke="#333" stroke-width="1.2" />
<text x="194.20" y="514.70" font-size="6.4" text-anchor="middle" fill="#222" stroke="#222" stroke-width="0.16" font-weight="normal" font-style="normal" ><tspan font-style="italic">P</tspan> = .0010</text>
<line x1="185.60" y1="498.50" x2="215.80" y2="498.50" stroke="#333" stroke-width="1.2" />
<text x="200.60" y="494.70" font-size="6.4" text-anchor="middle" fill="#222" stroke="#222" stroke-width="0.16" font-weight="normal" font-style="normal" ><tspan font-style="italic">P</tspan> &lt; .0001</text>
<line x1="185.60" y1="481.50" x2="230.80" y2="481.50" stroke="#333" stroke-width="1.2" />
<text x="207.80" y="477.70" font-size="6.4" text-anchor="middle" fill="#222" stroke="#222" stroke-width="0.16" font-weight="normal" font-style="normal" ><tspan font-style="italic">P</tspan> &lt; .0001</text>
<text transform="translate(156.90,545.50) rotate(-90)" font-size="6.4" font-weight="bold" text-anchor="middle" fill="#2a2a2a" textLength="43" lengthAdjust="spacingAndGlyphs">IGSF9<tspan font-size="4" dy="-2">+</tspan><tspan dy="2"> cells (%)</tspan></text>
<text x="156.20" y="603.40" font-size="6.3" text-anchor="start" fill="#222" stroke="#222" stroke-width="0.16" font-weight="normal" font-style="normal" >IFN-γ</text>
<text x="256.00" y="468.60" font-size="10.5" text-anchor="start" fill="#111" stroke="#111" stroke-width="0.16" font-weight="bold" font-style="normal" >F</text>
<text x="325.20" y="468.60" font-size="6.0" text-anchor="middle" fill="#1a1a1a" stroke="#1a1a1a" stroke-width="0.16" font-weight="normal" font-style="normal" textLength="59.3" lengthAdjust="spacingAndGlyphs">MV4-11+IFN-γ(ng/ml)</text>
<line x1="294.20" y1="471.80" x2="356.00" y2="471.80" stroke="#333" stroke-width="0.8" />
<text x="294.50" y="479.10" font-size="6.1" text-anchor="middle" fill="#1a1a1a" stroke="#1a1a1a" stroke-width="0.16" font-weight="normal" font-style="normal" >0</text>
<text x="356.60" y="479.10" font-size="6.1" text-anchor="middle" fill="#1a1a1a" stroke="#1a1a1a" stroke-width="0.16" font-weight="normal" font-style="normal" >20</text>
<text x="294.60" y="543.80" font-size="6.1" text-anchor="middle" fill="#1a1a1a" stroke="#1a1a1a" stroke-width="0.16" font-weight="normal" font-style="normal" >100</text>
<text x="356.50" y="543.80" font-size="6.1" text-anchor="middle" fill="#1a1a1a" stroke="#1a1a1a" stroke-width="0.16" font-weight="normal" font-style="normal" >200</text>
<ellipse cx="293.60" cy="515.00" rx="4.1" ry="6.9" fill="#7fd6e6" opacity="0.55" filter="url(#bl5)" transform="rotate(9 293.60 515.00)"/>
<ellipse cx="293.60" cy="515.00" rx="3.4" ry="6.0" fill="#20a6bf" filter="url(#bl3)" transform="rotate(9 293.60 515.00)"/>
<rect x="269.40" y="481.20" width="51.80" height="47.80" fill="none" stroke="#b5b5b5" stroke-width="0.6"/>
<line x1="269.40" y1="529.00" x2="321.20" y2="529.00" stroke="#999" stroke-width="0.6" />
<line x1="268.40" y1="490.76" x2="269.40" y2="490.76" stroke="#aaa" stroke-width="0.5" />
<line x1="268.40" y1="500.32" x2="269.40" y2="500.32" stroke="#aaa" stroke-width="0.5" />
<line x1="268.40" y1="509.88" x2="269.40" y2="509.88" stroke="#aaa" stroke-width="0.5" />
<line x1="268.40" y1="519.44" x2="269.40" y2="519.44" stroke="#aaa" stroke-width="0.5" />
<rect x="296.40" y="504.80" width="24.80" height="20.00" fill="none" stroke="#7a7a7a" stroke-width="0.7"/>
<text x="273.80" y="535.80" font-size="4.2" text-anchor="middle" fill="#444" stroke="#444" stroke-width="0.05" font-weight="normal" font-style="normal" >−10³</text>
<line x1="273.80" y1="529.00" x2="273.80" y2="529.90" stroke="#888" stroke-width="0.4" />
<text x="288.30" y="535.80" font-size="4.2" text-anchor="middle" fill="#444" stroke="#444" stroke-width="0.05" font-weight="normal" font-style="normal" >0</text>
<line x1="288.30" y1="529.00" x2="288.30" y2="529.90" stroke="#888" stroke-width="0.4" />
<text x="299.60" y="535.80" font-size="4.2" text-anchor="middle" fill="#444" stroke="#444" stroke-width="0.05" font-weight="normal" font-style="normal" >10³</text>
<line x1="299.60" y1="529.00" x2="299.60" y2="529.90" stroke="#888" stroke-width="0.4" />
<line x1="272.40" y1="529.00" x2="272.40" y2="529.50" stroke="#bbb" stroke-width="0.3" />
<line x1="276.56" y1="529.00" x2="276.56" y2="529.50" stroke="#bbb" stroke-width="0.3" />
<line x1="280.73" y1="529.00" x2="280.73" y2="529.50" stroke="#bbb" stroke-width="0.3" />
<line x1="284.89" y1="529.00" x2="284.89" y2="529.50" stroke="#bbb" stroke-width="0.3" />
<line x1="289.05" y1="529.00" x2="289.05" y2="529.50" stroke="#bbb" stroke-width="0.3" />
<line x1="293.22" y1="529.00" x2="293.22" y2="529.50" stroke="#bbb" stroke-width="0.3" />
<line x1="297.38" y1="529.00" x2="297.38" y2="529.50" stroke="#bbb" stroke-width="0.3" />
<line x1="301.55" y1="529.00" x2="301.55" y2="529.50" stroke="#bbb" stroke-width="0.3" />
<line x1="305.71" y1="529.00" x2="305.71" y2="529.50" stroke="#bbb" stroke-width="0.3" />
<line x1="309.87" y1="529.00" x2="309.87" y2="529.50" stroke="#bbb" stroke-width="0.3" />
<line x1="314.04" y1="529.00" x2="314.04" y2="529.50" stroke="#bbb" stroke-width="0.3" />
<line x1="318.20" y1="529.00" x2="318.20" y2="529.50" stroke="#bbb" stroke-width="0.3" />
<rect x="286.60" y="529.20" width="2.0" height="1.2" fill="#222"/>
<text x="317.70" y="511.10" font-size="6.4" text-anchor="end" fill="#111" stroke="#111" stroke-width="0.16" font-weight="normal" font-style="normal" >1.81</text>
<text x="313.10" y="497.50" font-size="4.1" text-anchor="middle" fill="#4a4a4a" stroke="#4a4a4a" stroke-width="0.05" font-weight="normal" font-style="normal" >PD-L1</text>
<text x="313.10" y="502.30" font-size="4.1" text-anchor="middle" fill="#4a4a4a" stroke="#4a4a4a" stroke-width="0.05" font-weight="normal" font-style="normal" >1.81</text>
<ellipse cx="361.90" cy="514.50" rx="4.12" ry="5.0" fill="#f59a92" opacity="0.45" filter="url(#bl8)"/>
<ellipse cx="361.00" cy="514.70" rx="3.60" ry="4.9" fill="url(#rg)" opacity="0.50" filter="url(#bl4)"/>
<path d="M361.4,514.8h0.6v0.6h-0.6zM360.0,511.9h0.6v0.6h-0.6zM363.5,514.9h0.6v0.6h-0.6zM361.2,511.3h0.6v0.6h-0.6zM361.5,517.5h0.6v0.6h-0.6zM359.1,512.2h0.6v0.6h-0.6zM363.5,518.2h0.6v0.6h-0.6zM364.3,513.1h0.6v0.6h-0.6zM362.5,512.6h0.6v0.6h-0.6zM362.3,513.6h0.6v0.6h-0.6zM361.7,518.0h0.6v0.6h-0.6zM362.0,513.9h0.6v0.6h-0.6zM361.4,515.2h0.6v0.6h-0.6zM360.3,515.0h0.6v0.6h-0.6zM362.5,518.5h0.6v0.6h-0.6zM358.9,516.8h0.6v0.6h-0.6zM366.0,515.0h0.6v0.6h-0.6zM361.5,517.4h0.6v0.6h-0.6zM360.3,513.2h0.6v0.6h-0.6zM362.0,513.0h0.6v0.6h-0.6zM363.5,514.5h0.6v0.6h-0.6zM362.0,521.1h0.6v0.6h-0.6zM360.4,516.9h0.6v0.6h-0.6zM359.7,517.7h0.6v0.6h-0.6zM363.2,514.9h0.6v0.6h-0.6zM363.2,518.7h0.6v0.6h-0.6zM364.0,514.5h0.6v0.6h-0.6zM361.2,517.4h0.6v0.6h-0.6zM358.5,512.9h0.6v0.6h-0.6zM362.2,516.0h0.6v0.6h-0.6zM364.9,519.0h0.6v0.6h-0.6zM361.9,515.6h0.6v0.6h-0.6zM358.8,514.0h0.6v0.6h-0.6z" fill="#e8403a" opacity="0.5"/>
<ellipse cx="355.80" cy="515.00" rx="4.1" ry="6.9" fill="#7fd6e6" opacity="0.55" filter="url(#bl5)" transform="rotate(9 355.80 515.00)"/>
<ellipse cx="355.80" cy="515.00" rx="3.4" ry="6.0" fill="#20a6bf" filter="url(#bl3)" transform="rotate(9 355.80 515.00)"/>
<rect x="331.60" y="481.20" width="51.80" height="47.80" fill="none" stroke="#b5b5b5" stroke-width="0.6"/>
<line x1="331.60" y1="529.00" x2="383.40" y2="529.00" stroke="#999" stroke-width="0.6" />
<line x1="330.60" y1="490.76" x2="331.60" y2="490.76" stroke="#aaa" stroke-width="0.5" />
<line x1="330.60" y1="500.32" x2="331.60" y2="500.32" stroke="#aaa" stroke-width="0.5" />
<line x1="330.60" y1="509.88" x2="331.60" y2="509.88" stroke="#aaa" stroke-width="0.5" />
<line x1="330.60" y1="519.44" x2="331.60" y2="519.44" stroke="#aaa" stroke-width="0.5" />
<rect x="358.60" y="504.80" width="24.80" height="20.00" fill="none" stroke="#7a7a7a" stroke-width="0.7"/>
<text x="336.00" y="535.80" font-size="4.2" text-anchor="middle" fill="#444" stroke="#444" stroke-width="0.05" font-weight="normal" font-style="normal" >−10³</text>
<line x1="336.00" y1="529.00" x2="336.00" y2="529.90" stroke="#888" stroke-width="0.4" />
<text x="350.50" y="535.80" font-size="4.2" text-anchor="middle" fill="#444" stroke="#444" stroke-width="0.05" font-weight="normal" font-style="normal" >0</text>
<line x1="350.50" y1="529.00" x2="350.50" y2="529.90" stroke="#888" stroke-width="0.4" />
<text x="361.80" y="535.80" font-size="4.2" text-anchor="middle" fill="#444" stroke="#444" stroke-width="0.05" font-weight="normal" font-style="normal" >10³</text>
<line x1="361.80" y1="529.00" x2="361.80" y2="529.90" stroke="#888" stroke-width="0.4" />
<line x1="334.60" y1="529.00" x2="334.60" y2="529.50" stroke="#bbb" stroke-width="0.3" />
<line x1="338.76" y1="529.00" x2="338.76" y2="529.50" stroke="#bbb" stroke-width="0.3" />
<line x1="342.93" y1="529.00" x2="342.93" y2="529.50" stroke="#bbb" stroke-width="0.3" />
<line x1="347.09" y1="529.00" x2="347.09" y2="529.50" stroke="#bbb" stroke-width="0.3" />
<line x1="351.25" y1="529.00" x2="351.25" y2="529.50" stroke="#bbb" stroke-width="0.3" />
<line x1="355.42" y1="529.00" x2="355.42" y2="529.50" stroke="#bbb" stroke-width="0.3" />
<line x1="359.58" y1="529.00" x2="359.58" y2="529.50" stroke="#bbb" stroke-width="0.3" />
<line x1="363.75" y1="529.00" x2="363.75" y2="529.50" stroke="#bbb" stroke-width="0.3" />
<line x1="367.91" y1="529.00" x2="367.91" y2="529.50" stroke="#bbb" stroke-width="0.3" />
<line x1="372.07" y1="529.00" x2="372.07" y2="529.50" stroke="#bbb" stroke-width="0.3" />
<line x1="376.24" y1="529.00" x2="376.24" y2="529.50" stroke="#bbb" stroke-width="0.3" />
<line x1="380.40" y1="529.00" x2="380.40" y2="529.50" stroke="#bbb" stroke-width="0.3" />
<rect x="348.80" y="529.20" width="2.0" height="1.2" fill="#222"/>
<text x="379.90" y="511.10" font-size="6.4" text-anchor="end" fill="#111" stroke="#111" stroke-width="0.16" font-weight="normal" font-style="normal" >19.4</text>
<text x="375.30" y="497.50" font-size="4.1" text-anchor="middle" fill="#4a4a4a" stroke="#4a4a4a" stroke-width="0.05" font-weight="normal" font-style="normal" >PD-L1</text>
<text x="375.30" y="502.30" font-size="4.1" text-anchor="middle" fill="#4a4a4a" stroke="#4a4a4a" stroke-width="0.05" font-weight="normal" font-style="normal" >19.4</text>
<ellipse cx="300.75" cy="579.10" rx="5.45" ry="5.0" fill="#f59a92" opacity="0.45" filter="url(#bl8)"/>
<ellipse cx="299.40" cy="579.30" rx="4.50" ry="4.9" fill="url(#rg)" opacity="0.70" filter="url(#bl4)"/>
<path d="M300.4,578.5h0.6v0.6h-0.6zM299.9,580.7h0.6v0.6h-0.6zM297.4,577.6h0.6v0.6h-0.6zM297.1,574.7h0.6v0.6h-0.6zM301.7,578.5h0.6v0.6h-0.6zM302.2,578.2h0.6v0.6h-0.6zM305.1,580.9h0.6v0.6h-0.6zM300.2,579.4h0.6v0.6h-0.6zM299.3,581.2h0.6v0.6h-0.6zM304.8,578.0h0.6v0.6h-0.6zM297.0,580.6h0.6v0.6h-0.6zM302.5,575.3h0.6v0.6h-0.6zM298.0,576.5h0.6v0.6h-0.6zM301.2,580.4h0.6v0.6h-0.6zM297.9,576.2h0.6v0.6h-0.6zM301.5,573.8h0.6v0.6h-0.6zM301.4,578.7h0.6v0.6h-0.6zM304.6,581.7h0.6v0.6h-0.6zM298.3,578.4h0.6v0.6h-0.6zM299.1,577.2h0.6v0.6h-0.6zM300.0,581.6h0.6v0.6h-0.6zM296.0,578.5h0.6v0.6h-0.6zM303.5,581.0h0.6v0.6h-0.6zM297.7,577.0h0.6v0.6h-0.6zM297.6,575.0h0.6v0.6h-0.6zM302.7,579.3h0.6v0.6h-0.6zM298.0,575.4h0.6v0.6h-0.6zM298.8,577.8h0.6v0.6h-0.6zM304.1,577.9h0.6v0.6h-0.6zM300.1,581.8h0.6v0.6h-0.6zM301.5,578.6h0.6v0.6h-0.6zM301.3,578.0h0.6v0.6h-0.6zM299.6,576.7h0.6v0.6h-0.6zM297.5,575.3h0.6v0.6h-0.6zM301.0,580.4h0.6v0.6h-0.6zM300.2,581.1h0.6v0.6h-0.6zM301.1,579.4h0.6v0.6h-0.6zM297.6,580.6h0.6v0.6h-0.6zM302.8,580.7h0.6v0.6h-0.6zM302.9,577.9h0.6v0.6h-0.6zM297.3,582.3h0.6v0.6h-0.6zM298.3,579.7h0.6v0.6h-0.6zM299.3,579.2h0.6v0.6h-0.6zM299.1,577.7h0.6v0.6h-0.6zM300.3,574.2h0.6v0.6h-0.6zM297.5,576.2h0.6v0.6h-0.6zM297.9,572.6h0.6v0.6h-0.6zM301.2,583.3h0.6v0.6h-0.6zM299.2,581.0h0.6v0.6h-0.6zM301.3,575.9h0.6v0.6h-0.6zM302.8,574.8h0.6v0.6h-0.6zM298.3,578.2h0.6v0.6h-0.6zM302.9,579.4h0.6v0.6h-0.6zM299.5,577.1h0.6v0.6h-0.6zM300.0,579.2h0.6v0.6h-0.6zM301.6,582.7h0.6v0.6h-0.6zM301.6,579.1h0.6v0.6h-0.6zM299.4,583.2h0.6v0.6h-0.6zM300.3,579.1h0.6v0.6h-0.6z" fill="#e8403a" opacity="0.5"/>
<ellipse cx="293.60" cy="579.60" rx="4.1" ry="6.9" fill="#7fd6e6" opacity="0.55" filter="url(#bl5)" transform="rotate(9 293.60 579.60)"/>
<ellipse cx="293.60" cy="579.60" rx="3.4" ry="6.0" fill="#20a6bf" filter="url(#bl3)" transform="rotate(9 293.60 579.60)"/>
<rect x="269.40" y="545.80" width="51.80" height="47.80" fill="none" stroke="#b5b5b5" stroke-width="0.6"/>
<line x1="269.40" y1="593.60" x2="321.20" y2="593.60" stroke="#999" stroke-width="0.6" />
<line x1="268.40" y1="555.36" x2="269.40" y2="555.36" stroke="#aaa" stroke-width="0.5" />
<line x1="268.40" y1="564.92" x2="269.40" y2="564.92" stroke="#aaa" stroke-width="0.5" />
<line x1="268.40" y1="574.48" x2="269.40" y2="574.48" stroke="#aaa" stroke-width="0.5" />
<line x1="268.40" y1="584.04" x2="269.40" y2="584.04" stroke="#aaa" stroke-width="0.5" />
<rect x="296.40" y="569.40" width="24.80" height="20.00" fill="none" stroke="#7a7a7a" stroke-width="0.7"/>
<text x="273.80" y="600.40" font-size="4.2" text-anchor="middle" fill="#444" stroke="#444" stroke-width="0.05" font-weight="normal" font-style="normal" >−10³</text>
<line x1="273.80" y1="593.60" x2="273.80" y2="594.50" stroke="#888" stroke-width="0.4" />
<text x="288.30" y="600.40" font-size="4.2" text-anchor="middle" fill="#444" stroke="#444" stroke-width="0.05" font-weight="normal" font-style="normal" >0</text>
<line x1="288.30" y1="593.60" x2="288.30" y2="594.50" stroke="#888" stroke-width="0.4" />
<text x="299.60" y="600.40" font-size="4.2" text-anchor="middle" fill="#444" stroke="#444" stroke-width="0.05" font-weight="normal" font-style="normal" >10³</text>
<line x1="299.60" y1="593.60" x2="299.60" y2="594.50" stroke="#888" stroke-width="0.4" />
<line x1="272.40" y1="593.60" x2="272.40" y2="594.10" stroke="#bbb" stroke-width="0.3" />
<line x1="276.56" y1="593.60" x2="276.56" y2="594.10" stroke="#bbb" stroke-width="0.3" />
<line x1="280.73" y1="593.60" x2="280.73" y2="594.10" stroke="#bbb" stroke-width="0.3" />
<line x1="284.89" y1="593.60" x2="284.89" y2="594.10" stroke="#bbb" stroke-width="0.3" />
<line x1="289.05" y1="593.60" x2="289.05" y2="594.10" stroke="#bbb" stroke-width="0.3" />
<line x1="293.22" y1="593.60" x2="293.22" y2="594.10" stroke="#bbb" stroke-width="0.3" />
<line x1="297.38" y1="593.60" x2="297.38" y2="594.10" stroke="#bbb" stroke-width="0.3" />
<line x1="301.55" y1="593.60" x2="301.55" y2="594.10" stroke="#bbb" stroke-width="0.3" />
<line x1="305.71" y1="593.60" x2="305.71" y2="594.10" stroke="#bbb" stroke-width="0.3" />
<line x1="309.87" y1="593.60" x2="309.87" y2="594.10" stroke="#bbb" stroke-width="0.3" />
<line x1="314.04" y1="593.60" x2="314.04" y2="594.10" stroke="#bbb" stroke-width="0.3" />
<line x1="318.20" y1="593.60" x2="318.20" y2="594.10" stroke="#bbb" stroke-width="0.3" />
<rect x="286.60" y="593.80" width="2.0" height="1.2" fill="#222"/>
<text x="317.70" y="575.70" font-size="6.4" text-anchor="end" fill="#111" stroke="#111" stroke-width="0.16" font-weight="normal" font-style="normal" >37.2</text>
<text x="313.10" y="562.10" font-size="4.1" text-anchor="middle" fill="#4a4a4a" stroke="#4a4a4a" stroke-width="0.05" font-weight="normal" font-style="normal" >PD-L1</text>
<text x="313.10" y="566.90" font-size="4.1" text-anchor="middle" fill="#4a4a4a" stroke="#4a4a4a" stroke-width="0.05" font-weight="normal" font-style="normal" >37.2</text>
<ellipse cx="363.50" cy="579.10" rx="6.16" ry="5.0" fill="#f59a92" opacity="0.45" filter="url(#bl8)"/>
<ellipse cx="361.80" cy="579.30" rx="4.80" ry="4.9" fill="url(#rg)" opacity="0.70" filter="url(#bl4)"/>
<path d="M367.2,583.1h0.6v0.6h-0.6zM363.8,578.8h0.6v0.6h-0.6zM360.4,581.8h0.6v0.6h-0.6zM360.9,581.5h0.6v0.6h-0.6zM360.0,579.4h0.6v0.6h-0.6zM363.3,579.5h0.6v0.6h-0.6zM362.9,580.1h0.6v0.6h-0.6zM359.1,576.3h0.6v0.6h-0.6zM361.8,583.7h0.6v0.6h-0.6zM361.9,576.7h0.6v0.6h-0.6zM360.4,579.2h0.6v0.6h-0.6zM365.5,577.7h0.6v0.6h-0.6zM363.8,579.6h0.6v0.6h-0.6zM361.2,576.7h0.6v0.6h-0.6zM361.8,577.3h0.6v0.6h-0.6zM363.7,574.6h0.6v0.6h-0.6zM365.3,581.0h0.6v0.6h-0.6zM363.8,582.9h0.6v0.6h-0.6zM363.9,574.8h0.6v0.6h-0.6zM362.3,580.2h0.6v0.6h-0.6zM360.3,576.2h0.6v0.6h-0.6zM363.4,580.4h0.6v0.6h-0.6zM361.0,578.5h0.6v0.6h-0.6zM360.8,577.7h0.6v0.6h-0.6zM362.0,581.8h0.6v0.6h-0.6zM366.7,579.9h0.6v0.6h-0.6zM362.6,581.2h0.6v0.6h-0.6zM359.4,576.0h0.6v0.6h-0.6zM362.9,581.3h0.6v0.6h-0.6zM361.0,577.4h0.6v0.6h-0.6zM363.3,580.7h0.6v0.6h-0.6zM362.9,574.3h0.6v0.6h-0.6zM360.7,572.7h0.6v0.6h-0.6zM362.9,576.9h0.6v0.6h-0.6zM360.4,582.9h0.6v0.6h-0.6zM365.9,580.3h0.6v0.6h-0.6zM363.0,579.5h0.6v0.6h-0.6zM360.6,579.0h0.6v0.6h-0.6zM367.5,576.9h0.6v0.6h-0.6zM360.4,579.5h0.6v0.6h-0.6zM364.7,581.2h0.6v0.6h-0.6zM359.5,578.8h0.6v0.6h-0.6zM361.5,576.0h0.6v0.6h-0.6zM362.4,577.9h0.6v0.6h-0.6zM364.8,580.2h0.6v0.6h-0.6zM360.0,579.3h0.6v0.6h-0.6zM361.2,577.5h0.6v0.6h-0.6zM360.9,581.8h0.6v0.6h-0.6zM361.1,574.8h0.6v0.6h-0.6zM360.1,581.1h0.6v0.6h-0.6zM368.2,576.4h0.6v0.6h-0.6zM361.2,578.3h0.6v0.6h-0.6zM358.3,580.1h0.6v0.6h-0.6zM362.1,579.8h0.6v0.6h-0.6zM368.4,578.4h0.6v0.6h-0.6zM364.4,581.2h0.6v0.6h-0.6zM360.4,577.6h0.6v0.6h-0.6zM366.5,580.9h0.6v0.6h-0.6zM362.6,576.3h0.6v0.6h-0.6zM364.6,580.4h0.6v0.6h-0.6zM368.3,582.8h0.6v0.6h-0.6zM364.4,579.8h0.6v0.6h-0.6zM362.4,577.7h0.6v0.6h-0.6zM363.1,579.7h0.6v0.6h-0.6zM364.0,581.8h0.6v0.6h-0.6z" fill="#e8403a" opacity="0.5"/>
<ellipse cx="355.80" cy="579.60" rx="4.1" ry="6.9" fill="#7fd6e6" opacity="0.55" filter="url(#bl5)" transform="rotate(9 355.80 579.60)"/>
<ellipse cx="355.80" cy="579.60" rx="3.4" ry="6.0" fill="#20a6bf" filter="url(#bl3)" transform="rotate(9 355.80 579.60)"/>
<rect x="331.60" y="545.80" width="51.80" height="47.80" fill="none" stroke="#b5b5b5" stroke-width="0.6"/>
<line x1="331.60" y1="593.60" x2="383.40" y2="593.60" stroke="#999" stroke-width="0.6" />
<line x1="330.60" y1="555.36" x2="331.60" y2="555.36" stroke="#aaa" stroke-width="0.5" />
<line x1="330.60" y1="564.92" x2="331.60" y2="564.92" stroke="#aaa" stroke-width="0.5" />
<line x1="330.60" y1="574.48" x2="331.60" y2="574.48" stroke="#aaa" stroke-width="0.5" />
<line x1="330.60" y1="584.04" x2="331.60" y2="584.04" stroke="#aaa" stroke-width="0.5" />
<rect x="358.60" y="569.40" width="24.80" height="20.00" fill="none" stroke="#7a7a7a" stroke-width="0.7"/>
<text x="336.00" y="600.40" font-size="4.2" text-anchor="middle" fill="#444" stroke="#444" stroke-width="0.05" font-weight="normal" font-style="normal" >−10³</text>
<line x1="336.00" y1="593.60" x2="336.00" y2="594.50" stroke="#888" stroke-width="0.4" />
<text x="350.50" y="600.40" font-size="4.2" text-anchor="middle" fill="#444" stroke="#444" stroke-width="0.05" font-weight="normal" font-style="normal" >0</text>
<line x1="350.50" y1="593.60" x2="350.50" y2="594.50" stroke="#888" stroke-width="0.4" />
<text x="361.80" y="600.40" font-size="4.2" text-anchor="middle" fill="#444" stroke="#444" stroke-width="0.05" font-weight="normal" font-style="normal" >10³</text>
<line x1="361.80" y1="593.60" x2="361.80" y2="594.50" stroke="#888" stroke-width="0.4" />
<line x1="334.60" y1="593.60" x2="334.60" y2="594.10" stroke="#bbb" stroke-width="0.3" />
<line x1="338.76" y1="593.60" x2="338.76" y2="594.10" stroke="#bbb" stroke-width="0.3" />
<line x1="342.93" y1="593.60" x2="342.93" y2="594.10" stroke="#bbb" stroke-width="0.3" />
<line x1="347.09" y1="593.60" x2="347.09" y2="594.10" stroke="#bbb" stroke-width="0.3" />
<line x1="351.25" y1="593.60" x2="351.25" y2="594.10" stroke="#bbb" stroke-width="0.3" />
<line x1="355.42" y1="593.60" x2="355.42" y2="594.10" stroke="#bbb" stroke-width="0.3" />
<line x1="359.58" y1="593.60" x2="359.58" y2="594.10" stroke="#bbb" stroke-width="0.3" />
<line x1="363.75" y1="593.60" x2="363.75" y2="594.10" stroke="#bbb" stroke-width="0.3" />
<line x1="367.91" y1="593.60" x2="367.91" y2="594.10" stroke="#bbb" stroke-width="0.3" />
<line x1="372.07" y1="593.60" x2="372.07" y2="594.10" stroke="#bbb" stroke-width="0.3" />
<line x1="376.24" y1="593.60" x2="376.24" y2="594.10" stroke="#bbb" stroke-width="0.3" />
<line x1="380.40" y1="593.60" x2="380.40" y2="594.10" stroke="#bbb" stroke-width="0.3" />
<rect x="348.80" y="593.80" width="2.0" height="1.2" fill="#222"/>
<text x="379.90" y="575.70" font-size="6.4" text-anchor="end" fill="#111" stroke="#111" stroke-width="0.16" font-weight="normal" font-style="normal" >43.0</text>
<text x="375.30" y="562.10" font-size="4.1" text-anchor="middle" fill="#4a4a4a" stroke="#4a4a4a" stroke-width="0.05" font-weight="normal" font-style="normal" >PD-L1</text>
<text x="375.30" y="566.90" font-size="4.1" text-anchor="middle" fill="#4a4a4a" stroke="#4a4a4a" stroke-width="0.05" font-weight="normal" font-style="normal" >43.0</text>
<line x1="288.10" y1="607.40" x2="295.50" y2="607.40" stroke="#80c6dc" stroke-width="0.9" />
<text x="298.80" y="609.50" font-size="6.0" text-anchor="start" fill="#222" stroke="#222" stroke-width="0.16" font-weight="normal" font-style="normal" >Isotype</text>
<line x1="321.00" y1="607.40" x2="328.40" y2="607.40" stroke="#cc4a62" stroke-width="0.9" />
<text x="331.70" y="609.50" font-size="6.0" text-anchor="start" fill="#222" stroke="#222" stroke-width="0.16" font-weight="normal" font-style="normal" textLength="32.5" lengthAdjust="spacingAndGlyphs">PD-L1-APC</text>
<line x1="426.20" y1="498.50" x2="426.20" y2="592.80" stroke="#333" stroke-width="1.4" />
<line x1="425.50" y1="592.20" x2="491.70" y2="592.20" stroke="#333" stroke-width="1.3" />
<line x1="423.20" y1="592.20" x2="426.20" y2="592.20" stroke="#333" stroke-width="1.1" />
<text x="420.20" y="594.50" font-size="6.4" text-anchor="end" fill="#222" stroke="#222" stroke-width="0.16" font-weight="normal" font-style="normal" >0</text>
<line x1="423.20" y1="561.83" x2="426.20" y2="561.83" stroke="#333" stroke-width="1.1" />
<text x="420.20" y="564.13" font-size="6.4" text-anchor="end" fill="#222" stroke="#222" stroke-width="0.16" font-weight="normal" font-style="normal" >20</text>
<line x1="423.20" y1="531.47" x2="426.20" y2="531.47" stroke="#333" stroke-width="1.1" />
<text x="420.20" y="533.77" font-size="6.4" text-anchor="end" fill="#222" stroke="#222" stroke-width="0.16" font-weight="normal" font-style="normal" >40</text>
<line x1="423.20" y1="501.10" x2="426.20" y2="501.10" stroke="#333" stroke-width="1.1" />
<text x="420.20" y="503.40" font-size="6.4" text-anchor="end" fill="#222" stroke="#222" stroke-width="0.16" font-weight="normal" font-style="normal" >60</text>
<rect x="431.60" y="589.77" width="8.00" height="2.43" fill="#8e9abf"/>
<line x1="435.60" y1="592.20" x2="435.60" y2="594.80" stroke="#333" stroke-width="0.9" />
<text x="435.60" y="603.40" font-size="6.5" text-anchor="middle" fill="#222" stroke="#222" stroke-width="0.16" font-weight="normal" font-style="normal" >0</text>
<line x1="435.60" y1="589.54" x2="435.60" y2="589.77" stroke="#1d3660" stroke-width="0.7" />
<line x1="433.60" y1="589.54" x2="437.60" y2="589.54" stroke="#1d3660" stroke-width="0.7" />
<circle cx="432.60" cy="589.47" r="1.45" fill="#1d3660"/>
<circle cx="435.60" cy="589.16" r="1.45" fill="#1d3660"/>
<circle cx="438.60" cy="589.62" r="1.45" fill="#1d3660"/>
<rect x="446.70" y="562.90" width="8.00" height="29.30" fill="#8e9abf"/>
<line x1="450.70" y1="592.20" x2="450.70" y2="594.80" stroke="#333" stroke-width="0.9" />
<text x="450.70" y="603.40" font-size="6.5" text-anchor="middle" fill="#222" stroke="#222" stroke-width="0.16" font-weight="normal" font-style="normal" >20</text>
<line x1="450.70" y1="562.59" x2="450.70" y2="562.90" stroke="#1d3660" stroke-width="0.7" />
<line x1="448.70" y1="562.59" x2="452.70" y2="562.59" stroke="#1d3660" stroke-width="0.7" />
<circle cx="447.50" cy="561.99" r="1.45" fill="#1d3660"/>
<circle cx="450.70" cy="561.38" r="1.45" fill="#1d3660"/>
<circle cx="453.90" cy="561.99" r="1.45" fill="#1d3660"/>
<rect x="461.80" y="537.24" width="8.00" height="54.96" fill="#8e9abf"/>
<line x1="465.80" y1="592.20" x2="465.80" y2="594.80" stroke="#333" stroke-width="0.9" />
<text x="465.80" y="603.40" font-size="6.5" text-anchor="middle" fill="#222" stroke="#222" stroke-width="0.16" font-weight="normal" font-style="normal" >100</text>
<line x1="465.80" y1="534.43" x2="465.80" y2="537.24" stroke="#1d3660" stroke-width="0.7" />
<line x1="463.80" y1="534.43" x2="467.80" y2="534.43" stroke="#1d3660" stroke-width="0.7" />
<circle cx="465.80" cy="532.99" r="1.45" fill="#1d3660"/>
<circle cx="465.80" cy="535.87" r="1.45" fill="#1d3660"/>
<circle cx="465.80" cy="538.60" r="1.45" fill="#1d3660"/>
<rect x="476.80" y="527.22" width="8.00" height="64.98" fill="#8e9abf"/>
<line x1="480.80" y1="592.20" x2="480.80" y2="594.80" stroke="#333" stroke-width="0.9" />
<text x="480.80" y="603.40" font-size="6.5" text-anchor="middle" fill="#222" stroke="#222" stroke-width="0.16" font-weight="normal" font-style="normal" >200</text>
<line x1="480.80" y1="519.70" x2="480.80" y2="527.22" stroke="#1d3660" stroke-width="0.7" />
<line x1="478.80" y1="519.70" x2="482.80" y2="519.70" stroke="#1d3660" stroke-width="0.7" />
<circle cx="480.80" cy="518.71" r="1.45" fill="#1d3660"/>
<circle cx="480.80" cy="529.34" r="1.45" fill="#1d3660"/>
<circle cx="480.80" cy="533.74" r="1.45" fill="#1d3660"/>
<line x1="435.60" y1="518.50" x2="450.70" y2="518.50" stroke="#333" stroke-width="1.2" />
<text x="444.20" y="514.70" font-size="6.4" text-anchor="middle" fill="#222" stroke="#222" stroke-width="0.16" font-weight="normal" font-style="normal" ><tspan font-style="italic">P</tspan> &lt; .0001</text>
<line x1="435.60" y1="498.50" x2="465.80" y2="498.50" stroke="#333" stroke-width="1.2" />
<text x="450.60" y="494.70" font-size="6.4" text-anchor="middle" fill="#222" stroke="#222" stroke-width="0.16" font-weight="normal" font-style="normal" ><tspan font-style="italic">P</tspan> &lt; .0001</text>
<line x1="435.60" y1="481.50" x2="480.80" y2="481.50" stroke="#333" stroke-width="1.2" />
<text x="457.80" y="477.70" font-size="6.4" text-anchor="middle" fill="#222" stroke="#222" stroke-width="0.16" font-weight="normal" font-style="normal" ><tspan font-style="italic">P</tspan> = .0001</text>
<text transform="translate(406.90,545.50) rotate(-90)" font-size="6.4" font-weight="bold" text-anchor="middle" fill="#2a2a2a" textLength="43" lengthAdjust="spacingAndGlyphs">PD-L1<tspan font-size="4" dy="-2">+</tspan><tspan dy="2"> cells (%)</tspan></text>
<text x="406.20" y="603.40" font-size="6.3" text-anchor="start" fill="#222" stroke="#222" stroke-width="0.16" font-weight="normal" font-style="normal" >IFN-γ</text>
<rect x="0.5" y="0.5" width="519" height="616" fill="none" stroke="#555" stroke-width="1"/>
</svg>
</body></html>
